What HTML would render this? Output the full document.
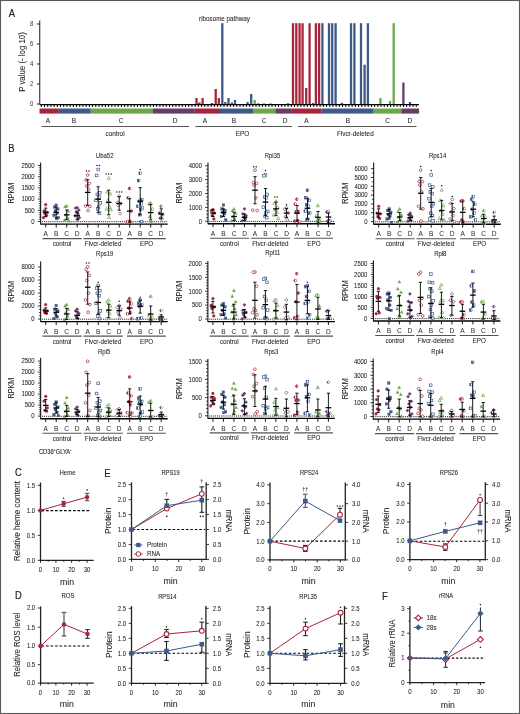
<!DOCTYPE html>
<html><head><meta charset="utf-8"><title>Figure</title>
<style>
html,body{margin:0;padding:0;background:#fff;}
body{width:520px;height:714px;overflow:hidden;}
svg{display:block;font-family:"Liberation Sans",sans-serif;will-change:transform;}
</style></head>
<body>
<svg width="520" height="714" viewBox="0 0 520 714">
<defs><linearGradient id="h0" x1="0" y1="0" x2="1" y2="0"><stop offset="0.5" stop-color="#a8243b"/><stop offset="0.5" stop-color="#fff"/></linearGradient><linearGradient id="h1" x1="0" y1="0" x2="1" y2="0"><stop offset="0.5" stop-color="#3d5a89"/><stop offset="0.5" stop-color="#fff"/></linearGradient><linearGradient id="h2" x1="0" y1="0" x2="1" y2="0"><stop offset="0.5" stop-color="#69a84c"/><stop offset="0.5" stop-color="#fff"/></linearGradient><linearGradient id="h3" x1="0" y1="0" x2="1" y2="0"><stop offset="0.5" stop-color="#683b6b"/><stop offset="0.5" stop-color="#fff"/></linearGradient></defs>
<rect x="0" y="0" width="520" height="714" fill="#fff"/>
<text transform="translate(11.95 17.32) scale(0.800 1)" font-size="11.76" text-anchor="middle" fill="#231f20" stroke="#231f20" stroke-width="0.22">A</text>
<line x1="39.75" y1="20.50" x2="39.75" y2="104.50" stroke="#000" stroke-width="0.9"/>
<line x1="36.75" y1="104.00" x2="39.75" y2="104.00" stroke="#000" stroke-width="0.8"/>
<text transform="translate(33.45 106.35) scale(0.890 1)" font-size="6.72" text-anchor="end" fill="#333">0</text>
<line x1="36.75" y1="84.00" x2="39.75" y2="84.00" stroke="#000" stroke-width="0.8"/>
<text transform="translate(33.45 86.35) scale(0.890 1)" font-size="6.72" text-anchor="end" fill="#333">2</text>
<line x1="36.75" y1="64.00" x2="39.75" y2="64.00" stroke="#000" stroke-width="0.8"/>
<text transform="translate(33.45 66.35) scale(0.890 1)" font-size="6.72" text-anchor="end" fill="#333">4</text>
<line x1="36.75" y1="44.00" x2="39.75" y2="44.00" stroke="#000" stroke-width="0.8"/>
<text transform="translate(33.45 46.35) scale(0.890 1)" font-size="6.72" text-anchor="end" fill="#333">6</text>
<line x1="36.75" y1="24.00" x2="39.75" y2="24.00" stroke="#000" stroke-width="0.8"/>
<text transform="translate(33.45 26.35) scale(0.890 1)" font-size="6.72" text-anchor="end" fill="#333">8</text>
<text transform="translate(22.00 62.00) rotate(-90) translate(0 3.10) scale(0.890 1)" font-size="8.85" text-anchor="middle" fill="#231f20" stroke="#231f20" stroke-width="0.07">P value (- log 10)</text>
<line x1="39.75" y1="104.60" x2="419.00" y2="104.60" stroke="#000" stroke-width="1.2"/>
<path d="M41.30 104.00V107.00 M44.50 104.00V107.00 M47.71 104.00V107.00 M50.91 104.00V107.00 M54.12 104.00V107.00 M57.32 104.00V107.00 M60.53 104.00V107.00 M63.73 104.00V107.00 M66.94 104.00V107.00 M70.14 104.00V107.00 M73.35 104.00V107.00 M76.56 104.00V107.00 M79.76 104.00V107.00 M82.97 104.00V107.00 M86.17 104.00V107.00 M89.38 104.00V107.00 M92.58 104.00V107.00 M95.78 104.00V107.00 M98.99 104.00V107.00 M102.19 104.00V107.00 M105.40 104.00V107.00 M108.61 104.00V107.00 M111.81 104.00V107.00 M115.02 104.00V107.00 M118.22 104.00V107.00 M121.42 104.00V107.00 M124.63 104.00V107.00 M127.83 104.00V107.00 M131.04 104.00V107.00 M134.25 104.00V107.00 M137.45 104.00V107.00 M140.66 104.00V107.00 M143.86 104.00V107.00 M147.06 104.00V107.00 M150.27 104.00V107.00 M153.47 104.00V107.00 M156.68 104.00V107.00 M159.88 104.00V107.00 M163.09 104.00V107.00 M166.30 104.00V107.00 M169.50 104.00V107.00 M172.70 104.00V107.00 M175.91 104.00V107.00 M179.12 104.00V107.00 M182.32 104.00V107.00 M185.52 104.00V107.00 M188.73 104.00V107.00 M191.94 104.00V107.00 M195.14 104.00V107.00 M198.35 104.00V107.00 M201.55 104.00V107.00 M204.75 104.00V107.00 M207.96 104.00V107.00 M211.17 104.00V107.00 M214.37 104.00V107.00 M217.57 104.00V107.00 M220.78 104.00V107.00 M223.99 104.00V107.00 M227.19 104.00V107.00 M230.39 104.00V107.00 M233.60 104.00V107.00 M236.81 104.00V107.00 M240.01 104.00V107.00 M243.21 104.00V107.00 M246.42 104.00V107.00 M249.62 104.00V107.00 M252.83 104.00V107.00 M256.04 104.00V107.00 M259.24 104.00V107.00 M262.44 104.00V107.00 M265.65 104.00V107.00 M268.86 104.00V107.00 M272.06 104.00V107.00 M275.26 104.00V107.00 M278.47 104.00V107.00 M281.68 104.00V107.00 M284.88 104.00V107.00 M288.08 104.00V107.00 M291.29 104.00V107.00 M294.50 104.00V107.00 M297.70 104.00V107.00 M300.91 104.00V107.00 M304.11 104.00V107.00 M307.31 104.00V107.00 M310.52 104.00V107.00 M313.73 104.00V107.00 M316.93 104.00V107.00 M320.13 104.00V107.00 M323.34 104.00V107.00 M326.55 104.00V107.00 M329.75 104.00V107.00 M332.96 104.00V107.00 M336.16 104.00V107.00 M339.37 104.00V107.00 M342.57 104.00V107.00 M345.78 104.00V107.00 M348.98 104.00V107.00 M352.19 104.00V107.00 M355.39 104.00V107.00 M358.60 104.00V107.00 M361.80 104.00V107.00 M365.00 104.00V107.00 M368.21 104.00V107.00 M371.42 104.00V107.00 M374.62 104.00V107.00 M377.83 104.00V107.00 M381.03 104.00V107.00 M384.24 104.00V107.00 M387.44 104.00V107.00 M390.65 104.00V107.00 M393.85 104.00V107.00 M397.06 104.00V107.00 M400.26 104.00V107.00 M403.47 104.00V107.00 M406.67 104.00V107.00 M409.88 104.00V107.00 M413.08 104.00V107.00 M416.29 104.00V107.00" stroke="#000" stroke-width="1.0"/>
<rect x="39.50" y="108.50" width="19.30" height="5.10" fill="#a8243b"/>
<rect x="58.80" y="108.50" width="31.95" height="5.10" fill="#3d5a89"/>
<rect x="90.75" y="108.50" width="62.25" height="5.10" fill="#69a84c"/>
<rect x="153.00" y="108.50" width="41.80" height="5.10" fill="#683b6b"/>
<rect x="194.80" y="108.50" width="25.20" height="5.10" fill="#a8243b"/>
<rect x="220.00" y="108.50" width="33.00" height="5.10" fill="#3d5a89"/>
<rect x="253.00" y="108.50" width="22.30" height="5.10" fill="#69a84c"/>
<rect x="275.30" y="108.50" width="16.60" height="5.10" fill="#683b6b"/>
<rect x="291.90" y="108.50" width="29.70" height="5.10" fill="#a8243b"/>
<rect x="321.60" y="108.50" width="51.40" height="5.10" fill="#3d5a89"/>
<rect x="373.00" y="108.50" width="28.20" height="5.10" fill="#69a84c"/>
<rect x="401.20" y="108.50" width="17.90" height="5.10" fill="#683b6b"/>
<text transform="translate(47.90 122.75) scale(0.890 1)" font-size="7.28" text-anchor="middle" fill="#231f20" stroke="#231f20" stroke-width="0.07">A</text>
<text transform="translate(74.00 122.75) scale(0.890 1)" font-size="7.28" text-anchor="middle" fill="#231f20" stroke="#231f20" stroke-width="0.07">B</text>
<text transform="translate(121.00 122.75) scale(0.890 1)" font-size="7.28" text-anchor="middle" fill="#231f20" stroke="#231f20" stroke-width="0.07">C</text>
<text transform="translate(175.20 122.75) scale(0.890 1)" font-size="7.28" text-anchor="middle" fill="#231f20" stroke="#231f20" stroke-width="0.07">D</text>
<text transform="translate(205.00 122.75) scale(0.890 1)" font-size="7.28" text-anchor="middle" fill="#231f20" stroke="#231f20" stroke-width="0.07">A</text>
<text transform="translate(234.00 122.75) scale(0.890 1)" font-size="7.28" text-anchor="middle" fill="#231f20" stroke="#231f20" stroke-width="0.07">B</text>
<text transform="translate(264.00 122.75) scale(0.890 1)" font-size="7.28" text-anchor="middle" fill="#231f20" stroke="#231f20" stroke-width="0.07">C</text>
<text transform="translate(285.00 122.75) scale(0.890 1)" font-size="7.28" text-anchor="middle" fill="#231f20" stroke="#231f20" stroke-width="0.07">D</text>
<text transform="translate(306.40 122.75) scale(0.890 1)" font-size="7.28" text-anchor="middle" fill="#231f20" stroke="#231f20" stroke-width="0.07">A</text>
<text transform="translate(348.00 122.75) scale(0.890 1)" font-size="7.28" text-anchor="middle" fill="#231f20" stroke="#231f20" stroke-width="0.07">B</text>
<text transform="translate(387.70 122.75) scale(0.890 1)" font-size="7.28" text-anchor="middle" fill="#231f20" stroke="#231f20" stroke-width="0.07">C</text>
<text transform="translate(409.80 122.75) scale(0.890 1)" font-size="7.28" text-anchor="middle" fill="#231f20" stroke="#231f20" stroke-width="0.07">D</text>
<line x1="41.50" y1="126.50" x2="189.00" y2="126.50" stroke="#555" stroke-width="1.1"/>
<line x1="195.40" y1="126.50" x2="292.00" y2="126.50" stroke="#555" stroke-width="1.1"/>
<line x1="298.00" y1="126.50" x2="416.50" y2="126.50" stroke="#555" stroke-width="1.1"/>
<text transform="translate(115.00 136.31) scale(0.890 1)" font-size="7.17" text-anchor="middle" fill="#231f20" stroke="#231f20" stroke-width="0.07">control</text>
<text transform="translate(242.50 136.31) scale(0.890 1)" font-size="7.17" text-anchor="middle" fill="#231f20" stroke="#231f20" stroke-width="0.07">EPO</text>
<text transform="translate(355.30 136.11) scale(0.890 1)" font-size="7.17" text-anchor="middle" fill="#231f20" stroke="#231f20" stroke-width="0.07">Flvcr-deleted</text>
<text transform="translate(224.50 20.87) scale(0.890 1)" font-size="7.06" text-anchor="middle" fill="#231f20" stroke="#231f20" stroke-width="0.07">ribosome pathway</text>
<rect x="195.35" y="98.00" width="2.30" height="6.00" fill="#a8243b"/>
<rect x="198.25" y="102.40" width="2.30" height="1.60" fill="#a8243b"/>
<rect x="201.45" y="98.00" width="2.30" height="6.00" fill="#a8243b"/>
<rect x="210.85" y="103.00" width="2.30" height="1.00" fill="#a8243b"/>
<rect x="214.55" y="89.00" width="2.30" height="15.00" fill="#a8243b"/>
<rect x="217.65" y="98.00" width="2.30" height="6.00" fill="#a8243b"/>
<rect x="221.15" y="23.20" width="2.30" height="80.80" fill="#3d5a89"/>
<rect x="224.15" y="102.00" width="2.30" height="2.00" fill="#3d5a89"/>
<rect x="227.35" y="98.00" width="2.30" height="6.00" fill="#3d5a89"/>
<rect x="230.75" y="102.50" width="2.30" height="1.50" fill="#3d5a89"/>
<rect x="233.85" y="100.00" width="2.30" height="4.00" fill="#3d5a89"/>
<rect x="246.45" y="102.00" width="2.30" height="2.00" fill="#3d5a89"/>
<rect x="250.05" y="94.00" width="2.30" height="10.00" fill="#3d5a89"/>
<rect x="253.55" y="100.00" width="2.30" height="4.00" fill="#69a84c"/>
<rect x="256.85" y="103.00" width="2.30" height="1.00" fill="#69a84c"/>
<rect x="262.85" y="103.20" width="2.30" height="0.80" fill="#69a84c"/>
<rect x="269.35" y="103.20" width="2.30" height="0.80" fill="#69a84c"/>
<rect x="286.85" y="103.30" width="2.30" height="0.70" fill="#683b6b"/>
<rect x="291.85" y="23.20" width="2.30" height="80.80" fill="#a8243b"/>
<rect x="295.15" y="23.20" width="2.30" height="80.80" fill="#a8243b"/>
<rect x="298.45" y="23.20" width="2.30" height="80.80" fill="#a8243b"/>
<rect x="301.45" y="23.20" width="2.30" height="80.80" fill="#a8243b"/>
<rect x="305.05" y="88.00" width="2.30" height="16.00" fill="#a8243b"/>
<rect x="308.45" y="23.20" width="2.30" height="80.80" fill="#a8243b"/>
<rect x="311.85" y="103.00" width="2.30" height="1.00" fill="#a8243b"/>
<rect x="314.75" y="23.20" width="2.30" height="80.80" fill="#a8243b"/>
<rect x="317.95" y="23.20" width="2.30" height="80.80" fill="#a8243b"/>
<rect x="321.25" y="23.20" width="2.30" height="80.80" fill="#3d5a89"/>
<rect x="327.85" y="23.20" width="2.30" height="80.80" fill="#3d5a89"/>
<rect x="331.05" y="23.20" width="2.30" height="80.80" fill="#3d5a89"/>
<rect x="334.45" y="23.20" width="2.30" height="80.80" fill="#3d5a89"/>
<rect x="340.75" y="102.80" width="2.30" height="1.20" fill="#3d5a89"/>
<rect x="349.85" y="23.20" width="2.30" height="80.80" fill="#3d5a89"/>
<rect x="353.25" y="23.20" width="2.30" height="80.80" fill="#3d5a89"/>
<rect x="359.85" y="23.20" width="2.30" height="80.80" fill="#3d5a89"/>
<rect x="363.45" y="64.70" width="2.30" height="39.30" fill="#3d5a89"/>
<rect x="366.75" y="23.20" width="2.30" height="80.80" fill="#3d5a89"/>
<rect x="379.25" y="98.00" width="2.30" height="6.00" fill="#69a84c"/>
<rect x="388.85" y="101.00" width="2.30" height="3.00" fill="#69a84c"/>
<rect x="392.55" y="23.20" width="2.30" height="80.80" fill="#69a84c"/>
<rect x="402.25" y="82.50" width="2.30" height="21.50" fill="#683b6b"/>
<rect x="408.85" y="102.00" width="2.30" height="2.00" fill="#683b6b"/>
<line x1="40.70" y1="162.50" x2="40.70" y2="224.60" stroke="#000" stroke-width="1.0"/>
<line x1="37.90" y1="221.50" x2="40.70" y2="221.50" stroke="#000" stroke-width="0.8"/>
<text transform="translate(34.70 223.85) scale(0.890 1)" font-size="6.72" text-anchor="end" fill="#222" stroke="#222" stroke-width="0.05">0</text>
<line x1="37.90" y1="210.30" x2="40.70" y2="210.30" stroke="#000" stroke-width="0.8"/>
<text transform="translate(34.70 212.65) scale(0.890 1)" font-size="6.72" text-anchor="end" fill="#222" stroke="#222" stroke-width="0.05">500</text>
<line x1="37.90" y1="199.10" x2="40.70" y2="199.10" stroke="#000" stroke-width="0.8"/>
<text transform="translate(34.70 201.45) scale(0.890 1)" font-size="6.72" text-anchor="end" fill="#222" stroke="#222" stroke-width="0.05">1000</text>
<line x1="37.90" y1="187.90" x2="40.70" y2="187.90" stroke="#000" stroke-width="0.8"/>
<text transform="translate(34.70 190.25) scale(0.890 1)" font-size="6.72" text-anchor="end" fill="#222" stroke="#222" stroke-width="0.05">1500</text>
<line x1="37.90" y1="176.70" x2="40.70" y2="176.70" stroke="#000" stroke-width="0.8"/>
<text transform="translate(34.70 179.05) scale(0.890 1)" font-size="6.72" text-anchor="end" fill="#222" stroke="#222" stroke-width="0.05">2000</text>
<line x1="37.90" y1="165.50" x2="40.70" y2="165.50" stroke="#000" stroke-width="0.8"/>
<text transform="translate(34.70 167.85) scale(0.890 1)" font-size="6.72" text-anchor="end" fill="#222" stroke="#222" stroke-width="0.05">2500</text>
<path d="M38.90 219.26H40.70 M38.90 217.02H40.70 M38.90 214.78H40.70 M38.90 212.54H40.70 M38.90 208.06H40.70 M38.90 205.82H40.70 M38.90 203.58H40.70 M38.90 201.34H40.70 M38.90 196.86H40.70 M38.90 194.62H40.70 M38.90 192.38H40.70 M38.90 190.14H40.70 M38.90 185.66H40.70 M38.90 183.42H40.70 M38.90 181.18H40.70 M38.90 178.94H40.70 M38.90 174.46H40.70 M38.90 172.22H40.70 M38.90 169.98H40.70 M38.90 167.74H40.70" stroke="#000" stroke-width="0.7"/>
<line x1="40.70" y1="224.10" x2="167.70" y2="224.10" stroke="#000" stroke-width="1.4"/>
<line x1="42.20" y1="221.70" x2="167.70" y2="221.70" stroke="#111" stroke-width="1.0" stroke-dasharray="0.95 0.95"/>
<line x1="45.70" y1="224.10" x2="45.70" y2="227.50" stroke="#000" stroke-width="0.9"/>
<text transform="translate(45.70 236.39) scale(0.890 1)" font-size="7.39" text-anchor="middle" fill="#333" stroke="#333" stroke-width="0.05">A</text>
<line x1="56.20" y1="224.10" x2="56.20" y2="227.50" stroke="#000" stroke-width="0.9"/>
<text transform="translate(56.20 236.39) scale(0.890 1)" font-size="7.39" text-anchor="middle" fill="#333" stroke="#333" stroke-width="0.05">B</text>
<line x1="66.70" y1="224.10" x2="66.70" y2="227.50" stroke="#000" stroke-width="0.9"/>
<text transform="translate(66.70 236.39) scale(0.890 1)" font-size="7.39" text-anchor="middle" fill="#333" stroke="#333" stroke-width="0.05">C</text>
<line x1="77.20" y1="224.10" x2="77.20" y2="227.50" stroke="#000" stroke-width="0.9"/>
<text transform="translate(77.20 236.39) scale(0.890 1)" font-size="7.39" text-anchor="middle" fill="#333" stroke="#333" stroke-width="0.05">D</text>
<line x1="87.70" y1="224.10" x2="87.70" y2="227.50" stroke="#000" stroke-width="0.9"/>
<text transform="translate(87.70 236.39) scale(0.890 1)" font-size="7.39" text-anchor="middle" fill="#333" stroke="#333" stroke-width="0.05">A</text>
<line x1="98.20" y1="224.10" x2="98.20" y2="227.50" stroke="#000" stroke-width="0.9"/>
<text transform="translate(98.20 236.39) scale(0.890 1)" font-size="7.39" text-anchor="middle" fill="#333" stroke="#333" stroke-width="0.05">B</text>
<line x1="108.70" y1="224.10" x2="108.70" y2="227.50" stroke="#000" stroke-width="0.9"/>
<text transform="translate(108.70 236.39) scale(0.890 1)" font-size="7.39" text-anchor="middle" fill="#333" stroke="#333" stroke-width="0.05">C</text>
<line x1="119.20" y1="224.10" x2="119.20" y2="227.50" stroke="#000" stroke-width="0.9"/>
<text transform="translate(119.20 236.39) scale(0.890 1)" font-size="7.39" text-anchor="middle" fill="#333" stroke="#333" stroke-width="0.05">D</text>
<line x1="129.70" y1="224.10" x2="129.70" y2="227.50" stroke="#000" stroke-width="0.9"/>
<text transform="translate(129.70 236.39) scale(0.890 1)" font-size="7.39" text-anchor="middle" fill="#333" stroke="#333" stroke-width="0.05">A</text>
<line x1="140.20" y1="224.10" x2="140.20" y2="227.50" stroke="#000" stroke-width="0.9"/>
<text transform="translate(140.20 236.39) scale(0.890 1)" font-size="7.39" text-anchor="middle" fill="#333" stroke="#333" stroke-width="0.05">B</text>
<line x1="150.70" y1="224.10" x2="150.70" y2="227.50" stroke="#000" stroke-width="0.9"/>
<text transform="translate(150.70 236.39) scale(0.890 1)" font-size="7.39" text-anchor="middle" fill="#333" stroke="#333" stroke-width="0.05">C</text>
<line x1="161.20" y1="224.10" x2="161.20" y2="227.50" stroke="#000" stroke-width="0.9"/>
<text transform="translate(161.20 236.39) scale(0.890 1)" font-size="7.39" text-anchor="middle" fill="#333" stroke="#333" stroke-width="0.05">D</text>
<line x1="42.50" y1="238.60" x2="81.70" y2="238.60" stroke="#555" stroke-width="1.1"/>
<line x1="83.50" y1="238.60" x2="122.90" y2="238.60" stroke="#555" stroke-width="1.1"/>
<line x1="127.00" y1="238.60" x2="165.80" y2="238.60" stroke="#555" stroke-width="1.1"/>
<text transform="translate(62.10 246.17) scale(0.890 1)" font-size="7.06" text-anchor="middle" fill="#231f20" stroke="#231f20" stroke-width="0.07">control</text>
<text transform="translate(103.00 246.17) scale(0.890 1)" font-size="7.06" text-anchor="middle" fill="#231f20" stroke="#231f20" stroke-width="0.07">Flvcr-deleted</text>
<text transform="translate(146.60 246.17) scale(0.890 1)" font-size="7.06" text-anchor="middle" fill="#231f20" stroke="#231f20" stroke-width="0.07">EPO</text>
<text transform="translate(11.20 193.20) rotate(-90) translate(0 2.98) scale(0.850 1)" font-size="8.51" text-anchor="middle" fill="#231f20" stroke="#231f20" stroke-width="0.07">RPKM</text>
<text transform="translate(104.70 157.85) scale(0.890 1)" font-size="6.72" text-anchor="middle" fill="#231f20" stroke="#231f20" stroke-width="0.07">Uba52</text>
<circle cx="45.70" cy="204.71" r="1.40" fill="#a8243b" stroke="#a8243b" stroke-width="0.3"/>
<circle cx="44.09" cy="210.96" r="1.40" fill="#a8243b" stroke="#a8243b" stroke-width="0.3"/>
<circle cx="47.32" cy="212.40" r="1.40" fill="#a8243b" stroke="#a8243b" stroke-width="0.3"/>
<circle cx="44.85" cy="213.85" r="1.40" fill="#a8243b" stroke="#a8243b" stroke-width="0.3"/>
<circle cx="46.55" cy="215.29" r="1.40" fill="#a8243b" stroke="#a8243b" stroke-width="0.3"/>
<circle cx="43.49" cy="217.69" r="1.40" fill="#a8243b" stroke="#a8243b" stroke-width="0.3"/>
<line x1="45.70" y1="208.08" x2="45.70" y2="216.73" stroke="#000" stroke-width="0.9"/>
<line x1="44.10" y1="208.08" x2="47.30" y2="208.08" stroke="#000" stroke-width="0.9"/>
<line x1="44.10" y1="216.73" x2="47.30" y2="216.73" stroke="#000" stroke-width="0.9"/>
<line x1="42.90" y1="212.40" x2="48.50" y2="212.40" stroke="#000" stroke-width="1.3"/>
<rect x="54.90" y="203.89" width="2.60" height="2.60" fill="#3d5a89" stroke="#3d5a89" stroke-width="0.3"/>
<rect x="53.29" y="205.82" width="2.60" height="2.60" fill="#3d5a89" stroke="#3d5a89" stroke-width="0.3"/>
<rect x="56.52" y="207.74" width="2.60" height="2.60" fill="#3d5a89" stroke="#3d5a89" stroke-width="0.3"/>
<rect x="54.05" y="209.66" width="2.60" height="2.60" fill="#3d5a89" stroke="#3d5a89" stroke-width="0.3"/>
<rect x="55.75" y="212.07" width="2.60" height="2.60" fill="#3d5a89" stroke="#3d5a89" stroke-width="0.3"/>
<rect x="52.69" y="213.99" width="2.60" height="2.60" fill="#3d5a89" stroke="#3d5a89" stroke-width="0.3"/>
<rect x="57.11" y="216.39" width="2.60" height="2.60" fill="#3d5a89" stroke="#3d5a89" stroke-width="0.3"/>
<rect x="55.33" y="217.35" width="2.60" height="2.60" fill="#3d5a89" stroke="#3d5a89" stroke-width="0.3"/>
<line x1="56.20" y1="207.12" x2="56.20" y2="217.69" stroke="#000" stroke-width="0.9"/>
<line x1="54.60" y1="207.12" x2="57.80" y2="207.12" stroke="#000" stroke-width="0.9"/>
<line x1="54.60" y1="217.69" x2="57.80" y2="217.69" stroke="#000" stroke-width="0.9"/>
<line x1="53.40" y1="212.40" x2="59.00" y2="212.40" stroke="#000" stroke-width="1.3"/>
<path d="M66.70 204.36L68.30 207.24L65.10 207.24Z" fill="#69a84c" stroke="#69a84c" stroke-width="0.3"/>
<path d="M65.09 205.03L66.69 207.91L63.49 207.91Z" fill="#69a84c" stroke="#69a84c" stroke-width="0.3"/>
<path d="M68.31 209.36L69.91 212.24L66.72 212.24Z" fill="#69a84c" stroke="#69a84c" stroke-width="0.3"/>
<path d="M65.85 213.21L67.45 216.09L64.25 216.09Z" fill="#69a84c" stroke="#69a84c" stroke-width="0.3"/>
<path d="M67.55 216.09L69.15 218.97L65.95 218.97Z" fill="#69a84c" stroke="#69a84c" stroke-width="0.3"/>
<path d="M64.49 218.50L66.09 221.38L62.89 221.38Z" fill="#69a84c" stroke="#69a84c" stroke-width="0.3"/>
<path d="M68.91 219.17L70.51 222.05L67.31 222.05Z" fill="#69a84c" stroke="#69a84c" stroke-width="0.3"/>
<line x1="66.70" y1="210.00" x2="66.70" y2="219.62" stroke="#000" stroke-width="0.9"/>
<line x1="65.10" y1="210.00" x2="68.30" y2="210.00" stroke="#000" stroke-width="0.9"/>
<line x1="65.10" y1="219.62" x2="68.30" y2="219.62" stroke="#000" stroke-width="0.9"/>
<line x1="63.90" y1="214.81" x2="69.50" y2="214.81" stroke="#000" stroke-width="1.3"/>
<path d="M77.20 205.95L78.85 207.60L77.20 209.25L75.55 207.60Z" fill="#683b6b" stroke="#683b6b" stroke-width="0.3"/>
<path d="M75.59 206.43L77.24 208.08L75.59 209.73L73.94 208.08Z" fill="#683b6b" stroke="#683b6b" stroke-width="0.3"/>
<path d="M78.81 208.35L80.47 210.00L78.81 211.65L77.16 210.00Z" fill="#683b6b" stroke="#683b6b" stroke-width="0.3"/>
<path d="M76.35 210.27L78.00 211.92L76.35 213.57L74.70 211.92Z" fill="#683b6b" stroke="#683b6b" stroke-width="0.3"/>
<path d="M78.05 212.20L79.70 213.85L78.05 215.50L76.40 213.85Z" fill="#683b6b" stroke="#683b6b" stroke-width="0.3"/>
<path d="M74.99 214.12L76.64 215.77L74.99 217.42L73.34 215.77Z" fill="#683b6b" stroke="#683b6b" stroke-width="0.3"/>
<path d="M79.41 216.04L81.06 217.69L79.41 219.34L77.76 217.69Z" fill="#683b6b" stroke="#683b6b" stroke-width="0.3"/>
<path d="M77.62 217.97L79.28 219.62L77.62 221.27L75.97 219.62Z" fill="#683b6b" stroke="#683b6b" stroke-width="0.3"/>
<line x1="77.20" y1="211.92" x2="77.20" y2="219.13" stroke="#000" stroke-width="0.9"/>
<line x1="75.60" y1="211.92" x2="78.80" y2="211.92" stroke="#000" stroke-width="0.9"/>
<line x1="75.60" y1="219.13" x2="78.80" y2="219.13" stroke="#000" stroke-width="0.9"/>
<line x1="74.40" y1="215.77" x2="80.00" y2="215.77" stroke="#000" stroke-width="1.3"/>
<circle cx="87.70" cy="174.95" r="1.40" fill="#fff" stroke="#a8243b" stroke-width="0.7"/>
<circle cx="86.09" cy="180.03" r="1.40" fill="#fff" stroke="#a8243b" stroke-width="0.7"/>
<circle cx="89.31" cy="183.42" r="1.40" fill="#fff" stroke="#a8243b" stroke-width="0.7"/>
<circle cx="86.85" cy="185.97" r="1.40" fill="#fff" stroke="#a8243b" stroke-width="0.7"/>
<circle cx="88.55" cy="189.36" r="1.40" fill="#fff" stroke="#a8243b" stroke-width="0.7"/>
<circle cx="85.49" cy="205.97" r="1.40" fill="#fff" stroke="#a8243b" stroke-width="0.7"/>
<circle cx="89.91" cy="206.31" r="1.40" fill="#fff" stroke="#a8243b" stroke-width="0.7"/>
<circle cx="88.12" cy="210.54" r="1.40" fill="#fff" stroke="#a8243b" stroke-width="0.7"/>
<line x1="87.70" y1="179.69" x2="87.70" y2="205.46" stroke="#000" stroke-width="0.9"/>
<line x1="86.10" y1="179.69" x2="89.30" y2="179.69" stroke="#000" stroke-width="0.9"/>
<line x1="86.10" y1="205.46" x2="89.30" y2="205.46" stroke="#000" stroke-width="0.9"/>
<line x1="84.90" y1="192.41" x2="90.50" y2="192.41" stroke="#000" stroke-width="1.3"/>
<circle cx="86.45" cy="171.11" r="0.78" fill="#222"/>
<circle cx="88.95" cy="171.11" r="0.78" fill="#222"/>
<rect x="96.90" y="168.23" width="2.60" height="2.60" fill="#fff" stroke="#3d5a89" stroke-width="0.7"/>
<rect x="95.29" y="174.16" width="2.60" height="2.60" fill="#fff" stroke="#3d5a89" stroke-width="0.7"/>
<rect x="98.52" y="191.45" width="2.60" height="2.60" fill="#fff" stroke="#3d5a89" stroke-width="0.7"/>
<rect x="96.05" y="193.14" width="2.60" height="2.60" fill="#fff" stroke="#3d5a89" stroke-width="0.7"/>
<rect x="97.75" y="195.68" width="2.60" height="2.60" fill="#fff" stroke="#3d5a89" stroke-width="0.7"/>
<rect x="94.69" y="199.07" width="2.60" height="2.60" fill="#fff" stroke="#3d5a89" stroke-width="0.7"/>
<rect x="99.11" y="201.62" width="2.60" height="2.60" fill="#fff" stroke="#3d5a89" stroke-width="0.7"/>
<rect x="97.33" y="205.85" width="2.60" height="2.60" fill="#fff" stroke="#3d5a89" stroke-width="0.7"/>
<rect x="96.48" y="207.55" width="2.60" height="2.60" fill="#fff" stroke="#3d5a89" stroke-width="0.7"/>
<rect x="98.18" y="211.78" width="2.60" height="2.60" fill="#fff" stroke="#3d5a89" stroke-width="0.7"/>
<line x1="98.20" y1="186.81" x2="98.20" y2="212.58" stroke="#000" stroke-width="0.9"/>
<line x1="96.60" y1="186.81" x2="99.80" y2="186.81" stroke="#000" stroke-width="0.9"/>
<line x1="96.60" y1="212.58" x2="99.80" y2="212.58" stroke="#000" stroke-width="0.9"/>
<line x1="95.40" y1="199.19" x2="101.00" y2="199.19" stroke="#000" stroke-width="1.3"/>
<circle cx="96.95" cy="165.52" r="0.78" fill="#222"/>
<circle cx="99.45" cy="165.52" r="0.78" fill="#222"/>
<path d="M108.70 176.40L110.30 179.28L107.10 179.28Z" fill="#fff" stroke="#69a84c" stroke-width="0.7"/>
<path d="M107.09 190.30L108.69 193.18L105.49 193.18Z" fill="#fff" stroke="#69a84c" stroke-width="0.7"/>
<path d="M110.31 191.99L111.91 194.87L108.72 194.87Z" fill="#fff" stroke="#69a84c" stroke-width="0.7"/>
<path d="M107.85 198.77L109.45 201.65L106.25 201.65Z" fill="#fff" stroke="#69a84c" stroke-width="0.7"/>
<path d="M109.55 205.55L111.15 208.43L107.95 208.43Z" fill="#fff" stroke="#69a84c" stroke-width="0.7"/>
<path d="M106.49 207.25L108.09 210.13L104.89 210.13Z" fill="#fff" stroke="#69a84c" stroke-width="0.7"/>
<path d="M110.91 208.09L112.51 210.97L109.31 210.97Z" fill="#fff" stroke="#69a84c" stroke-width="0.7"/>
<path d="M109.12 215.72L110.72 218.60L107.53 218.60Z" fill="#fff" stroke="#69a84c" stroke-width="0.7"/>
<line x1="108.70" y1="190.20" x2="108.70" y2="214.78" stroke="#000" stroke-width="0.9"/>
<line x1="107.10" y1="190.20" x2="110.30" y2="190.20" stroke="#000" stroke-width="0.9"/>
<line x1="107.10" y1="214.78" x2="110.30" y2="214.78" stroke="#000" stroke-width="0.9"/>
<line x1="105.90" y1="202.41" x2="111.50" y2="202.41" stroke="#000" stroke-width="1.3"/>
<circle cx="106.20" cy="173.99" r="0.78" fill="#222"/>
<circle cx="108.70" cy="173.99" r="0.78" fill="#222"/>
<circle cx="111.20" cy="173.99" r="0.78" fill="#222"/>
<path d="M119.20 194.49L120.85 196.14L119.20 197.79L117.55 196.14Z" fill="#fff" stroke="#683b6b" stroke-width="0.7"/>
<path d="M117.59 200.76L119.24 202.41L117.59 204.06L115.94 202.41Z" fill="#fff" stroke="#683b6b" stroke-width="0.7"/>
<path d="M120.81 201.77L122.47 203.42L120.81 205.07L119.16 203.42Z" fill="#fff" stroke="#683b6b" stroke-width="0.7"/>
<path d="M118.35 203.81L120.00 205.46L118.35 207.11L116.70 205.46Z" fill="#fff" stroke="#683b6b" stroke-width="0.7"/>
<path d="M120.05 211.94L121.70 213.59L120.05 215.24L118.40 213.59Z" fill="#fff" stroke="#683b6b" stroke-width="0.7"/>
<line x1="119.20" y1="196.64" x2="119.20" y2="210.20" stroke="#000" stroke-width="0.9"/>
<line x1="117.60" y1="196.64" x2="120.80" y2="196.64" stroke="#000" stroke-width="0.9"/>
<line x1="117.60" y1="210.20" x2="120.80" y2="210.20" stroke="#000" stroke-width="0.9"/>
<line x1="116.40" y1="203.42" x2="122.00" y2="203.42" stroke="#000" stroke-width="1.3"/>
<circle cx="116.70" cy="191.96" r="0.78" fill="#222"/>
<circle cx="119.20" cy="191.96" r="0.78" fill="#222"/>
<circle cx="121.70" cy="191.96" r="0.78" fill="#222"/>
<circle cx="129.70" cy="188.51" r="1.40" fill="url(#h0)" stroke="#a8243b" stroke-width="0.6"/>
<circle cx="128.08" cy="197.83" r="1.40" fill="url(#h0)" stroke="#a8243b" stroke-width="0.6"/>
<circle cx="131.31" cy="211.05" r="1.40" fill="url(#h0)" stroke="#a8243b" stroke-width="0.6"/>
<circle cx="128.85" cy="221.56" r="1.40" fill="url(#h0)" stroke="#a8243b" stroke-width="0.6"/>
<circle cx="130.55" cy="221.56" r="1.40" fill="url(#h0)" stroke="#a8243b" stroke-width="0.6"/>
<circle cx="127.49" cy="221.56" r="1.40" fill="url(#h0)" stroke="#a8243b" stroke-width="0.6"/>
<line x1="129.70" y1="198.68" x2="129.70" y2="222.07" stroke="#000" stroke-width="0.9"/>
<line x1="128.10" y1="198.68" x2="131.30" y2="198.68" stroke="#000" stroke-width="0.9"/>
<line x1="128.10" y1="222.07" x2="131.30" y2="222.07" stroke="#000" stroke-width="0.9"/>
<line x1="126.90" y1="211.05" x2="132.50" y2="211.05" stroke="#000" stroke-width="1.3"/>
<rect x="138.90" y="171.95" width="2.60" height="2.60" fill="url(#h1)" stroke="#3d5a89" stroke-width="0.6"/>
<rect x="137.28" y="179.24" width="2.60" height="2.60" fill="url(#h1)" stroke="#3d5a89" stroke-width="0.6"/>
<rect x="140.51" y="198.23" width="2.60" height="2.60" fill="url(#h1)" stroke="#3d5a89" stroke-width="0.6"/>
<rect x="138.05" y="199.92" width="2.60" height="2.60" fill="url(#h1)" stroke="#3d5a89" stroke-width="0.6"/>
<rect x="139.75" y="202.46" width="2.60" height="2.60" fill="url(#h1)" stroke="#3d5a89" stroke-width="0.6"/>
<rect x="136.69" y="205.01" width="2.60" height="2.60" fill="url(#h1)" stroke="#3d5a89" stroke-width="0.6"/>
<rect x="141.11" y="206.70" width="2.60" height="2.60" fill="url(#h1)" stroke="#3d5a89" stroke-width="0.6"/>
<rect x="139.32" y="208.39" width="2.60" height="2.60" fill="url(#h1)" stroke="#3d5a89" stroke-width="0.6"/>
<rect x="138.47" y="213.48" width="2.60" height="2.60" fill="url(#h1)" stroke="#3d5a89" stroke-width="0.6"/>
<rect x="140.17" y="220.26" width="2.60" height="2.60" fill="url(#h1)" stroke="#3d5a89" stroke-width="0.6"/>
<line x1="140.20" y1="187.66" x2="140.20" y2="214.78" stroke="#000" stroke-width="0.9"/>
<line x1="138.60" y1="187.66" x2="141.80" y2="187.66" stroke="#000" stroke-width="0.9"/>
<line x1="138.60" y1="214.78" x2="141.80" y2="214.78" stroke="#000" stroke-width="0.9"/>
<line x1="137.40" y1="201.22" x2="143.00" y2="201.22" stroke="#000" stroke-width="1.3"/>
<circle cx="140.20" cy="169.42" r="0.78" fill="#222"/>
<path d="M150.70 201.32L152.30 204.20L149.10 204.20Z" fill="url(#h2)" stroke="#69a84c" stroke-width="0.6"/>
<path d="M149.08 202.16L150.68 205.04L147.48 205.04Z" fill="url(#h2)" stroke="#69a84c" stroke-width="0.6"/>
<path d="M152.31 207.25L153.91 210.13L150.72 210.13Z" fill="url(#h2)" stroke="#69a84c" stroke-width="0.6"/>
<path d="M149.85 214.87L151.45 217.75L148.25 217.75Z" fill="url(#h2)" stroke="#69a84c" stroke-width="0.6"/>
<path d="M151.55 220.47L153.15 223.35L149.95 223.35Z" fill="url(#h2)" stroke="#69a84c" stroke-width="0.6"/>
<line x1="150.70" y1="204.61" x2="150.70" y2="219.86" stroke="#000" stroke-width="0.9"/>
<line x1="149.10" y1="204.61" x2="152.30" y2="204.61" stroke="#000" stroke-width="0.9"/>
<line x1="149.10" y1="219.86" x2="152.30" y2="219.86" stroke="#000" stroke-width="0.9"/>
<line x1="147.90" y1="212.58" x2="153.50" y2="212.58" stroke="#000" stroke-width="1.3"/>
<path d="M161.20 204.66L162.85 206.31L161.20 207.96L159.55 206.31Z" fill="url(#h3)" stroke="#683b6b" stroke-width="0.6"/>
<path d="M159.58 211.43L161.23 213.08L159.58 214.73L157.93 213.08Z" fill="url(#h3)" stroke="#683b6b" stroke-width="0.6"/>
<path d="M162.81 213.13L164.47 214.78L162.81 216.43L161.16 214.78Z" fill="url(#h3)" stroke="#683b6b" stroke-width="0.6"/>
<path d="M160.35 216.52L162.00 218.17L160.35 219.82L158.70 218.17Z" fill="url(#h3)" stroke="#683b6b" stroke-width="0.6"/>
<path d="M162.05 217.37L163.70 219.02L162.05 220.67L160.40 219.02Z" fill="url(#h3)" stroke="#683b6b" stroke-width="0.6"/>
<line x1="161.20" y1="208.85" x2="161.20" y2="218.17" stroke="#000" stroke-width="0.9"/>
<line x1="159.60" y1="208.85" x2="162.80" y2="208.85" stroke="#000" stroke-width="0.9"/>
<line x1="159.60" y1="218.17" x2="162.80" y2="218.17" stroke="#000" stroke-width="0.9"/>
<line x1="158.40" y1="213.93" x2="164.00" y2="213.93" stroke="#000" stroke-width="1.3"/>
<line x1="208.00" y1="162.50" x2="208.00" y2="224.30" stroke="#000" stroke-width="1.0"/>
<line x1="205.20" y1="221.20" x2="208.00" y2="221.20" stroke="#000" stroke-width="0.8"/>
<text transform="translate(202.00 223.55) scale(0.890 1)" font-size="6.72" text-anchor="end" fill="#222" stroke="#222" stroke-width="0.05">0</text>
<line x1="205.20" y1="207.35" x2="208.00" y2="207.35" stroke="#000" stroke-width="0.8"/>
<text transform="translate(202.00 209.70) scale(0.890 1)" font-size="6.72" text-anchor="end" fill="#222" stroke="#222" stroke-width="0.05">1000</text>
<line x1="205.20" y1="193.50" x2="208.00" y2="193.50" stroke="#000" stroke-width="0.8"/>
<text transform="translate(202.00 195.85) scale(0.890 1)" font-size="6.72" text-anchor="end" fill="#222" stroke="#222" stroke-width="0.05">2000</text>
<line x1="205.20" y1="179.65" x2="208.00" y2="179.65" stroke="#000" stroke-width="0.8"/>
<text transform="translate(202.00 182.00) scale(0.890 1)" font-size="6.72" text-anchor="end" fill="#222" stroke="#222" stroke-width="0.05">3000</text>
<line x1="205.20" y1="165.80" x2="208.00" y2="165.80" stroke="#000" stroke-width="0.8"/>
<text transform="translate(202.00 168.15) scale(0.890 1)" font-size="6.72" text-anchor="end" fill="#222" stroke="#222" stroke-width="0.05">4000</text>
<path d="M206.20 217.74H208.00 M206.20 214.27H208.00 M206.20 210.81H208.00 M206.20 203.89H208.00 M206.20 200.42H208.00 M206.20 196.96H208.00 M206.20 190.04H208.00 M206.20 186.57H208.00 M206.20 183.11H208.00 M206.20 176.19H208.00 M206.20 172.72H208.00 M206.20 169.26H208.00" stroke="#000" stroke-width="0.7"/>
<line x1="208.00" y1="223.80" x2="335.00" y2="223.80" stroke="#000" stroke-width="1.4"/>
<line x1="209.50" y1="221.40" x2="335.00" y2="221.40" stroke="#111" stroke-width="1.0" stroke-dasharray="0.95 0.95"/>
<line x1="213.00" y1="223.80" x2="213.00" y2="227.20" stroke="#000" stroke-width="0.9"/>
<text transform="translate(213.00 236.09) scale(0.890 1)" font-size="7.39" text-anchor="middle" fill="#333" stroke="#333" stroke-width="0.05">A</text>
<line x1="223.50" y1="223.80" x2="223.50" y2="227.20" stroke="#000" stroke-width="0.9"/>
<text transform="translate(223.50 236.09) scale(0.890 1)" font-size="7.39" text-anchor="middle" fill="#333" stroke="#333" stroke-width="0.05">B</text>
<line x1="234.00" y1="223.80" x2="234.00" y2="227.20" stroke="#000" stroke-width="0.9"/>
<text transform="translate(234.00 236.09) scale(0.890 1)" font-size="7.39" text-anchor="middle" fill="#333" stroke="#333" stroke-width="0.05">C</text>
<line x1="244.50" y1="223.80" x2="244.50" y2="227.20" stroke="#000" stroke-width="0.9"/>
<text transform="translate(244.50 236.09) scale(0.890 1)" font-size="7.39" text-anchor="middle" fill="#333" stroke="#333" stroke-width="0.05">D</text>
<line x1="255.00" y1="223.80" x2="255.00" y2="227.20" stroke="#000" stroke-width="0.9"/>
<text transform="translate(255.00 236.09) scale(0.890 1)" font-size="7.39" text-anchor="middle" fill="#333" stroke="#333" stroke-width="0.05">A</text>
<line x1="265.50" y1="223.80" x2="265.50" y2="227.20" stroke="#000" stroke-width="0.9"/>
<text transform="translate(265.50 236.09) scale(0.890 1)" font-size="7.39" text-anchor="middle" fill="#333" stroke="#333" stroke-width="0.05">B</text>
<line x1="276.00" y1="223.80" x2="276.00" y2="227.20" stroke="#000" stroke-width="0.9"/>
<text transform="translate(276.00 236.09) scale(0.890 1)" font-size="7.39" text-anchor="middle" fill="#333" stroke="#333" stroke-width="0.05">C</text>
<line x1="286.50" y1="223.80" x2="286.50" y2="227.20" stroke="#000" stroke-width="0.9"/>
<text transform="translate(286.50 236.09) scale(0.890 1)" font-size="7.39" text-anchor="middle" fill="#333" stroke="#333" stroke-width="0.05">D</text>
<line x1="297.00" y1="223.80" x2="297.00" y2="227.20" stroke="#000" stroke-width="0.9"/>
<text transform="translate(297.00 236.09) scale(0.890 1)" font-size="7.39" text-anchor="middle" fill="#333" stroke="#333" stroke-width="0.05">A</text>
<line x1="307.50" y1="223.80" x2="307.50" y2="227.20" stroke="#000" stroke-width="0.9"/>
<text transform="translate(307.50 236.09) scale(0.890 1)" font-size="7.39" text-anchor="middle" fill="#333" stroke="#333" stroke-width="0.05">B</text>
<line x1="318.00" y1="223.80" x2="318.00" y2="227.20" stroke="#000" stroke-width="0.9"/>
<text transform="translate(318.00 236.09) scale(0.890 1)" font-size="7.39" text-anchor="middle" fill="#333" stroke="#333" stroke-width="0.05">C</text>
<line x1="328.50" y1="223.80" x2="328.50" y2="227.20" stroke="#000" stroke-width="0.9"/>
<text transform="translate(328.50 236.09) scale(0.890 1)" font-size="7.39" text-anchor="middle" fill="#333" stroke="#333" stroke-width="0.05">D</text>
<line x1="209.80" y1="238.30" x2="249.00" y2="238.30" stroke="#555" stroke-width="1.1"/>
<line x1="250.80" y1="238.30" x2="290.20" y2="238.30" stroke="#555" stroke-width="1.1"/>
<line x1="294.30" y1="238.30" x2="333.10" y2="238.30" stroke="#555" stroke-width="1.1"/>
<text transform="translate(229.40 245.87) scale(0.890 1)" font-size="7.06" text-anchor="middle" fill="#231f20" stroke="#231f20" stroke-width="0.07">control</text>
<text transform="translate(270.30 245.87) scale(0.890 1)" font-size="7.06" text-anchor="middle" fill="#231f20" stroke="#231f20" stroke-width="0.07">Flvcr-deleted</text>
<text transform="translate(313.90 245.87) scale(0.890 1)" font-size="7.06" text-anchor="middle" fill="#231f20" stroke="#231f20" stroke-width="0.07">EPO</text>
<text transform="translate(179.10 193.05) rotate(-90) translate(0 2.98) scale(0.850 1)" font-size="8.51" text-anchor="middle" fill="#231f20" stroke="#231f20" stroke-width="0.07">RPKM</text>
<text transform="translate(272.50 157.95) scale(0.890 1)" font-size="6.72" text-anchor="middle" fill="#231f20" stroke="#231f20" stroke-width="0.07">Rpl35</text>
<circle cx="213.00" cy="209.69" r="1.40" fill="#a8243b" stroke="#a8243b" stroke-width="0.3"/>
<circle cx="211.38" cy="210.54" r="1.40" fill="#a8243b" stroke="#a8243b" stroke-width="0.3"/>
<circle cx="214.62" cy="213.08" r="1.40" fill="#a8243b" stroke="#a8243b" stroke-width="0.3"/>
<circle cx="212.15" cy="215.63" r="1.40" fill="#a8243b" stroke="#a8243b" stroke-width="0.3"/>
<circle cx="213.85" cy="219.02" r="1.40" fill="#a8243b" stroke="#a8243b" stroke-width="0.3"/>
<line x1="213.00" y1="209.69" x2="213.00" y2="216.47" stroke="#000" stroke-width="0.9"/>
<line x1="211.40" y1="209.69" x2="214.60" y2="209.69" stroke="#000" stroke-width="0.9"/>
<line x1="211.40" y1="216.47" x2="214.60" y2="216.47" stroke="#000" stroke-width="0.9"/>
<line x1="210.20" y1="213.08" x2="215.80" y2="213.08" stroke="#000" stroke-width="1.3"/>
<rect x="222.20" y="203.82" width="2.60" height="2.60" fill="#3d5a89" stroke="#3d5a89" stroke-width="0.3"/>
<rect x="220.58" y="207.55" width="2.60" height="2.60" fill="#3d5a89" stroke="#3d5a89" stroke-width="0.3"/>
<rect x="223.81" y="209.24" width="2.60" height="2.60" fill="#3d5a89" stroke="#3d5a89" stroke-width="0.3"/>
<rect x="221.35" y="210.94" width="2.60" height="2.60" fill="#3d5a89" stroke="#3d5a89" stroke-width="0.3"/>
<rect x="223.05" y="212.63" width="2.60" height="2.60" fill="#3d5a89" stroke="#3d5a89" stroke-width="0.3"/>
<rect x="219.99" y="215.17" width="2.60" height="2.60" fill="#3d5a89" stroke="#3d5a89" stroke-width="0.3"/>
<rect x="224.41" y="218.56" width="2.60" height="2.60" fill="#3d5a89" stroke="#3d5a89" stroke-width="0.3"/>
<line x1="223.50" y1="208.85" x2="223.50" y2="216.47" stroke="#000" stroke-width="0.9"/>
<line x1="221.90" y1="208.85" x2="225.10" y2="208.85" stroke="#000" stroke-width="0.9"/>
<line x1="221.90" y1="216.47" x2="225.10" y2="216.47" stroke="#000" stroke-width="0.9"/>
<line x1="220.70" y1="212.58" x2="226.30" y2="212.58" stroke="#000" stroke-width="1.3"/>
<path d="M234.00 207.25L235.60 210.13L232.40 210.13Z" fill="#69a84c" stroke="#69a84c" stroke-width="0.3"/>
<path d="M232.38 208.94L233.98 211.82L230.78 211.82Z" fill="#69a84c" stroke="#69a84c" stroke-width="0.3"/>
<path d="M235.62 211.48L237.22 214.36L234.02 214.36Z" fill="#69a84c" stroke="#69a84c" stroke-width="0.3"/>
<path d="M233.15 214.87L234.75 217.75L231.55 217.75Z" fill="#69a84c" stroke="#69a84c" stroke-width="0.3"/>
<path d="M234.85 217.42L236.45 220.30L233.25 220.30Z" fill="#69a84c" stroke="#69a84c" stroke-width="0.3"/>
<path d="M231.79 219.11L233.39 221.99L230.19 221.99Z" fill="#69a84c" stroke="#69a84c" stroke-width="0.3"/>
<line x1="234.00" y1="212.24" x2="234.00" y2="220.71" stroke="#000" stroke-width="0.9"/>
<line x1="232.40" y1="212.24" x2="235.60" y2="212.24" stroke="#000" stroke-width="0.9"/>
<line x1="232.40" y1="220.71" x2="235.60" y2="220.71" stroke="#000" stroke-width="0.9"/>
<line x1="231.20" y1="216.47" x2="236.80" y2="216.47" stroke="#000" stroke-width="1.3"/>
<path d="M244.50 207.20L246.15 208.85L244.50 210.50L242.85 208.85Z" fill="#683b6b" stroke="#683b6b" stroke-width="0.3"/>
<path d="M242.88 212.28L244.53 213.93L242.88 215.58L241.23 213.93Z" fill="#683b6b" stroke="#683b6b" stroke-width="0.3"/>
<path d="M246.12 213.98L247.77 215.63L246.12 217.28L244.47 215.63Z" fill="#683b6b" stroke="#683b6b" stroke-width="0.3"/>
<path d="M243.65 215.67L245.30 217.32L243.65 218.97L242.00 217.32Z" fill="#683b6b" stroke="#683b6b" stroke-width="0.3"/>
<path d="M245.35 217.37L247.00 219.02L245.35 220.67L243.70 219.02Z" fill="#683b6b" stroke="#683b6b" stroke-width="0.3"/>
<path d="M242.29 219.06L243.94 220.71L242.29 222.36L240.64 220.71Z" fill="#683b6b" stroke="#683b6b" stroke-width="0.3"/>
<line x1="244.50" y1="213.93" x2="244.50" y2="220.71" stroke="#000" stroke-width="0.9"/>
<line x1="242.90" y1="213.93" x2="246.10" y2="213.93" stroke="#000" stroke-width="0.9"/>
<line x1="242.90" y1="220.71" x2="246.10" y2="220.71" stroke="#000" stroke-width="0.9"/>
<line x1="241.70" y1="217.32" x2="247.30" y2="217.32" stroke="#000" stroke-width="1.3"/>
<circle cx="255.00" cy="170.20" r="1.40" fill="#fff" stroke="#a8243b" stroke-width="0.7"/>
<circle cx="253.38" cy="182.58" r="1.40" fill="#fff" stroke="#a8243b" stroke-width="0.7"/>
<circle cx="256.62" cy="183.42" r="1.40" fill="#fff" stroke="#a8243b" stroke-width="0.7"/>
<circle cx="254.15" cy="185.12" r="1.40" fill="#fff" stroke="#a8243b" stroke-width="0.7"/>
<circle cx="255.85" cy="197.83" r="1.40" fill="#fff" stroke="#a8243b" stroke-width="0.7"/>
<circle cx="252.79" cy="210.20" r="1.40" fill="#fff" stroke="#a8243b" stroke-width="0.7"/>
<circle cx="257.21" cy="210.54" r="1.40" fill="#fff" stroke="#a8243b" stroke-width="0.7"/>
<line x1="255.00" y1="176.64" x2="255.00" y2="203.76" stroke="#000" stroke-width="0.9"/>
<line x1="253.40" y1="176.64" x2="256.60" y2="176.64" stroke="#000" stroke-width="0.9"/>
<line x1="253.40" y1="203.76" x2="256.60" y2="203.76" stroke="#000" stroke-width="0.9"/>
<line x1="252.20" y1="190.20" x2="257.80" y2="190.20" stroke="#000" stroke-width="1.3"/>
<circle cx="253.75" cy="166.87" r="0.78" fill="#222"/>
<circle cx="256.25" cy="166.87" r="0.78" fill="#222"/>
<rect x="264.20" y="173.65" width="2.60" height="2.60" fill="#fff" stroke="#3d5a89" stroke-width="0.7"/>
<rect x="262.58" y="174.50" width="2.60" height="2.60" fill="#fff" stroke="#3d5a89" stroke-width="0.7"/>
<rect x="265.81" y="193.14" width="2.60" height="2.60" fill="#fff" stroke="#3d5a89" stroke-width="0.7"/>
<rect x="263.35" y="195.68" width="2.60" height="2.60" fill="#fff" stroke="#3d5a89" stroke-width="0.7"/>
<rect x="265.05" y="196.53" width="2.60" height="2.60" fill="#fff" stroke="#3d5a89" stroke-width="0.7"/>
<rect x="261.99" y="205.85" width="2.60" height="2.60" fill="#fff" stroke="#3d5a89" stroke-width="0.7"/>
<rect x="266.41" y="210.09" width="2.60" height="2.60" fill="#fff" stroke="#3d5a89" stroke-width="0.7"/>
<rect x="264.62" y="211.78" width="2.60" height="2.60" fill="#fff" stroke="#3d5a89" stroke-width="0.7"/>
<rect x="263.77" y="215.17" width="2.60" height="2.60" fill="#fff" stroke="#3d5a89" stroke-width="0.7"/>
<rect x="265.47" y="216.36" width="2.60" height="2.60" fill="#fff" stroke="#3d5a89" stroke-width="0.7"/>
<line x1="265.50" y1="188.51" x2="265.50" y2="215.63" stroke="#000" stroke-width="0.9"/>
<line x1="263.90" y1="188.51" x2="267.10" y2="188.51" stroke="#000" stroke-width="0.9"/>
<line x1="263.90" y1="215.63" x2="267.10" y2="215.63" stroke="#000" stroke-width="0.9"/>
<line x1="262.70" y1="202.07" x2="268.30" y2="202.07" stroke="#000" stroke-width="1.3"/>
<circle cx="265.50" cy="170.60" r="0.78" fill="#222"/>
<path d="M276.00 199.62L277.60 202.50L274.40 202.50Z" fill="#fff" stroke="#69a84c" stroke-width="0.7"/>
<path d="M274.38 201.32L275.99 204.20L272.78 204.20Z" fill="#fff" stroke="#69a84c" stroke-width="0.7"/>
<path d="M277.62 205.55L279.22 208.43L276.01 208.43Z" fill="#fff" stroke="#69a84c" stroke-width="0.7"/>
<path d="M275.15 208.09L276.75 210.97L273.55 210.97Z" fill="#fff" stroke="#69a84c" stroke-width="0.7"/>
<path d="M276.85 210.64L278.45 213.52L275.25 213.52Z" fill="#fff" stroke="#69a84c" stroke-width="0.7"/>
<path d="M273.79 213.18L275.39 216.06L272.19 216.06Z" fill="#fff" stroke="#69a84c" stroke-width="0.7"/>
<path d="M278.21 216.57L279.81 219.45L276.61 219.45Z" fill="#fff" stroke="#69a84c" stroke-width="0.7"/>
<line x1="276.00" y1="202.07" x2="276.00" y2="215.63" stroke="#000" stroke-width="0.9"/>
<line x1="274.40" y1="202.07" x2="277.60" y2="202.07" stroke="#000" stroke-width="0.9"/>
<line x1="274.40" y1="215.63" x2="277.60" y2="215.63" stroke="#000" stroke-width="0.9"/>
<line x1="273.20" y1="208.85" x2="278.80" y2="208.85" stroke="#000" stroke-width="1.3"/>
<circle cx="274.75" cy="197.04" r="0.78" fill="#222"/>
<circle cx="277.25" cy="197.04" r="0.78" fill="#222"/>
<path d="M286.50 206.35L288.15 208.00L286.50 209.65L284.85 208.00Z" fill="#fff" stroke="#683b6b" stroke-width="0.7"/>
<path d="M284.88 207.60L286.53 209.25L284.88 210.90L283.24 209.25Z" fill="#fff" stroke="#683b6b" stroke-width="0.7"/>
<path d="M288.12 211.35L289.76 213.00L288.12 214.65L286.47 213.00Z" fill="#fff" stroke="#683b6b" stroke-width="0.7"/>
<path d="M285.65 215.10L287.30 216.75L285.65 218.40L284.00 216.75Z" fill="#fff" stroke="#683b6b" stroke-width="0.7"/>
<path d="M287.35 218.22L289.00 219.88L287.35 221.53L285.70 219.88Z" fill="#fff" stroke="#683b6b" stroke-width="0.7"/>
<line x1="286.50" y1="208.62" x2="286.50" y2="217.38" stroke="#000" stroke-width="0.9"/>
<line x1="284.90" y1="208.62" x2="288.10" y2="208.62" stroke="#000" stroke-width="0.9"/>
<line x1="284.90" y1="217.38" x2="288.10" y2="217.38" stroke="#000" stroke-width="0.9"/>
<line x1="283.70" y1="213.00" x2="289.30" y2="213.00" stroke="#000" stroke-width="1.3"/>
<circle cx="286.50" cy="204.90" r="0.78" fill="#222"/>
<circle cx="297.00" cy="199.25" r="1.40" fill="url(#h0)" stroke="#a8243b" stroke-width="0.6"/>
<circle cx="295.38" cy="204.25" r="1.40" fill="url(#h0)" stroke="#a8243b" stroke-width="0.6"/>
<circle cx="298.62" cy="211.50" r="1.40" fill="url(#h0)" stroke="#a8243b" stroke-width="0.6"/>
<circle cx="296.15" cy="211.75" r="1.40" fill="url(#h0)" stroke="#a8243b" stroke-width="0.6"/>
<circle cx="297.85" cy="220.50" r="1.40" fill="url(#h0)" stroke="#a8243b" stroke-width="0.6"/>
<circle cx="294.79" cy="221.12" r="1.40" fill="url(#h0)" stroke="#a8243b" stroke-width="0.6"/>
<circle cx="299.21" cy="221.75" r="1.40" fill="url(#h0)" stroke="#a8243b" stroke-width="0.6"/>
<line x1="297.00" y1="205.50" x2="297.00" y2="221.12" stroke="#000" stroke-width="0.9"/>
<line x1="295.40" y1="205.50" x2="298.60" y2="205.50" stroke="#000" stroke-width="0.9"/>
<line x1="295.40" y1="221.12" x2="298.60" y2="221.12" stroke="#000" stroke-width="0.9"/>
<line x1="294.20" y1="213.25" x2="299.80" y2="213.25" stroke="#000" stroke-width="1.3"/>
<rect x="306.20" y="188.95" width="2.60" height="2.60" fill="url(#h1)" stroke="#3d5a89" stroke-width="0.6"/>
<rect x="304.58" y="196.45" width="2.60" height="2.60" fill="url(#h1)" stroke="#3d5a89" stroke-width="0.6"/>
<rect x="307.81" y="199.20" width="2.60" height="2.60" fill="url(#h1)" stroke="#3d5a89" stroke-width="0.6"/>
<rect x="305.35" y="203.57" width="2.60" height="2.60" fill="url(#h1)" stroke="#3d5a89" stroke-width="0.6"/>
<rect x="307.05" y="204.82" width="2.60" height="2.60" fill="url(#h1)" stroke="#3d5a89" stroke-width="0.6"/>
<rect x="303.99" y="209.82" width="2.60" height="2.60" fill="url(#h1)" stroke="#3d5a89" stroke-width="0.6"/>
<rect x="308.41" y="211.70" width="2.60" height="2.60" fill="url(#h1)" stroke="#3d5a89" stroke-width="0.6"/>
<rect x="306.62" y="217.95" width="2.60" height="2.60" fill="url(#h1)" stroke="#3d5a89" stroke-width="0.6"/>
<rect x="305.77" y="218.57" width="2.60" height="2.60" fill="url(#h1)" stroke="#3d5a89" stroke-width="0.6"/>
<line x1="307.50" y1="198.25" x2="307.50" y2="219.25" stroke="#000" stroke-width="0.9"/>
<line x1="305.90" y1="198.25" x2="309.10" y2="198.25" stroke="#000" stroke-width="0.9"/>
<line x1="305.90" y1="219.25" x2="309.10" y2="219.25" stroke="#000" stroke-width="0.9"/>
<line x1="304.70" y1="208.25" x2="310.30" y2="208.25" stroke="#000" stroke-width="1.3"/>
<path d="M318.00 203.90L319.60 206.78L316.40 206.78Z" fill="url(#h2)" stroke="#69a84c" stroke-width="0.6"/>
<path d="M316.38 213.90L317.99 216.78L314.78 216.78Z" fill="url(#h2)" stroke="#69a84c" stroke-width="0.6"/>
<path d="M319.62 217.65L321.22 220.53L318.01 220.53Z" fill="url(#h2)" stroke="#69a84c" stroke-width="0.6"/>
<path d="M317.15 218.90L318.75 221.78L315.55 221.78Z" fill="url(#h2)" stroke="#69a84c" stroke-width="0.6"/>
<path d="M318.85 220.15L320.45 223.03L317.25 223.03Z" fill="url(#h2)" stroke="#69a84c" stroke-width="0.6"/>
<line x1="318.00" y1="211.50" x2="318.00" y2="223.00" stroke="#000" stroke-width="0.9"/>
<line x1="316.40" y1="211.50" x2="319.60" y2="211.50" stroke="#000" stroke-width="0.9"/>
<line x1="316.40" y1="223.00" x2="319.60" y2="223.00" stroke="#000" stroke-width="0.9"/>
<line x1="315.20" y1="217.38" x2="320.80" y2="217.38" stroke="#000" stroke-width="1.3"/>
<path d="M328.50 209.85L330.15 211.50L328.50 213.15L326.85 211.50Z" fill="url(#h3)" stroke="#683b6b" stroke-width="0.6"/>
<path d="M326.88 210.35L328.53 212.00L326.88 213.65L325.24 212.00Z" fill="url(#h3)" stroke="#683b6b" stroke-width="0.6"/>
<path d="M330.12 218.85L331.76 220.50L330.12 222.15L328.47 220.50Z" fill="url(#h3)" stroke="#683b6b" stroke-width="0.6"/>
<path d="M327.65 219.47L329.30 221.12L327.65 222.78L326.00 221.12Z" fill="url(#h3)" stroke="#683b6b" stroke-width="0.6"/>
<path d="M329.35 220.10L331.00 221.75L329.35 223.40L327.70 221.75Z" fill="url(#h3)" stroke="#683b6b" stroke-width="0.6"/>
<line x1="328.50" y1="213.00" x2="328.50" y2="223.00" stroke="#000" stroke-width="0.9"/>
<line x1="326.90" y1="213.00" x2="330.10" y2="213.00" stroke="#000" stroke-width="0.9"/>
<line x1="326.90" y1="223.00" x2="330.10" y2="223.00" stroke="#000" stroke-width="0.9"/>
<line x1="325.70" y1="217.00" x2="331.30" y2="217.00" stroke="#000" stroke-width="1.3"/>
<line x1="373.70" y1="162.50" x2="373.70" y2="224.70" stroke="#000" stroke-width="1.0"/>
<line x1="370.90" y1="221.60" x2="373.70" y2="221.60" stroke="#000" stroke-width="0.8"/>
<text transform="translate(367.70 223.95) scale(0.890 1)" font-size="6.72" text-anchor="end" fill="#222" stroke="#222" stroke-width="0.05">0</text>
<line x1="370.90" y1="212.78" x2="373.70" y2="212.78" stroke="#000" stroke-width="0.8"/>
<text transform="translate(367.70 215.13) scale(0.890 1)" font-size="6.72" text-anchor="end" fill="#222" stroke="#222" stroke-width="0.05">1000</text>
<line x1="370.90" y1="203.96" x2="373.70" y2="203.96" stroke="#000" stroke-width="0.8"/>
<text transform="translate(367.70 206.31) scale(0.890 1)" font-size="6.72" text-anchor="end" fill="#222" stroke="#222" stroke-width="0.05">2000</text>
<line x1="370.90" y1="195.14" x2="373.70" y2="195.14" stroke="#000" stroke-width="0.8"/>
<text transform="translate(367.70 197.49) scale(0.890 1)" font-size="6.72" text-anchor="end" fill="#222" stroke="#222" stroke-width="0.05">3000</text>
<line x1="370.90" y1="186.32" x2="373.70" y2="186.32" stroke="#000" stroke-width="0.8"/>
<text transform="translate(367.70 188.67) scale(0.890 1)" font-size="6.72" text-anchor="end" fill="#222" stroke="#222" stroke-width="0.05">4000</text>
<line x1="370.90" y1="177.50" x2="373.70" y2="177.50" stroke="#000" stroke-width="0.8"/>
<text transform="translate(367.70 179.85) scale(0.890 1)" font-size="6.72" text-anchor="end" fill="#222" stroke="#222" stroke-width="0.05">5000</text>
<line x1="370.90" y1="168.68" x2="373.70" y2="168.68" stroke="#000" stroke-width="0.8"/>
<text transform="translate(367.70 171.03) scale(0.890 1)" font-size="6.72" text-anchor="end" fill="#222" stroke="#222" stroke-width="0.05">6000</text>
<path d="M371.90 217.19H373.70 M371.90 208.37H373.70 M371.90 199.55H373.70 M371.90 190.73H373.70 M371.90 181.91H373.70 M371.90 173.09H373.70" stroke="#000" stroke-width="0.7"/>
<line x1="373.70" y1="224.20" x2="500.70" y2="224.20" stroke="#000" stroke-width="1.4"/>
<line x1="375.20" y1="221.80" x2="500.70" y2="221.80" stroke="#111" stroke-width="1.0" stroke-dasharray="0.95 0.95"/>
<line x1="378.70" y1="224.20" x2="378.70" y2="227.60" stroke="#000" stroke-width="0.9"/>
<text transform="translate(378.70 236.49) scale(0.890 1)" font-size="7.39" text-anchor="middle" fill="#333" stroke="#333" stroke-width="0.05">A</text>
<line x1="389.20" y1="224.20" x2="389.20" y2="227.60" stroke="#000" stroke-width="0.9"/>
<text transform="translate(389.20 236.49) scale(0.890 1)" font-size="7.39" text-anchor="middle" fill="#333" stroke="#333" stroke-width="0.05">B</text>
<line x1="399.70" y1="224.20" x2="399.70" y2="227.60" stroke="#000" stroke-width="0.9"/>
<text transform="translate(399.70 236.49) scale(0.890 1)" font-size="7.39" text-anchor="middle" fill="#333" stroke="#333" stroke-width="0.05">C</text>
<line x1="410.20" y1="224.20" x2="410.20" y2="227.60" stroke="#000" stroke-width="0.9"/>
<text transform="translate(410.20 236.49) scale(0.890 1)" font-size="7.39" text-anchor="middle" fill="#333" stroke="#333" stroke-width="0.05">D</text>
<line x1="420.70" y1="224.20" x2="420.70" y2="227.60" stroke="#000" stroke-width="0.9"/>
<text transform="translate(420.70 236.49) scale(0.890 1)" font-size="7.39" text-anchor="middle" fill="#333" stroke="#333" stroke-width="0.05">A</text>
<line x1="431.20" y1="224.20" x2="431.20" y2="227.60" stroke="#000" stroke-width="0.9"/>
<text transform="translate(431.20 236.49) scale(0.890 1)" font-size="7.39" text-anchor="middle" fill="#333" stroke="#333" stroke-width="0.05">B</text>
<line x1="441.70" y1="224.20" x2="441.70" y2="227.60" stroke="#000" stroke-width="0.9"/>
<text transform="translate(441.70 236.49) scale(0.890 1)" font-size="7.39" text-anchor="middle" fill="#333" stroke="#333" stroke-width="0.05">C</text>
<line x1="452.20" y1="224.20" x2="452.20" y2="227.60" stroke="#000" stroke-width="0.9"/>
<text transform="translate(452.20 236.49) scale(0.890 1)" font-size="7.39" text-anchor="middle" fill="#333" stroke="#333" stroke-width="0.05">D</text>
<line x1="462.70" y1="224.20" x2="462.70" y2="227.60" stroke="#000" stroke-width="0.9"/>
<text transform="translate(462.70 236.49) scale(0.890 1)" font-size="7.39" text-anchor="middle" fill="#333" stroke="#333" stroke-width="0.05">A</text>
<line x1="473.20" y1="224.20" x2="473.20" y2="227.60" stroke="#000" stroke-width="0.9"/>
<text transform="translate(473.20 236.49) scale(0.890 1)" font-size="7.39" text-anchor="middle" fill="#333" stroke="#333" stroke-width="0.05">B</text>
<line x1="483.70" y1="224.20" x2="483.70" y2="227.60" stroke="#000" stroke-width="0.9"/>
<text transform="translate(483.70 236.49) scale(0.890 1)" font-size="7.39" text-anchor="middle" fill="#333" stroke="#333" stroke-width="0.05">C</text>
<line x1="494.20" y1="224.20" x2="494.20" y2="227.60" stroke="#000" stroke-width="0.9"/>
<text transform="translate(494.20 236.49) scale(0.890 1)" font-size="7.39" text-anchor="middle" fill="#333" stroke="#333" stroke-width="0.05">D</text>
<line x1="375.50" y1="238.70" x2="414.70" y2="238.70" stroke="#555" stroke-width="1.1"/>
<line x1="416.50" y1="238.70" x2="455.90" y2="238.70" stroke="#555" stroke-width="1.1"/>
<line x1="460.00" y1="238.70" x2="498.80" y2="238.70" stroke="#555" stroke-width="1.1"/>
<text transform="translate(395.10 246.27) scale(0.890 1)" font-size="7.06" text-anchor="middle" fill="#231f20" stroke="#231f20" stroke-width="0.07">control</text>
<text transform="translate(436.00 246.27) scale(0.890 1)" font-size="7.06" text-anchor="middle" fill="#231f20" stroke="#231f20" stroke-width="0.07">Flvcr-deleted</text>
<text transform="translate(479.60 246.27) scale(0.890 1)" font-size="7.06" text-anchor="middle" fill="#231f20" stroke="#231f20" stroke-width="0.07">EPO</text>
<text transform="translate(345.20 193.25) rotate(-90) translate(0 2.98) scale(0.850 1)" font-size="8.51" text-anchor="middle" fill="#231f20" stroke="#231f20" stroke-width="0.07">RPKM</text>
<text transform="translate(437.60 157.75) scale(0.890 1)" font-size="6.72" text-anchor="middle" fill="#231f20" stroke="#231f20" stroke-width="0.07">Rps14</text>
<circle cx="378.70" cy="206.31" r="1.40" fill="#a8243b" stroke="#a8243b" stroke-width="0.3"/>
<circle cx="377.08" cy="213.08" r="1.40" fill="#a8243b" stroke="#a8243b" stroke-width="0.3"/>
<circle cx="380.31" cy="213.93" r="1.40" fill="#a8243b" stroke="#a8243b" stroke-width="0.3"/>
<circle cx="377.85" cy="216.47" r="1.40" fill="#a8243b" stroke="#a8243b" stroke-width="0.3"/>
<circle cx="379.55" cy="218.68" r="1.40" fill="#a8243b" stroke="#a8243b" stroke-width="0.3"/>
<line x1="378.70" y1="208.85" x2="378.70" y2="217.66" stroke="#000" stroke-width="0.9"/>
<line x1="377.10" y1="208.85" x2="380.30" y2="208.85" stroke="#000" stroke-width="0.9"/>
<line x1="377.10" y1="217.66" x2="380.30" y2="217.66" stroke="#000" stroke-width="0.9"/>
<line x1="375.90" y1="213.59" x2="381.50" y2="213.59" stroke="#000" stroke-width="1.3"/>
<rect x="387.90" y="207.55" width="2.60" height="2.60" fill="#3d5a89" stroke="#3d5a89" stroke-width="0.3"/>
<rect x="386.28" y="209.24" width="2.60" height="2.60" fill="#3d5a89" stroke="#3d5a89" stroke-width="0.3"/>
<rect x="389.51" y="210.94" width="2.60" height="2.60" fill="#3d5a89" stroke="#3d5a89" stroke-width="0.3"/>
<rect x="387.05" y="213.48" width="2.60" height="2.60" fill="#3d5a89" stroke="#3d5a89" stroke-width="0.3"/>
<rect x="388.75" y="215.17" width="2.60" height="2.60" fill="#3d5a89" stroke="#3d5a89" stroke-width="0.3"/>
<rect x="385.69" y="217.72" width="2.60" height="2.60" fill="#3d5a89" stroke="#3d5a89" stroke-width="0.3"/>
<rect x="390.11" y="221.11" width="2.60" height="2.60" fill="#3d5a89" stroke="#3d5a89" stroke-width="0.3"/>
<line x1="389.20" y1="209.69" x2="389.20" y2="219.02" stroke="#000" stroke-width="0.9"/>
<line x1="387.60" y1="209.69" x2="390.80" y2="209.69" stroke="#000" stroke-width="0.9"/>
<line x1="387.60" y1="219.02" x2="390.80" y2="219.02" stroke="#000" stroke-width="0.9"/>
<line x1="386.40" y1="213.93" x2="392.00" y2="213.93" stroke="#000" stroke-width="1.3"/>
<path d="M399.70 207.25L401.30 210.13L398.10 210.13Z" fill="#69a84c" stroke="#69a84c" stroke-width="0.3"/>
<path d="M398.08 209.79L399.69 212.67L396.48 212.67Z" fill="#69a84c" stroke="#69a84c" stroke-width="0.3"/>
<path d="M401.31 213.18L402.92 216.06L399.71 216.06Z" fill="#69a84c" stroke="#69a84c" stroke-width="0.3"/>
<path d="M398.85 215.72L400.45 218.60L397.25 218.60Z" fill="#69a84c" stroke="#69a84c" stroke-width="0.3"/>
<path d="M400.55 218.26L402.15 221.14L398.95 221.14Z" fill="#69a84c" stroke="#69a84c" stroke-width="0.3"/>
<path d="M397.49 220.47L399.09 223.35L395.89 223.35Z" fill="#69a84c" stroke="#69a84c" stroke-width="0.3"/>
<line x1="399.70" y1="212.58" x2="399.70" y2="220.71" stroke="#000" stroke-width="0.9"/>
<line x1="398.10" y1="212.58" x2="401.30" y2="212.58" stroke="#000" stroke-width="0.9"/>
<line x1="398.10" y1="220.71" x2="401.30" y2="220.71" stroke="#000" stroke-width="0.9"/>
<line x1="396.90" y1="216.98" x2="402.50" y2="216.98" stroke="#000" stroke-width="1.3"/>
<path d="M410.20 211.43L411.85 213.08L410.20 214.73L408.55 213.08Z" fill="#683b6b" stroke="#683b6b" stroke-width="0.3"/>
<path d="M408.58 213.13L410.23 214.78L408.58 216.43L406.94 214.78Z" fill="#683b6b" stroke="#683b6b" stroke-width="0.3"/>
<path d="M411.81 214.82L413.46 216.47L411.81 218.12L410.17 216.47Z" fill="#683b6b" stroke="#683b6b" stroke-width="0.3"/>
<path d="M409.35 216.52L411.00 218.17L409.35 219.82L407.70 218.17Z" fill="#683b6b" stroke="#683b6b" stroke-width="0.3"/>
<path d="M411.05 218.72L412.70 220.37L411.05 222.02L409.40 220.37Z" fill="#683b6b" stroke="#683b6b" stroke-width="0.3"/>
<path d="M407.99 219.40L409.64 221.05L407.99 222.70L406.34 221.05Z" fill="#683b6b" stroke="#683b6b" stroke-width="0.3"/>
<line x1="410.20" y1="214.78" x2="410.20" y2="220.71" stroke="#000" stroke-width="0.9"/>
<line x1="408.60" y1="214.78" x2="411.80" y2="214.78" stroke="#000" stroke-width="0.9"/>
<line x1="408.60" y1="220.71" x2="411.80" y2="220.71" stroke="#000" stroke-width="0.9"/>
<line x1="407.40" y1="217.66" x2="413.00" y2="217.66" stroke="#000" stroke-width="1.3"/>
<circle cx="420.70" cy="170.20" r="1.40" fill="#fff" stroke="#a8243b" stroke-width="0.7"/>
<circle cx="419.08" cy="181.39" r="1.40" fill="#fff" stroke="#a8243b" stroke-width="0.7"/>
<circle cx="422.31" cy="181.73" r="1.40" fill="#fff" stroke="#a8243b" stroke-width="0.7"/>
<circle cx="419.85" cy="185.12" r="1.40" fill="#fff" stroke="#a8243b" stroke-width="0.7"/>
<circle cx="421.55" cy="191.90" r="1.40" fill="#fff" stroke="#a8243b" stroke-width="0.7"/>
<circle cx="418.49" cy="206.31" r="1.40" fill="#fff" stroke="#a8243b" stroke-width="0.7"/>
<circle cx="422.91" cy="208.85" r="1.40" fill="#fff" stroke="#a8243b" stroke-width="0.7"/>
<circle cx="421.12" cy="221.05" r="1.40" fill="#fff" stroke="#a8243b" stroke-width="0.7"/>
<line x1="420.70" y1="177.49" x2="420.70" y2="209.19" stroke="#000" stroke-width="0.9"/>
<line x1="419.10" y1="177.49" x2="422.30" y2="177.49" stroke="#000" stroke-width="0.9"/>
<line x1="419.10" y1="209.19" x2="422.30" y2="209.19" stroke="#000" stroke-width="0.9"/>
<line x1="417.90" y1="193.25" x2="423.50" y2="193.25" stroke="#000" stroke-width="1.3"/>
<circle cx="420.70" cy="166.54" r="0.78" fill="#222"/>
<rect x="429.90" y="173.65" width="2.60" height="2.60" fill="#fff" stroke="#3d5a89" stroke-width="0.7"/>
<rect x="428.28" y="183.82" width="2.60" height="2.60" fill="#fff" stroke="#3d5a89" stroke-width="0.7"/>
<rect x="431.51" y="185.51" width="2.60" height="2.60" fill="#fff" stroke="#3d5a89" stroke-width="0.7"/>
<rect x="429.05" y="190.60" width="2.60" height="2.60" fill="#fff" stroke="#3d5a89" stroke-width="0.7"/>
<rect x="430.75" y="192.29" width="2.60" height="2.60" fill="#fff" stroke="#3d5a89" stroke-width="0.7"/>
<rect x="427.69" y="197.38" width="2.60" height="2.60" fill="#fff" stroke="#3d5a89" stroke-width="0.7"/>
<rect x="432.11" y="202.46" width="2.60" height="2.60" fill="#fff" stroke="#3d5a89" stroke-width="0.7"/>
<rect x="430.32" y="205.01" width="2.60" height="2.60" fill="#fff" stroke="#3d5a89" stroke-width="0.7"/>
<rect x="429.47" y="211.78" width="2.60" height="2.60" fill="#fff" stroke="#3d5a89" stroke-width="0.7"/>
<rect x="431.17" y="214.33" width="2.60" height="2.60" fill="#fff" stroke="#3d5a89" stroke-width="0.7"/>
<rect x="428.62" y="217.72" width="2.60" height="2.60" fill="#fff" stroke="#3d5a89" stroke-width="0.7"/>
<rect x="431.77" y="219.41" width="2.60" height="2.60" fill="#fff" stroke="#3d5a89" stroke-width="0.7"/>
<line x1="431.20" y1="188.51" x2="431.20" y2="216.47" stroke="#000" stroke-width="0.9"/>
<line x1="429.60" y1="188.51" x2="432.80" y2="188.51" stroke="#000" stroke-width="0.9"/>
<line x1="429.60" y1="216.47" x2="432.80" y2="216.47" stroke="#000" stroke-width="0.9"/>
<line x1="428.40" y1="202.41" x2="434.00" y2="202.41" stroke="#000" stroke-width="1.3"/>
<circle cx="431.20" cy="170.60" r="0.78" fill="#222"/>
<path d="M441.70 188.26L443.30 191.14L440.10 191.14Z" fill="#fff" stroke="#69a84c" stroke-width="0.7"/>
<path d="M440.08 198.77L441.69 201.65L438.48 201.65Z" fill="#fff" stroke="#69a84c" stroke-width="0.7"/>
<path d="M443.31 203.86L444.92 206.74L441.71 206.74Z" fill="#fff" stroke="#69a84c" stroke-width="0.7"/>
<path d="M440.85 208.94L442.45 211.82L439.25 211.82Z" fill="#fff" stroke="#69a84c" stroke-width="0.7"/>
<path d="M442.55 212.33L444.15 215.21L440.95 215.21Z" fill="#fff" stroke="#69a84c" stroke-width="0.7"/>
<path d="M439.49 216.57L441.09 219.45L437.89 219.45Z" fill="#fff" stroke="#69a84c" stroke-width="0.7"/>
<path d="M443.91 218.26L445.51 221.14L442.31 221.14Z" fill="#fff" stroke="#69a84c" stroke-width="0.7"/>
<line x1="441.70" y1="200.37" x2="441.70" y2="219.86" stroke="#000" stroke-width="0.9"/>
<line x1="440.10" y1="200.37" x2="443.30" y2="200.37" stroke="#000" stroke-width="0.9"/>
<line x1="440.10" y1="219.86" x2="443.30" y2="219.86" stroke="#000" stroke-width="0.9"/>
<line x1="438.90" y1="210.54" x2="444.50" y2="210.54" stroke="#000" stroke-width="1.3"/>
<circle cx="441.70" cy="185.86" r="0.78" fill="#222"/>
<path d="M452.20 197.88L453.85 199.53L452.20 201.18L450.55 199.53Z" fill="#fff" stroke="#683b6b" stroke-width="0.7"/>
<path d="M450.58 201.77L452.23 203.42L450.58 205.07L448.94 203.42Z" fill="#fff" stroke="#683b6b" stroke-width="0.7"/>
<path d="M453.81 206.86L455.46 208.51L453.81 210.16L452.17 208.51Z" fill="#fff" stroke="#683b6b" stroke-width="0.7"/>
<path d="M451.35 210.25L453.00 211.90L451.35 213.55L449.70 211.90Z" fill="#fff" stroke="#683b6b" stroke-width="0.7"/>
<path d="M453.05 213.98L454.70 215.63L453.05 217.28L451.40 215.63Z" fill="#fff" stroke="#683b6b" stroke-width="0.7"/>
<path d="M449.99 217.37L451.64 219.02L449.99 220.67L448.34 219.02Z" fill="#fff" stroke="#683b6b" stroke-width="0.7"/>
<path d="M454.41 219.91L456.06 221.56L454.41 223.21L452.76 221.56Z" fill="#fff" stroke="#683b6b" stroke-width="0.7"/>
<line x1="452.20" y1="203.42" x2="452.20" y2="220.71" stroke="#000" stroke-width="0.9"/>
<line x1="450.60" y1="203.42" x2="453.80" y2="203.42" stroke="#000" stroke-width="0.9"/>
<line x1="450.60" y1="220.71" x2="453.80" y2="220.71" stroke="#000" stroke-width="0.9"/>
<line x1="449.40" y1="211.90" x2="455.00" y2="211.90" stroke="#000" stroke-width="1.3"/>
<circle cx="452.20" cy="196.54" r="0.78" fill="#222"/>
<circle cx="462.70" cy="200.75" r="1.40" fill="url(#h0)" stroke="#a8243b" stroke-width="0.6"/>
<circle cx="461.08" cy="201.12" r="1.40" fill="url(#h0)" stroke="#a8243b" stroke-width="0.6"/>
<circle cx="464.31" cy="208.62" r="1.40" fill="url(#h0)" stroke="#a8243b" stroke-width="0.6"/>
<circle cx="461.85" cy="219.88" r="1.40" fill="url(#h0)" stroke="#a8243b" stroke-width="0.6"/>
<circle cx="463.55" cy="221.75" r="1.40" fill="url(#h0)" stroke="#a8243b" stroke-width="0.6"/>
<circle cx="460.49" cy="223.00" r="1.40" fill="url(#h0)" stroke="#a8243b" stroke-width="0.6"/>
<line x1="462.70" y1="201.12" x2="462.70" y2="223.00" stroke="#000" stroke-width="0.9"/>
<line x1="461.10" y1="201.12" x2="464.30" y2="201.12" stroke="#000" stroke-width="0.9"/>
<line x1="461.10" y1="223.00" x2="464.30" y2="223.00" stroke="#000" stroke-width="0.9"/>
<line x1="459.90" y1="212.38" x2="465.50" y2="212.38" stroke="#000" stroke-width="1.3"/>
<rect x="471.90" y="195.45" width="2.60" height="2.60" fill="url(#h1)" stroke="#3d5a89" stroke-width="0.6"/>
<rect x="470.28" y="197.95" width="2.60" height="2.60" fill="url(#h1)" stroke="#3d5a89" stroke-width="0.6"/>
<rect x="473.51" y="202.95" width="2.60" height="2.60" fill="url(#h1)" stroke="#3d5a89" stroke-width="0.6"/>
<rect x="471.05" y="207.95" width="2.60" height="2.60" fill="url(#h1)" stroke="#3d5a89" stroke-width="0.6"/>
<rect x="472.75" y="211.70" width="2.60" height="2.60" fill="url(#h1)" stroke="#3d5a89" stroke-width="0.6"/>
<rect x="469.69" y="215.45" width="2.60" height="2.60" fill="url(#h1)" stroke="#3d5a89" stroke-width="0.6"/>
<rect x="474.11" y="218.57" width="2.60" height="2.60" fill="url(#h1)" stroke="#3d5a89" stroke-width="0.6"/>
<line x1="473.20" y1="201.75" x2="473.20" y2="216.75" stroke="#000" stroke-width="0.9"/>
<line x1="471.60" y1="201.75" x2="474.80" y2="201.75" stroke="#000" stroke-width="0.9"/>
<line x1="471.60" y1="216.75" x2="474.80" y2="216.75" stroke="#000" stroke-width="0.9"/>
<line x1="470.40" y1="209.25" x2="476.00" y2="209.25" stroke="#000" stroke-width="1.3"/>
<path d="M483.70 208.90L485.30 211.78L482.10 211.78Z" fill="url(#h2)" stroke="#69a84c" stroke-width="0.6"/>
<path d="M482.08 213.90L483.69 216.78L480.48 216.78Z" fill="url(#h2)" stroke="#69a84c" stroke-width="0.6"/>
<path d="M485.31 215.15L486.92 218.03L483.71 218.03Z" fill="url(#h2)" stroke="#69a84c" stroke-width="0.6"/>
<path d="M482.85 220.78L484.45 223.66L481.25 223.66Z" fill="url(#h2)" stroke="#69a84c" stroke-width="0.6"/>
<path d="M484.55 221.40L486.15 224.28L482.95 224.28Z" fill="url(#h2)" stroke="#69a84c" stroke-width="0.6"/>
<line x1="483.70" y1="214.25" x2="483.70" y2="223.00" stroke="#000" stroke-width="0.9"/>
<line x1="482.10" y1="214.25" x2="485.30" y2="214.25" stroke="#000" stroke-width="0.9"/>
<line x1="482.10" y1="223.00" x2="485.30" y2="223.00" stroke="#000" stroke-width="0.9"/>
<line x1="480.90" y1="218.62" x2="486.50" y2="218.62" stroke="#000" stroke-width="1.3"/>
<path d="M494.20 210.72L495.85 212.38L494.20 214.03L492.55 212.38Z" fill="url(#h3)" stroke="#683b6b" stroke-width="0.6"/>
<path d="M492.58 219.47L494.23 221.12L492.58 222.78L490.94 221.12Z" fill="url(#h3)" stroke="#683b6b" stroke-width="0.6"/>
<path d="M495.81 220.10L497.46 221.75L495.81 223.40L494.17 221.75Z" fill="url(#h3)" stroke="#683b6b" stroke-width="0.6"/>
<path d="M493.35 220.72L495.00 222.38L493.35 224.03L491.70 222.38Z" fill="url(#h3)" stroke="#683b6b" stroke-width="0.6"/>
<line x1="494.20" y1="216.12" x2="494.20" y2="223.00" stroke="#000" stroke-width="0.9"/>
<line x1="492.60" y1="216.12" x2="495.80" y2="216.12" stroke="#000" stroke-width="0.9"/>
<line x1="492.60" y1="223.00" x2="495.80" y2="223.00" stroke="#000" stroke-width="0.9"/>
<line x1="491.40" y1="219.88" x2="497.00" y2="219.88" stroke="#000" stroke-width="1.3"/>
<line x1="40.70" y1="261.40" x2="40.70" y2="322.10" stroke="#000" stroke-width="1.0"/>
<line x1="37.90" y1="319.00" x2="40.70" y2="319.00" stroke="#000" stroke-width="0.8"/>
<text transform="translate(34.70 321.35) scale(0.890 1)" font-size="6.72" text-anchor="end" fill="#222" stroke="#222" stroke-width="0.05">0</text>
<line x1="37.90" y1="306.00" x2="40.70" y2="306.00" stroke="#000" stroke-width="0.8"/>
<text transform="translate(34.70 308.35) scale(0.890 1)" font-size="6.72" text-anchor="end" fill="#222" stroke="#222" stroke-width="0.05">2000</text>
<line x1="37.90" y1="293.00" x2="40.70" y2="293.00" stroke="#000" stroke-width="0.8"/>
<text transform="translate(34.70 295.35) scale(0.890 1)" font-size="6.72" text-anchor="end" fill="#222" stroke="#222" stroke-width="0.05">4000</text>
<line x1="37.90" y1="280.00" x2="40.70" y2="280.00" stroke="#000" stroke-width="0.8"/>
<text transform="translate(34.70 282.35) scale(0.890 1)" font-size="6.72" text-anchor="end" fill="#222" stroke="#222" stroke-width="0.05">6000</text>
<line x1="37.90" y1="267.00" x2="40.70" y2="267.00" stroke="#000" stroke-width="0.8"/>
<text transform="translate(34.70 269.35) scale(0.890 1)" font-size="6.72" text-anchor="end" fill="#222" stroke="#222" stroke-width="0.05">8000</text>
<path d="M38.90 315.75H40.70 M38.90 312.50H40.70 M38.90 309.25H40.70 M38.90 302.75H40.70 M38.90 299.50H40.70 M38.90 296.25H40.70 M38.90 289.75H40.70 M38.90 286.50H40.70 M38.90 283.25H40.70 M38.90 276.75H40.70 M38.90 273.50H40.70 M38.90 270.25H40.70" stroke="#000" stroke-width="0.7"/>
<line x1="40.70" y1="321.60" x2="167.70" y2="321.60" stroke="#000" stroke-width="1.4"/>
<line x1="42.20" y1="319.20" x2="167.70" y2="319.20" stroke="#111" stroke-width="1.0" stroke-dasharray="0.95 0.95"/>
<line x1="45.70" y1="321.60" x2="45.70" y2="325.00" stroke="#000" stroke-width="0.9"/>
<text transform="translate(45.70 333.89) scale(0.890 1)" font-size="7.39" text-anchor="middle" fill="#333" stroke="#333" stroke-width="0.05">A</text>
<line x1="56.20" y1="321.60" x2="56.20" y2="325.00" stroke="#000" stroke-width="0.9"/>
<text transform="translate(56.20 333.89) scale(0.890 1)" font-size="7.39" text-anchor="middle" fill="#333" stroke="#333" stroke-width="0.05">B</text>
<line x1="66.70" y1="321.60" x2="66.70" y2="325.00" stroke="#000" stroke-width="0.9"/>
<text transform="translate(66.70 333.89) scale(0.890 1)" font-size="7.39" text-anchor="middle" fill="#333" stroke="#333" stroke-width="0.05">C</text>
<line x1="77.20" y1="321.60" x2="77.20" y2="325.00" stroke="#000" stroke-width="0.9"/>
<text transform="translate(77.20 333.89) scale(0.890 1)" font-size="7.39" text-anchor="middle" fill="#333" stroke="#333" stroke-width="0.05">D</text>
<line x1="87.70" y1="321.60" x2="87.70" y2="325.00" stroke="#000" stroke-width="0.9"/>
<text transform="translate(87.70 333.89) scale(0.890 1)" font-size="7.39" text-anchor="middle" fill="#333" stroke="#333" stroke-width="0.05">A</text>
<line x1="98.20" y1="321.60" x2="98.20" y2="325.00" stroke="#000" stroke-width="0.9"/>
<text transform="translate(98.20 333.89) scale(0.890 1)" font-size="7.39" text-anchor="middle" fill="#333" stroke="#333" stroke-width="0.05">B</text>
<line x1="108.70" y1="321.60" x2="108.70" y2="325.00" stroke="#000" stroke-width="0.9"/>
<text transform="translate(108.70 333.89) scale(0.890 1)" font-size="7.39" text-anchor="middle" fill="#333" stroke="#333" stroke-width="0.05">C</text>
<line x1="119.20" y1="321.60" x2="119.20" y2="325.00" stroke="#000" stroke-width="0.9"/>
<text transform="translate(119.20 333.89) scale(0.890 1)" font-size="7.39" text-anchor="middle" fill="#333" stroke="#333" stroke-width="0.05">D</text>
<line x1="129.70" y1="321.60" x2="129.70" y2="325.00" stroke="#000" stroke-width="0.9"/>
<text transform="translate(129.70 333.89) scale(0.890 1)" font-size="7.39" text-anchor="middle" fill="#333" stroke="#333" stroke-width="0.05">A</text>
<line x1="140.20" y1="321.60" x2="140.20" y2="325.00" stroke="#000" stroke-width="0.9"/>
<text transform="translate(140.20 333.89) scale(0.890 1)" font-size="7.39" text-anchor="middle" fill="#333" stroke="#333" stroke-width="0.05">B</text>
<line x1="150.70" y1="321.60" x2="150.70" y2="325.00" stroke="#000" stroke-width="0.9"/>
<text transform="translate(150.70 333.89) scale(0.890 1)" font-size="7.39" text-anchor="middle" fill="#333" stroke="#333" stroke-width="0.05">C</text>
<line x1="161.20" y1="321.60" x2="161.20" y2="325.00" stroke="#000" stroke-width="0.9"/>
<text transform="translate(161.20 333.89) scale(0.890 1)" font-size="7.39" text-anchor="middle" fill="#333" stroke="#333" stroke-width="0.05">D</text>
<line x1="42.50" y1="336.10" x2="81.70" y2="336.10" stroke="#555" stroke-width="1.1"/>
<line x1="83.50" y1="336.10" x2="122.90" y2="336.10" stroke="#555" stroke-width="1.1"/>
<line x1="127.00" y1="336.10" x2="165.80" y2="336.10" stroke="#555" stroke-width="1.1"/>
<text transform="translate(62.10 343.67) scale(0.890 1)" font-size="7.06" text-anchor="middle" fill="#231f20" stroke="#231f20" stroke-width="0.07">control</text>
<text transform="translate(103.00 343.67) scale(0.890 1)" font-size="7.06" text-anchor="middle" fill="#231f20" stroke="#231f20" stroke-width="0.07">Flvcr-deleted</text>
<text transform="translate(146.60 343.67) scale(0.890 1)" font-size="7.06" text-anchor="middle" fill="#231f20" stroke="#231f20" stroke-width="0.07">EPO</text>
<text transform="translate(11.20 291.40) rotate(-90) translate(0 2.98) scale(0.850 1)" font-size="8.51" text-anchor="middle" fill="#231f20" stroke="#231f20" stroke-width="0.07">RPKM</text>
<text transform="translate(104.70 255.95) scale(0.890 1)" font-size="6.72" text-anchor="middle" fill="#231f20" stroke="#231f20" stroke-width="0.07">Rps19</text>
<circle cx="45.70" cy="304.66" r="1.40" fill="#a8243b" stroke="#a8243b" stroke-width="0.3"/>
<circle cx="44.09" cy="310.08" r="1.40" fill="#a8243b" stroke="#a8243b" stroke-width="0.3"/>
<circle cx="47.32" cy="310.93" r="1.40" fill="#a8243b" stroke="#a8243b" stroke-width="0.3"/>
<circle cx="44.85" cy="312.63" r="1.40" fill="#a8243b" stroke="#a8243b" stroke-width="0.3"/>
<circle cx="46.55" cy="313.47" r="1.40" fill="#a8243b" stroke="#a8243b" stroke-width="0.3"/>
<line x1="45.70" y1="307.88" x2="45.70" y2="313.47" stroke="#000" stroke-width="0.9"/>
<line x1="44.10" y1="307.88" x2="47.30" y2="307.88" stroke="#000" stroke-width="0.9"/>
<line x1="44.10" y1="313.47" x2="47.30" y2="313.47" stroke="#000" stroke-width="0.9"/>
<line x1="42.90" y1="310.93" x2="48.50" y2="310.93" stroke="#000" stroke-width="1.3"/>
<rect x="54.90" y="304.21" width="2.60" height="2.60" fill="#3d5a89" stroke="#3d5a89" stroke-width="0.3"/>
<rect x="53.29" y="307.94" width="2.60" height="2.60" fill="#3d5a89" stroke="#3d5a89" stroke-width="0.3"/>
<rect x="56.52" y="309.63" width="2.60" height="2.60" fill="#3d5a89" stroke="#3d5a89" stroke-width="0.3"/>
<rect x="54.05" y="312.17" width="2.60" height="2.60" fill="#3d5a89" stroke="#3d5a89" stroke-width="0.3"/>
<rect x="55.75" y="315.56" width="2.60" height="2.60" fill="#3d5a89" stroke="#3d5a89" stroke-width="0.3"/>
<rect x="52.69" y="317.26" width="2.60" height="2.60" fill="#3d5a89" stroke="#3d5a89" stroke-width="0.3"/>
<line x1="56.20" y1="308.39" x2="56.20" y2="316.02" stroke="#000" stroke-width="0.9"/>
<line x1="54.60" y1="308.39" x2="57.80" y2="308.39" stroke="#000" stroke-width="0.9"/>
<line x1="54.60" y1="316.02" x2="57.80" y2="316.02" stroke="#000" stroke-width="0.9"/>
<line x1="53.40" y1="312.29" x2="59.00" y2="312.29" stroke="#000" stroke-width="1.3"/>
<path d="M66.70 302.89L68.30 305.77L65.10 305.77Z" fill="#69a84c" stroke="#69a84c" stroke-width="0.3"/>
<path d="M65.09 304.25L66.69 307.13L63.49 307.13Z" fill="#69a84c" stroke="#69a84c" stroke-width="0.3"/>
<path d="M68.31 307.64L69.91 310.52L66.72 310.52Z" fill="#69a84c" stroke="#69a84c" stroke-width="0.3"/>
<path d="M65.85 311.03L67.45 313.91L64.25 313.91Z" fill="#69a84c" stroke="#69a84c" stroke-width="0.3"/>
<path d="M67.55 314.42L69.15 317.30L65.95 317.30Z" fill="#69a84c" stroke="#69a84c" stroke-width="0.3"/>
<path d="M64.49 317.81L66.09 320.69L62.89 320.69Z" fill="#69a84c" stroke="#69a84c" stroke-width="0.3"/>
<line x1="66.70" y1="308.39" x2="66.70" y2="319.41" stroke="#000" stroke-width="0.9"/>
<line x1="65.10" y1="308.39" x2="68.30" y2="308.39" stroke="#000" stroke-width="0.9"/>
<line x1="65.10" y1="319.41" x2="68.30" y2="319.41" stroke="#000" stroke-width="0.9"/>
<line x1="63.90" y1="313.98" x2="69.50" y2="313.98" stroke="#000" stroke-width="1.3"/>
<path d="M77.20 307.59L78.85 309.24L77.20 310.89L75.55 309.24Z" fill="#683b6b" stroke="#683b6b" stroke-width="0.3"/>
<path d="M75.59 309.28L77.24 310.93L75.59 312.58L73.94 310.93Z" fill="#683b6b" stroke="#683b6b" stroke-width="0.3"/>
<path d="M78.81 311.82L80.47 313.47L78.81 315.12L77.16 313.47Z" fill="#683b6b" stroke="#683b6b" stroke-width="0.3"/>
<path d="M76.35 315.21L78.00 316.86L76.35 318.51L74.70 316.86Z" fill="#683b6b" stroke="#683b6b" stroke-width="0.3"/>
<path d="M78.05 316.91L79.70 318.56L78.05 320.21L76.40 318.56Z" fill="#683b6b" stroke="#683b6b" stroke-width="0.3"/>
<line x1="77.20" y1="311.78" x2="77.20" y2="318.56" stroke="#000" stroke-width="0.9"/>
<line x1="75.60" y1="311.78" x2="78.80" y2="311.78" stroke="#000" stroke-width="0.9"/>
<line x1="75.60" y1="318.56" x2="78.80" y2="318.56" stroke="#000" stroke-width="0.9"/>
<line x1="74.40" y1="315.34" x2="80.00" y2="315.34" stroke="#000" stroke-width="1.3"/>
<circle cx="87.70" cy="266.86" r="1.40" fill="#fff" stroke="#a8243b" stroke-width="0.7"/>
<circle cx="86.09" cy="269.41" r="1.40" fill="#fff" stroke="#a8243b" stroke-width="0.7"/>
<circle cx="89.31" cy="275.34" r="1.40" fill="#fff" stroke="#a8243b" stroke-width="0.7"/>
<circle cx="86.85" cy="280.42" r="1.40" fill="#fff" stroke="#a8243b" stroke-width="0.7"/>
<circle cx="88.55" cy="293.14" r="1.40" fill="#fff" stroke="#a8243b" stroke-width="0.7"/>
<circle cx="85.49" cy="299.92" r="1.40" fill="#fff" stroke="#a8243b" stroke-width="0.7"/>
<circle cx="89.91" cy="304.49" r="1.40" fill="#fff" stroke="#a8243b" stroke-width="0.7"/>
<circle cx="88.12" cy="312.29" r="1.40" fill="#fff" stroke="#a8243b" stroke-width="0.7"/>
<line x1="87.70" y1="271.95" x2="87.70" y2="304.15" stroke="#000" stroke-width="0.9"/>
<line x1="86.10" y1="271.95" x2="89.30" y2="271.95" stroke="#000" stroke-width="0.9"/>
<line x1="86.10" y1="304.15" x2="89.30" y2="304.15" stroke="#000" stroke-width="0.9"/>
<line x1="84.90" y1="287.20" x2="90.50" y2="287.20" stroke="#000" stroke-width="1.3"/>
<circle cx="86.45" cy="263.03" r="0.78" fill="#222"/>
<circle cx="88.95" cy="263.03" r="0.78" fill="#222"/>
<rect x="96.90" y="284.21" width="2.60" height="2.60" fill="#fff" stroke="#3d5a89" stroke-width="0.7"/>
<rect x="95.29" y="286.75" width="2.60" height="2.60" fill="#fff" stroke="#3d5a89" stroke-width="0.7"/>
<rect x="98.52" y="289.29" width="2.60" height="2.60" fill="#fff" stroke="#3d5a89" stroke-width="0.7"/>
<rect x="96.05" y="291.84" width="2.60" height="2.60" fill="#fff" stroke="#3d5a89" stroke-width="0.7"/>
<rect x="97.75" y="294.38" width="2.60" height="2.60" fill="#fff" stroke="#3d5a89" stroke-width="0.7"/>
<rect x="94.69" y="302.01" width="2.60" height="2.60" fill="#fff" stroke="#3d5a89" stroke-width="0.7"/>
<rect x="99.11" y="309.63" width="2.60" height="2.60" fill="#fff" stroke="#3d5a89" stroke-width="0.7"/>
<rect x="97.33" y="313.02" width="2.60" height="2.60" fill="#fff" stroke="#3d5a89" stroke-width="0.7"/>
<rect x="96.48" y="314.72" width="2.60" height="2.60" fill="#fff" stroke="#3d5a89" stroke-width="0.7"/>
<rect x="98.18" y="317.26" width="2.60" height="2.60" fill="#fff" stroke="#3d5a89" stroke-width="0.7"/>
<line x1="98.20" y1="286.36" x2="98.20" y2="314.32" stroke="#000" stroke-width="0.9"/>
<line x1="96.60" y1="286.36" x2="99.80" y2="286.36" stroke="#000" stroke-width="0.9"/>
<line x1="96.60" y1="314.32" x2="99.80" y2="314.32" stroke="#000" stroke-width="0.9"/>
<line x1="95.40" y1="302.46" x2="101.00" y2="302.46" stroke="#000" stroke-width="1.3"/>
<circle cx="98.20" cy="282.18" r="0.78" fill="#222"/>
<path d="M108.70 298.32L110.30 301.20L107.10 301.20Z" fill="#fff" stroke="#69a84c" stroke-width="0.7"/>
<path d="M107.09 300.01L108.69 302.89L105.49 302.89Z" fill="#fff" stroke="#69a84c" stroke-width="0.7"/>
<path d="M110.31 304.25L111.91 307.13L108.72 307.13Z" fill="#fff" stroke="#69a84c" stroke-width="0.7"/>
<path d="M107.85 309.33L109.45 312.21L106.25 312.21Z" fill="#fff" stroke="#69a84c" stroke-width="0.7"/>
<path d="M109.55 311.87L111.15 314.75L107.95 314.75Z" fill="#fff" stroke="#69a84c" stroke-width="0.7"/>
<path d="M106.49 316.96L108.09 319.84L104.89 319.84Z" fill="#fff" stroke="#69a84c" stroke-width="0.7"/>
<line x1="108.70" y1="304.15" x2="108.70" y2="317.71" stroke="#000" stroke-width="0.9"/>
<line x1="107.10" y1="304.15" x2="110.30" y2="304.15" stroke="#000" stroke-width="0.9"/>
<line x1="107.10" y1="317.71" x2="110.30" y2="317.71" stroke="#000" stroke-width="0.9"/>
<line x1="105.90" y1="310.08" x2="111.50" y2="310.08" stroke="#000" stroke-width="1.3"/>
<path d="M119.20 303.86L120.85 305.51L119.20 307.16L117.55 305.51Z" fill="#fff" stroke="#683b6b" stroke-width="0.7"/>
<path d="M117.59 305.89L119.24 307.54L117.59 309.19L115.94 307.54Z" fill="#fff" stroke="#683b6b" stroke-width="0.7"/>
<path d="M120.81 307.59L122.47 309.24L120.81 310.89L119.16 309.24Z" fill="#fff" stroke="#683b6b" stroke-width="0.7"/>
<path d="M118.35 310.98L120.00 312.63L118.35 314.28L116.70 312.63Z" fill="#fff" stroke="#683b6b" stroke-width="0.7"/>
<path d="M120.05 316.06L121.70 317.71L120.05 319.36L118.40 317.71Z" fill="#fff" stroke="#683b6b" stroke-width="0.7"/>
<line x1="119.20" y1="305.85" x2="119.20" y2="315.17" stroke="#000" stroke-width="0.9"/>
<line x1="117.60" y1="305.85" x2="120.80" y2="305.85" stroke="#000" stroke-width="0.9"/>
<line x1="117.60" y1="315.17" x2="120.80" y2="315.17" stroke="#000" stroke-width="0.9"/>
<line x1="116.40" y1="310.59" x2="122.00" y2="310.59" stroke="#000" stroke-width="1.3"/>
<circle cx="119.20" cy="301.16" r="0.78" fill="#222"/>
<circle cx="129.70" cy="298.75" r="1.40" fill="url(#h0)" stroke="#a8243b" stroke-width="0.6"/>
<circle cx="128.08" cy="301.25" r="1.40" fill="url(#h0)" stroke="#a8243b" stroke-width="0.6"/>
<circle cx="131.31" cy="303.75" r="1.40" fill="url(#h0)" stroke="#a8243b" stroke-width="0.6"/>
<circle cx="128.85" cy="308.12" r="1.40" fill="url(#h0)" stroke="#a8243b" stroke-width="0.6"/>
<circle cx="130.55" cy="312.50" r="1.40" fill="url(#h0)" stroke="#a8243b" stroke-width="0.6"/>
<circle cx="127.49" cy="313.75" r="1.40" fill="url(#h0)" stroke="#a8243b" stroke-width="0.6"/>
<circle cx="131.91" cy="318.75" r="1.40" fill="url(#h0)" stroke="#a8243b" stroke-width="0.6"/>
<line x1="129.70" y1="301.25" x2="129.70" y2="314.00" stroke="#000" stroke-width="0.9"/>
<line x1="128.10" y1="301.25" x2="131.30" y2="301.25" stroke="#000" stroke-width="0.9"/>
<line x1="128.10" y1="314.00" x2="131.30" y2="314.00" stroke="#000" stroke-width="0.9"/>
<line x1="126.90" y1="308.12" x2="132.50" y2="308.12" stroke="#000" stroke-width="1.3"/>
<rect x="138.90" y="298.70" width="2.60" height="2.60" fill="url(#h1)" stroke="#3d5a89" stroke-width="0.6"/>
<rect x="137.28" y="301.82" width="2.60" height="2.60" fill="url(#h1)" stroke="#3d5a89" stroke-width="0.6"/>
<rect x="140.51" y="303.70" width="2.60" height="2.60" fill="url(#h1)" stroke="#3d5a89" stroke-width="0.6"/>
<rect x="138.05" y="304.95" width="2.60" height="2.60" fill="url(#h1)" stroke="#3d5a89" stroke-width="0.6"/>
<rect x="139.75" y="316.82" width="2.60" height="2.60" fill="url(#h1)" stroke="#3d5a89" stroke-width="0.6"/>
<rect x="136.69" y="317.45" width="2.60" height="2.60" fill="url(#h1)" stroke="#3d5a89" stroke-width="0.6"/>
<line x1="140.20" y1="300.00" x2="140.20" y2="313.12" stroke="#000" stroke-width="0.9"/>
<line x1="138.60" y1="300.00" x2="141.80" y2="300.00" stroke="#000" stroke-width="0.9"/>
<line x1="138.60" y1="313.12" x2="141.80" y2="313.12" stroke="#000" stroke-width="0.9"/>
<line x1="137.40" y1="306.25" x2="143.00" y2="306.25" stroke="#000" stroke-width="1.3"/>
<circle cx="140.20" cy="297.27" r="0.78" fill="#222"/>
<path d="M150.70 294.65L152.30 297.53L149.10 297.53Z" fill="url(#h2)" stroke="#69a84c" stroke-width="0.6"/>
<path d="M149.08 313.40L150.68 316.28L147.48 316.28Z" fill="url(#h2)" stroke="#69a84c" stroke-width="0.6"/>
<path d="M152.31 315.27L153.91 318.15L150.72 318.15Z" fill="url(#h2)" stroke="#69a84c" stroke-width="0.6"/>
<path d="M149.85 317.15L151.45 320.03L148.25 320.03Z" fill="url(#h2)" stroke="#69a84c" stroke-width="0.6"/>
<path d="M151.55 317.77L153.15 320.65L149.95 320.65Z" fill="url(#h2)" stroke="#69a84c" stroke-width="0.6"/>
<line x1="150.70" y1="306.00" x2="150.70" y2="320.00" stroke="#000" stroke-width="0.9"/>
<line x1="149.10" y1="306.00" x2="152.30" y2="306.00" stroke="#000" stroke-width="0.9"/>
<line x1="149.10" y1="320.00" x2="152.30" y2="320.00" stroke="#000" stroke-width="0.9"/>
<line x1="147.90" y1="314.00" x2="153.50" y2="314.00" stroke="#000" stroke-width="1.3"/>
<path d="M161.20 308.98L162.85 310.62L161.20 312.27L159.55 310.62Z" fill="url(#h3)" stroke="#683b6b" stroke-width="0.6"/>
<path d="M159.58 317.10L161.23 318.75L159.58 320.40L157.93 318.75Z" fill="url(#h3)" stroke="#683b6b" stroke-width="0.6"/>
<path d="M162.81 317.73L164.47 319.38L162.81 321.02L161.16 319.38Z" fill="url(#h3)" stroke="#683b6b" stroke-width="0.6"/>
<path d="M160.35 318.35L162.00 320.00L160.35 321.65L158.70 320.00Z" fill="url(#h3)" stroke="#683b6b" stroke-width="0.6"/>
<line x1="161.20" y1="314.75" x2="161.20" y2="320.00" stroke="#000" stroke-width="0.9"/>
<line x1="159.60" y1="314.75" x2="162.80" y2="314.75" stroke="#000" stroke-width="0.9"/>
<line x1="159.60" y1="320.00" x2="162.80" y2="320.00" stroke="#000" stroke-width="0.9"/>
<line x1="158.40" y1="316.88" x2="164.00" y2="316.88" stroke="#000" stroke-width="1.3"/>
<line x1="207.90" y1="261.00" x2="207.90" y2="322.10" stroke="#000" stroke-width="1.0"/>
<line x1="205.10" y1="319.00" x2="207.90" y2="319.00" stroke="#000" stroke-width="0.8"/>
<text transform="translate(201.90 321.35) scale(0.890 1)" font-size="6.72" text-anchor="end" fill="#222" stroke="#222" stroke-width="0.05">0</text>
<line x1="205.10" y1="305.10" x2="207.90" y2="305.10" stroke="#000" stroke-width="0.8"/>
<text transform="translate(201.90 307.45) scale(0.890 1)" font-size="6.72" text-anchor="end" fill="#222" stroke="#222" stroke-width="0.05">500</text>
<line x1="205.10" y1="291.20" x2="207.90" y2="291.20" stroke="#000" stroke-width="0.8"/>
<text transform="translate(201.90 293.55) scale(0.890 1)" font-size="6.72" text-anchor="end" fill="#222" stroke="#222" stroke-width="0.05">1000</text>
<line x1="205.10" y1="277.30" x2="207.90" y2="277.30" stroke="#000" stroke-width="0.8"/>
<text transform="translate(201.90 279.65) scale(0.890 1)" font-size="6.72" text-anchor="end" fill="#222" stroke="#222" stroke-width="0.05">1500</text>
<line x1="205.10" y1="263.40" x2="207.90" y2="263.40" stroke="#000" stroke-width="0.8"/>
<text transform="translate(201.90 265.75) scale(0.890 1)" font-size="6.72" text-anchor="end" fill="#222" stroke="#222" stroke-width="0.05">2000</text>
<path d="M206.10 316.22H207.90 M206.10 313.44H207.90 M206.10 310.66H207.90 M206.10 307.88H207.90 M206.10 302.32H207.90 M206.10 299.54H207.90 M206.10 296.76H207.90 M206.10 293.98H207.90 M206.10 288.42H207.90 M206.10 285.64H207.90 M206.10 282.86H207.90 M206.10 280.08H207.90 M206.10 274.52H207.90 M206.10 271.74H207.90 M206.10 268.96H207.90 M206.10 266.18H207.90" stroke="#000" stroke-width="0.7"/>
<line x1="207.90" y1="321.60" x2="334.90" y2="321.60" stroke="#000" stroke-width="1.4"/>
<line x1="209.40" y1="319.20" x2="334.90" y2="319.20" stroke="#111" stroke-width="1.0" stroke-dasharray="0.95 0.95"/>
<line x1="212.90" y1="321.60" x2="212.90" y2="325.00" stroke="#000" stroke-width="0.9"/>
<text transform="translate(212.90 333.89) scale(0.890 1)" font-size="7.39" text-anchor="middle" fill="#333" stroke="#333" stroke-width="0.05">A</text>
<line x1="223.40" y1="321.60" x2="223.40" y2="325.00" stroke="#000" stroke-width="0.9"/>
<text transform="translate(223.40 333.89) scale(0.890 1)" font-size="7.39" text-anchor="middle" fill="#333" stroke="#333" stroke-width="0.05">B</text>
<line x1="233.90" y1="321.60" x2="233.90" y2="325.00" stroke="#000" stroke-width="0.9"/>
<text transform="translate(233.90 333.89) scale(0.890 1)" font-size="7.39" text-anchor="middle" fill="#333" stroke="#333" stroke-width="0.05">C</text>
<line x1="244.40" y1="321.60" x2="244.40" y2="325.00" stroke="#000" stroke-width="0.9"/>
<text transform="translate(244.40 333.89) scale(0.890 1)" font-size="7.39" text-anchor="middle" fill="#333" stroke="#333" stroke-width="0.05">D</text>
<line x1="254.90" y1="321.60" x2="254.90" y2="325.00" stroke="#000" stroke-width="0.9"/>
<text transform="translate(254.90 333.89) scale(0.890 1)" font-size="7.39" text-anchor="middle" fill="#333" stroke="#333" stroke-width="0.05">A</text>
<line x1="265.40" y1="321.60" x2="265.40" y2="325.00" stroke="#000" stroke-width="0.9"/>
<text transform="translate(265.40 333.89) scale(0.890 1)" font-size="7.39" text-anchor="middle" fill="#333" stroke="#333" stroke-width="0.05">B</text>
<line x1="275.90" y1="321.60" x2="275.90" y2="325.00" stroke="#000" stroke-width="0.9"/>
<text transform="translate(275.90 333.89) scale(0.890 1)" font-size="7.39" text-anchor="middle" fill="#333" stroke="#333" stroke-width="0.05">C</text>
<line x1="286.40" y1="321.60" x2="286.40" y2="325.00" stroke="#000" stroke-width="0.9"/>
<text transform="translate(286.40 333.89) scale(0.890 1)" font-size="7.39" text-anchor="middle" fill="#333" stroke="#333" stroke-width="0.05">D</text>
<line x1="296.90" y1="321.60" x2="296.90" y2="325.00" stroke="#000" stroke-width="0.9"/>
<text transform="translate(296.90 333.89) scale(0.890 1)" font-size="7.39" text-anchor="middle" fill="#333" stroke="#333" stroke-width="0.05">A</text>
<line x1="307.40" y1="321.60" x2="307.40" y2="325.00" stroke="#000" stroke-width="0.9"/>
<text transform="translate(307.40 333.89) scale(0.890 1)" font-size="7.39" text-anchor="middle" fill="#333" stroke="#333" stroke-width="0.05">B</text>
<line x1="317.90" y1="321.60" x2="317.90" y2="325.00" stroke="#000" stroke-width="0.9"/>
<text transform="translate(317.90 333.89) scale(0.890 1)" font-size="7.39" text-anchor="middle" fill="#333" stroke="#333" stroke-width="0.05">C</text>
<line x1="328.40" y1="321.60" x2="328.40" y2="325.00" stroke="#000" stroke-width="0.9"/>
<text transform="translate(328.40 333.89) scale(0.890 1)" font-size="7.39" text-anchor="middle" fill="#333" stroke="#333" stroke-width="0.05">D</text>
<line x1="209.70" y1="336.10" x2="248.90" y2="336.10" stroke="#555" stroke-width="1.1"/>
<line x1="250.70" y1="336.10" x2="290.10" y2="336.10" stroke="#555" stroke-width="1.1"/>
<line x1="294.20" y1="336.10" x2="333.00" y2="336.10" stroke="#555" stroke-width="1.1"/>
<text transform="translate(229.30 343.67) scale(0.890 1)" font-size="7.06" text-anchor="middle" fill="#231f20" stroke="#231f20" stroke-width="0.07">control</text>
<text transform="translate(270.20 343.67) scale(0.890 1)" font-size="7.06" text-anchor="middle" fill="#231f20" stroke="#231f20" stroke-width="0.07">Flvcr-deleted</text>
<text transform="translate(313.80 343.67) scale(0.890 1)" font-size="7.06" text-anchor="middle" fill="#231f20" stroke="#231f20" stroke-width="0.07">EPO</text>
<text transform="translate(179.00 291.20) rotate(-90) translate(0 2.98) scale(0.850 1)" font-size="8.51" text-anchor="middle" fill="#231f20" stroke="#231f20" stroke-width="0.07">RPKM</text>
<text transform="translate(272.80 254.95) scale(0.890 1)" font-size="6.72" text-anchor="middle" fill="#231f20" stroke="#231f20" stroke-width="0.07">Rpl11</text>
<circle cx="212.90" cy="298.60" r="1.40" fill="#a8243b" stroke="#a8243b" stroke-width="0.3"/>
<circle cx="211.28" cy="305.17" r="1.40" fill="#a8243b" stroke="#a8243b" stroke-width="0.3"/>
<circle cx="214.52" cy="306.90" r="1.40" fill="#a8243b" stroke="#a8243b" stroke-width="0.3"/>
<circle cx="212.05" cy="308.63" r="1.40" fill="#a8243b" stroke="#a8243b" stroke-width="0.3"/>
<circle cx="213.75" cy="315.90" r="1.40" fill="#a8243b" stroke="#a8243b" stroke-width="0.3"/>
<line x1="212.90" y1="301.37" x2="212.90" y2="312.96" stroke="#000" stroke-width="0.9"/>
<line x1="211.30" y1="301.37" x2="214.50" y2="301.37" stroke="#000" stroke-width="0.9"/>
<line x1="211.30" y1="312.96" x2="214.50" y2="312.96" stroke="#000" stroke-width="0.9"/>
<line x1="210.10" y1="306.90" x2="215.70" y2="306.90" stroke="#000" stroke-width="1.3"/>
<rect x="222.10" y="302.14" width="2.60" height="2.60" fill="#3d5a89" stroke="#3d5a89" stroke-width="0.3"/>
<rect x="220.48" y="303.87" width="2.60" height="2.60" fill="#3d5a89" stroke="#3d5a89" stroke-width="0.3"/>
<rect x="223.72" y="305.60" width="2.60" height="2.60" fill="#3d5a89" stroke="#3d5a89" stroke-width="0.3"/>
<rect x="221.25" y="309.06" width="2.60" height="2.60" fill="#3d5a89" stroke="#3d5a89" stroke-width="0.3"/>
<rect x="222.95" y="312.52" width="2.60" height="2.60" fill="#3d5a89" stroke="#3d5a89" stroke-width="0.3"/>
<rect x="219.89" y="313.39" width="2.60" height="2.60" fill="#3d5a89" stroke="#3d5a89" stroke-width="0.3"/>
<rect x="224.31" y="316.85" width="2.60" height="2.60" fill="#3d5a89" stroke="#3d5a89" stroke-width="0.3"/>
<line x1="223.40" y1="305.17" x2="223.40" y2="315.55" stroke="#000" stroke-width="0.9"/>
<line x1="221.80" y1="305.17" x2="225.00" y2="305.17" stroke="#000" stroke-width="0.9"/>
<line x1="221.80" y1="315.55" x2="225.00" y2="315.55" stroke="#000" stroke-width="0.9"/>
<line x1="220.60" y1="310.36" x2="226.20" y2="310.36" stroke="#000" stroke-width="1.3"/>
<path d="M233.90 288.87L235.50 291.75L232.30 291.75Z" fill="#69a84c" stroke="#69a84c" stroke-width="0.3"/>
<path d="M232.28 294.58L233.88 297.46L230.69 297.46Z" fill="#69a84c" stroke="#69a84c" stroke-width="0.3"/>
<path d="M235.52 300.11L237.12 302.99L233.92 302.99Z" fill="#69a84c" stroke="#69a84c" stroke-width="0.3"/>
<path d="M233.05 303.57L234.65 306.45L231.45 306.45Z" fill="#69a84c" stroke="#69a84c" stroke-width="0.3"/>
<path d="M234.75 307.03L236.35 309.91L233.15 309.91Z" fill="#69a84c" stroke="#69a84c" stroke-width="0.3"/>
<path d="M231.69 310.49L233.29 313.37L230.09 313.37Z" fill="#69a84c" stroke="#69a84c" stroke-width="0.3"/>
<path d="M236.11 313.09L237.71 315.97L234.51 315.97Z" fill="#69a84c" stroke="#69a84c" stroke-width="0.3"/>
<path d="M234.33 315.68L235.93 318.56L232.73 318.56Z" fill="#69a84c" stroke="#69a84c" stroke-width="0.3"/>
<path d="M233.47 317.41L235.07 320.29L231.88 320.29Z" fill="#69a84c" stroke="#69a84c" stroke-width="0.3"/>
<line x1="233.90" y1="304.31" x2="233.90" y2="319.01" stroke="#000" stroke-width="0.9"/>
<line x1="232.30" y1="304.31" x2="235.50" y2="304.31" stroke="#000" stroke-width="0.9"/>
<line x1="232.30" y1="319.01" x2="235.50" y2="319.01" stroke="#000" stroke-width="0.9"/>
<line x1="231.10" y1="312.09" x2="236.70" y2="312.09" stroke="#000" stroke-width="1.3"/>
<path d="M244.40 303.18L246.05 304.83L244.40 306.48L242.75 304.83Z" fill="#683b6b" stroke="#683b6b" stroke-width="0.3"/>
<path d="M242.78 308.71L244.44 310.36L242.78 312.01L241.13 310.36Z" fill="#683b6b" stroke="#683b6b" stroke-width="0.3"/>
<path d="M246.02 310.44L247.67 312.09L246.02 313.74L244.37 312.09Z" fill="#683b6b" stroke="#683b6b" stroke-width="0.3"/>
<path d="M243.55 313.04L245.20 314.69L243.55 316.34L241.90 314.69Z" fill="#683b6b" stroke="#683b6b" stroke-width="0.3"/>
<path d="M245.25 315.63L246.90 317.28L245.25 318.93L243.60 317.28Z" fill="#683b6b" stroke="#683b6b" stroke-width="0.3"/>
<path d="M242.19 317.36L243.84 319.01L242.19 320.66L240.54 319.01Z" fill="#683b6b" stroke="#683b6b" stroke-width="0.3"/>
<line x1="244.40" y1="309.50" x2="244.40" y2="317.28" stroke="#000" stroke-width="0.9"/>
<line x1="242.80" y1="309.50" x2="246.00" y2="309.50" stroke="#000" stroke-width="0.9"/>
<line x1="242.80" y1="317.28" x2="246.00" y2="317.28" stroke="#000" stroke-width="0.9"/>
<line x1="241.60" y1="312.96" x2="247.20" y2="312.96" stroke="#000" stroke-width="1.3"/>
<circle cx="254.90" cy="271.96" r="1.40" fill="#fff" stroke="#a8243b" stroke-width="0.7"/>
<circle cx="253.28" cy="272.30" r="1.40" fill="#fff" stroke="#a8243b" stroke-width="0.7"/>
<circle cx="256.51" cy="286.14" r="1.40" fill="#fff" stroke="#a8243b" stroke-width="0.7"/>
<circle cx="254.05" cy="308.63" r="1.40" fill="#fff" stroke="#a8243b" stroke-width="0.7"/>
<circle cx="255.75" cy="310.36" r="1.40" fill="#fff" stroke="#a8243b" stroke-width="0.7"/>
<circle cx="252.69" cy="312.44" r="1.40" fill="#fff" stroke="#a8243b" stroke-width="0.7"/>
<circle cx="257.11" cy="314.69" r="1.40" fill="#fff" stroke="#a8243b" stroke-width="0.7"/>
<line x1="254.90" y1="282.16" x2="254.90" y2="318.15" stroke="#000" stroke-width="0.9"/>
<line x1="253.30" y1="282.16" x2="256.50" y2="282.16" stroke="#000" stroke-width="0.9"/>
<line x1="253.30" y1="318.15" x2="256.50" y2="318.15" stroke="#000" stroke-width="0.9"/>
<line x1="252.10" y1="300.33" x2="257.70" y2="300.33" stroke="#000" stroke-width="1.3"/>
<rect x="264.10" y="277.06" width="2.60" height="2.60" fill="#fff" stroke="#3d5a89" stroke-width="0.7"/>
<rect x="262.48" y="277.92" width="2.60" height="2.60" fill="#fff" stroke="#3d5a89" stroke-width="0.7"/>
<rect x="265.71" y="281.04" width="2.60" height="2.60" fill="#fff" stroke="#3d5a89" stroke-width="0.7"/>
<rect x="263.25" y="295.22" width="2.60" height="2.60" fill="#fff" stroke="#3d5a89" stroke-width="0.7"/>
<rect x="264.95" y="299.03" width="2.60" height="2.60" fill="#fff" stroke="#3d5a89" stroke-width="0.7"/>
<rect x="261.89" y="306.47" width="2.60" height="2.60" fill="#fff" stroke="#3d5a89" stroke-width="0.7"/>
<rect x="266.31" y="308.72" width="2.60" height="2.60" fill="#fff" stroke="#3d5a89" stroke-width="0.7"/>
<rect x="264.52" y="316.33" width="2.60" height="2.60" fill="#fff" stroke="#3d5a89" stroke-width="0.7"/>
<rect x="263.67" y="316.85" width="2.60" height="2.60" fill="#fff" stroke="#3d5a89" stroke-width="0.7"/>
<rect x="265.37" y="317.37" width="2.60" height="2.60" fill="#fff" stroke="#3d5a89" stroke-width="0.7"/>
<line x1="265.40" y1="290.47" x2="265.40" y2="318.15" stroke="#000" stroke-width="0.9"/>
<line x1="263.80" y1="290.47" x2="267.00" y2="290.47" stroke="#000" stroke-width="0.9"/>
<line x1="263.80" y1="318.15" x2="267.00" y2="318.15" stroke="#000" stroke-width="0.9"/>
<line x1="262.60" y1="304.65" x2="268.20" y2="304.65" stroke="#000" stroke-width="1.3"/>
<path d="M275.90 298.04L277.50 300.92L274.30 300.92Z" fill="#fff" stroke="#69a84c" stroke-width="0.7"/>
<path d="M274.28 298.73L275.88 301.61L272.68 301.61Z" fill="#fff" stroke="#69a84c" stroke-width="0.7"/>
<path d="M277.51 303.57L279.12 306.45L275.91 306.45Z" fill="#fff" stroke="#69a84c" stroke-width="0.7"/>
<path d="M275.05 308.42L276.65 311.30L273.45 311.30Z" fill="#fff" stroke="#69a84c" stroke-width="0.7"/>
<path d="M276.75 316.55L278.35 319.43L275.15 319.43Z" fill="#fff" stroke="#69a84c" stroke-width="0.7"/>
<path d="M273.69 317.07L275.29 319.95L272.09 319.95Z" fill="#fff" stroke="#69a84c" stroke-width="0.7"/>
<line x1="275.90" y1="303.10" x2="275.90" y2="318.15" stroke="#000" stroke-width="0.9"/>
<line x1="274.30" y1="303.10" x2="277.50" y2="303.10" stroke="#000" stroke-width="0.9"/>
<line x1="274.30" y1="318.15" x2="277.50" y2="318.15" stroke="#000" stroke-width="0.9"/>
<line x1="273.10" y1="310.71" x2="278.70" y2="310.71" stroke="#000" stroke-width="1.3"/>
<path d="M286.40 298.33L288.05 299.98L286.40 301.63L284.75 299.98Z" fill="#fff" stroke="#683b6b" stroke-width="0.7"/>
<path d="M284.78 305.25L286.43 306.90L284.78 308.55L283.13 306.90Z" fill="#fff" stroke="#683b6b" stroke-width="0.7"/>
<path d="M288.01 315.63L289.66 317.28L288.01 318.93L286.37 317.28Z" fill="#fff" stroke="#683b6b" stroke-width="0.7"/>
<path d="M285.55 316.50L287.20 318.15L285.55 319.80L283.90 318.15Z" fill="#fff" stroke="#683b6b" stroke-width="0.7"/>
<line x1="286.40" y1="304.31" x2="286.40" y2="319.88" stroke="#000" stroke-width="0.9"/>
<line x1="284.80" y1="304.31" x2="288.00" y2="304.31" stroke="#000" stroke-width="0.9"/>
<line x1="284.80" y1="319.88" x2="288.00" y2="319.88" stroke="#000" stroke-width="0.9"/>
<line x1="283.60" y1="312.09" x2="289.20" y2="312.09" stroke="#000" stroke-width="1.3"/>
<circle cx="296.90" cy="273.69" r="1.40" fill="url(#h0)" stroke="#a8243b" stroke-width="0.6"/>
<circle cx="295.28" cy="280.61" r="1.40" fill="url(#h0)" stroke="#a8243b" stroke-width="0.6"/>
<circle cx="298.51" cy="293.06" r="1.40" fill="url(#h0)" stroke="#a8243b" stroke-width="0.6"/>
<circle cx="296.05" cy="301.71" r="1.40" fill="url(#h0)" stroke="#a8243b" stroke-width="0.6"/>
<circle cx="297.75" cy="316.42" r="1.40" fill="url(#h0)" stroke="#a8243b" stroke-width="0.6"/>
<circle cx="294.69" cy="317.63" r="1.40" fill="url(#h0)" stroke="#a8243b" stroke-width="0.6"/>
<line x1="296.90" y1="284.41" x2="296.90" y2="319.88" stroke="#000" stroke-width="0.9"/>
<line x1="295.30" y1="284.41" x2="298.50" y2="284.41" stroke="#000" stroke-width="0.9"/>
<line x1="295.30" y1="319.88" x2="298.50" y2="319.88" stroke="#000" stroke-width="0.9"/>
<line x1="294.10" y1="302.06" x2="299.70" y2="302.06" stroke="#000" stroke-width="1.3"/>
<rect x="306.10" y="284.50" width="2.60" height="2.60" fill="url(#h1)" stroke="#3d5a89" stroke-width="0.6"/>
<rect x="304.48" y="285.36" width="2.60" height="2.60" fill="url(#h1)" stroke="#3d5a89" stroke-width="0.6"/>
<rect x="307.71" y="290.03" width="2.60" height="2.60" fill="url(#h1)" stroke="#3d5a89" stroke-width="0.6"/>
<rect x="305.25" y="295.22" width="2.60" height="2.60" fill="url(#h1)" stroke="#3d5a89" stroke-width="0.6"/>
<rect x="306.95" y="300.41" width="2.60" height="2.60" fill="url(#h1)" stroke="#3d5a89" stroke-width="0.6"/>
<rect x="303.89" y="302.14" width="2.60" height="2.60" fill="url(#h1)" stroke="#3d5a89" stroke-width="0.6"/>
<rect x="308.31" y="313.39" width="2.60" height="2.60" fill="url(#h1)" stroke="#3d5a89" stroke-width="0.6"/>
<rect x="306.52" y="316.85" width="2.60" height="2.60" fill="url(#h1)" stroke="#3d5a89" stroke-width="0.6"/>
<line x1="307.40" y1="286.14" x2="307.40" y2="313.82" stroke="#000" stroke-width="0.9"/>
<line x1="305.80" y1="286.14" x2="309.00" y2="286.14" stroke="#000" stroke-width="0.9"/>
<line x1="305.80" y1="313.82" x2="309.00" y2="313.82" stroke="#000" stroke-width="0.9"/>
<line x1="304.60" y1="300.33" x2="310.20" y2="300.33" stroke="#000" stroke-width="1.3"/>
<circle cx="307.40" cy="282.22" r="0.78" fill="#222"/>
<path d="M317.90 293.19L319.50 296.07L316.30 296.07Z" fill="url(#h2)" stroke="#69a84c" stroke-width="0.6"/>
<path d="M316.28 293.54L317.88 296.42L314.68 296.42Z" fill="url(#h2)" stroke="#69a84c" stroke-width="0.6"/>
<path d="M319.51 304.44L321.12 307.32L317.91 307.32Z" fill="url(#h2)" stroke="#69a84c" stroke-width="0.6"/>
<path d="M317.05 315.68L318.65 318.56L315.45 318.56Z" fill="url(#h2)" stroke="#69a84c" stroke-width="0.6"/>
<path d="M318.75 316.55L320.35 319.43L317.15 319.43Z" fill="url(#h2)" stroke="#69a84c" stroke-width="0.6"/>
<line x1="317.90" y1="297.39" x2="317.90" y2="319.36" stroke="#000" stroke-width="0.9"/>
<line x1="316.30" y1="297.39" x2="319.50" y2="297.39" stroke="#000" stroke-width="0.9"/>
<line x1="316.30" y1="319.36" x2="319.50" y2="319.36" stroke="#000" stroke-width="0.9"/>
<line x1="315.10" y1="308.98" x2="320.70" y2="308.98" stroke="#000" stroke-width="1.3"/>
<path d="M328.40 308.71L330.05 310.36L328.40 312.01L326.75 310.36Z" fill="url(#h3)" stroke="#683b6b" stroke-width="0.6"/>
<path d="M326.78 309.58L328.43 311.23L326.78 312.88L325.13 311.23Z" fill="url(#h3)" stroke="#683b6b" stroke-width="0.6"/>
<path d="M330.01 316.50L331.66 318.15L330.01 319.80L328.37 318.15Z" fill="url(#h3)" stroke="#683b6b" stroke-width="0.6"/>
<path d="M327.55 317.02L329.20 318.67L327.55 320.32L325.90 318.67Z" fill="url(#h3)" stroke="#683b6b" stroke-width="0.6"/>
<line x1="328.40" y1="310.71" x2="328.40" y2="319.36" stroke="#000" stroke-width="0.9"/>
<line x1="326.80" y1="310.71" x2="330.00" y2="310.71" stroke="#000" stroke-width="0.9"/>
<line x1="326.80" y1="319.36" x2="330.00" y2="319.36" stroke="#000" stroke-width="0.9"/>
<line x1="325.60" y1="315.55" x2="331.20" y2="315.55" stroke="#000" stroke-width="1.3"/>
<line x1="373.40" y1="260.50" x2="373.40" y2="321.50" stroke="#000" stroke-width="1.0"/>
<line x1="370.60" y1="318.40" x2="373.40" y2="318.40" stroke="#000" stroke-width="0.8"/>
<text transform="translate(367.40 320.75) scale(0.890 1)" font-size="6.72" text-anchor="end" fill="#222" stroke="#222" stroke-width="0.05">0</text>
<line x1="370.60" y1="307.40" x2="373.40" y2="307.40" stroke="#000" stroke-width="0.8"/>
<text transform="translate(367.40 309.75) scale(0.890 1)" font-size="6.72" text-anchor="end" fill="#222" stroke="#222" stroke-width="0.05">500</text>
<line x1="370.60" y1="296.40" x2="373.40" y2="296.40" stroke="#000" stroke-width="0.8"/>
<text transform="translate(367.40 298.75) scale(0.890 1)" font-size="6.72" text-anchor="end" fill="#222" stroke="#222" stroke-width="0.05">1000</text>
<line x1="370.60" y1="285.40" x2="373.40" y2="285.40" stroke="#000" stroke-width="0.8"/>
<text transform="translate(367.40 287.75) scale(0.890 1)" font-size="6.72" text-anchor="end" fill="#222" stroke="#222" stroke-width="0.05">1500</text>
<line x1="370.60" y1="274.40" x2="373.40" y2="274.40" stroke="#000" stroke-width="0.8"/>
<text transform="translate(367.40 276.75) scale(0.890 1)" font-size="6.72" text-anchor="end" fill="#222" stroke="#222" stroke-width="0.05">2000</text>
<line x1="370.60" y1="263.40" x2="373.40" y2="263.40" stroke="#000" stroke-width="0.8"/>
<text transform="translate(367.40 265.75) scale(0.890 1)" font-size="6.72" text-anchor="end" fill="#222" stroke="#222" stroke-width="0.05">2500</text>
<path d="M371.60 316.20H373.40 M371.60 314.00H373.40 M371.60 311.80H373.40 M371.60 309.60H373.40 M371.60 305.20H373.40 M371.60 303.00H373.40 M371.60 300.80H373.40 M371.60 298.60H373.40 M371.60 294.20H373.40 M371.60 292.00H373.40 M371.60 289.80H373.40 M371.60 287.60H373.40 M371.60 283.20H373.40 M371.60 281.00H373.40 M371.60 278.80H373.40 M371.60 276.60H373.40 M371.60 272.20H373.40 M371.60 270.00H373.40 M371.60 267.80H373.40 M371.60 265.60H373.40" stroke="#000" stroke-width="0.7"/>
<line x1="373.40" y1="321.00" x2="500.40" y2="321.00" stroke="#000" stroke-width="1.4"/>
<line x1="374.90" y1="318.60" x2="500.40" y2="318.60" stroke="#111" stroke-width="1.0" stroke-dasharray="0.95 0.95"/>
<line x1="378.40" y1="321.00" x2="378.40" y2="324.40" stroke="#000" stroke-width="0.9"/>
<text transform="translate(378.40 333.29) scale(0.890 1)" font-size="7.39" text-anchor="middle" fill="#333" stroke="#333" stroke-width="0.05">A</text>
<line x1="388.90" y1="321.00" x2="388.90" y2="324.40" stroke="#000" stroke-width="0.9"/>
<text transform="translate(388.90 333.29) scale(0.890 1)" font-size="7.39" text-anchor="middle" fill="#333" stroke="#333" stroke-width="0.05">B</text>
<line x1="399.40" y1="321.00" x2="399.40" y2="324.40" stroke="#000" stroke-width="0.9"/>
<text transform="translate(399.40 333.29) scale(0.890 1)" font-size="7.39" text-anchor="middle" fill="#333" stroke="#333" stroke-width="0.05">C</text>
<line x1="409.90" y1="321.00" x2="409.90" y2="324.40" stroke="#000" stroke-width="0.9"/>
<text transform="translate(409.90 333.29) scale(0.890 1)" font-size="7.39" text-anchor="middle" fill="#333" stroke="#333" stroke-width="0.05">D</text>
<line x1="420.40" y1="321.00" x2="420.40" y2="324.40" stroke="#000" stroke-width="0.9"/>
<text transform="translate(420.40 333.29) scale(0.890 1)" font-size="7.39" text-anchor="middle" fill="#333" stroke="#333" stroke-width="0.05">A</text>
<line x1="430.90" y1="321.00" x2="430.90" y2="324.40" stroke="#000" stroke-width="0.9"/>
<text transform="translate(430.90 333.29) scale(0.890 1)" font-size="7.39" text-anchor="middle" fill="#333" stroke="#333" stroke-width="0.05">B</text>
<line x1="441.40" y1="321.00" x2="441.40" y2="324.40" stroke="#000" stroke-width="0.9"/>
<text transform="translate(441.40 333.29) scale(0.890 1)" font-size="7.39" text-anchor="middle" fill="#333" stroke="#333" stroke-width="0.05">C</text>
<line x1="451.90" y1="321.00" x2="451.90" y2="324.40" stroke="#000" stroke-width="0.9"/>
<text transform="translate(451.90 333.29) scale(0.890 1)" font-size="7.39" text-anchor="middle" fill="#333" stroke="#333" stroke-width="0.05">D</text>
<line x1="462.40" y1="321.00" x2="462.40" y2="324.40" stroke="#000" stroke-width="0.9"/>
<text transform="translate(462.40 333.29) scale(0.890 1)" font-size="7.39" text-anchor="middle" fill="#333" stroke="#333" stroke-width="0.05">A</text>
<line x1="472.90" y1="321.00" x2="472.90" y2="324.40" stroke="#000" stroke-width="0.9"/>
<text transform="translate(472.90 333.29) scale(0.890 1)" font-size="7.39" text-anchor="middle" fill="#333" stroke="#333" stroke-width="0.05">B</text>
<line x1="483.40" y1="321.00" x2="483.40" y2="324.40" stroke="#000" stroke-width="0.9"/>
<text transform="translate(483.40 333.29) scale(0.890 1)" font-size="7.39" text-anchor="middle" fill="#333" stroke="#333" stroke-width="0.05">C</text>
<line x1="493.90" y1="321.00" x2="493.90" y2="324.40" stroke="#000" stroke-width="0.9"/>
<text transform="translate(493.90 333.29) scale(0.890 1)" font-size="7.39" text-anchor="middle" fill="#333" stroke="#333" stroke-width="0.05">D</text>
<line x1="375.20" y1="335.50" x2="414.40" y2="335.50" stroke="#555" stroke-width="1.1"/>
<line x1="416.20" y1="335.50" x2="455.60" y2="335.50" stroke="#555" stroke-width="1.1"/>
<line x1="459.70" y1="335.50" x2="498.50" y2="335.50" stroke="#555" stroke-width="1.1"/>
<text transform="translate(394.80 343.07) scale(0.890 1)" font-size="7.06" text-anchor="middle" fill="#231f20" stroke="#231f20" stroke-width="0.07">control</text>
<text transform="translate(435.70 343.07) scale(0.890 1)" font-size="7.06" text-anchor="middle" fill="#231f20" stroke="#231f20" stroke-width="0.07">Flvcr-deleted</text>
<text transform="translate(479.30 343.07) scale(0.890 1)" font-size="7.06" text-anchor="middle" fill="#231f20" stroke="#231f20" stroke-width="0.07">EPO</text>
<text transform="translate(344.90 290.65) rotate(-90) translate(0 2.98) scale(0.850 1)" font-size="8.51" text-anchor="middle" fill="#231f20" stroke="#231f20" stroke-width="0.07">RPKM</text>
<text transform="translate(440.30 256.15) scale(0.890 1)" font-size="6.72" text-anchor="middle" fill="#231f20" stroke="#231f20" stroke-width="0.07">Rpl8</text>
<circle cx="378.40" cy="288.74" r="1.40" fill="#a8243b" stroke="#a8243b" stroke-width="0.3"/>
<circle cx="376.78" cy="296.52" r="1.40" fill="#a8243b" stroke="#a8243b" stroke-width="0.3"/>
<circle cx="380.01" cy="297.39" r="1.40" fill="#a8243b" stroke="#a8243b" stroke-width="0.3"/>
<circle cx="377.55" cy="298.25" r="1.40" fill="#a8243b" stroke="#a8243b" stroke-width="0.3"/>
<circle cx="379.25" cy="312.96" r="1.40" fill="#a8243b" stroke="#a8243b" stroke-width="0.3"/>
<circle cx="376.19" cy="313.82" r="1.40" fill="#a8243b" stroke="#a8243b" stroke-width="0.3"/>
<line x1="378.40" y1="291.33" x2="378.40" y2="311.23" stroke="#000" stroke-width="0.9"/>
<line x1="376.80" y1="291.33" x2="380.00" y2="291.33" stroke="#000" stroke-width="0.9"/>
<line x1="376.80" y1="311.23" x2="380.00" y2="311.23" stroke="#000" stroke-width="0.9"/>
<line x1="375.60" y1="301.37" x2="381.20" y2="301.37" stroke="#000" stroke-width="1.3"/>
<rect x="387.60" y="291.76" width="2.60" height="2.60" fill="#3d5a89" stroke="#3d5a89" stroke-width="0.3"/>
<rect x="385.98" y="292.63" width="2.60" height="2.60" fill="#3d5a89" stroke="#3d5a89" stroke-width="0.3"/>
<rect x="389.21" y="296.09" width="2.60" height="2.60" fill="#3d5a89" stroke="#3d5a89" stroke-width="0.3"/>
<rect x="386.75" y="298.68" width="2.60" height="2.60" fill="#3d5a89" stroke="#3d5a89" stroke-width="0.3"/>
<rect x="388.45" y="303.87" width="2.60" height="2.60" fill="#3d5a89" stroke="#3d5a89" stroke-width="0.3"/>
<rect x="385.39" y="307.33" width="2.60" height="2.60" fill="#3d5a89" stroke="#3d5a89" stroke-width="0.3"/>
<rect x="389.81" y="309.06" width="2.60" height="2.60" fill="#3d5a89" stroke="#3d5a89" stroke-width="0.3"/>
<rect x="388.02" y="317.37" width="2.60" height="2.60" fill="#3d5a89" stroke="#3d5a89" stroke-width="0.3"/>
<line x1="388.90" y1="293.93" x2="388.90" y2="310.36" stroke="#000" stroke-width="0.9"/>
<line x1="387.30" y1="293.93" x2="390.50" y2="293.93" stroke="#000" stroke-width="0.9"/>
<line x1="387.30" y1="310.36" x2="390.50" y2="310.36" stroke="#000" stroke-width="0.9"/>
<line x1="386.10" y1="300.85" x2="391.70" y2="300.85" stroke="#000" stroke-width="1.3"/>
<path d="M399.40 280.22L401.00 283.10L397.80 283.10Z" fill="#69a84c" stroke="#69a84c" stroke-width="0.3"/>
<path d="M397.78 287.14L399.38 290.02L396.18 290.02Z" fill="#69a84c" stroke="#69a84c" stroke-width="0.3"/>
<path d="M401.01 290.60L402.62 293.48L399.41 293.48Z" fill="#69a84c" stroke="#69a84c" stroke-width="0.3"/>
<path d="M398.55 294.06L400.15 296.94L396.95 296.94Z" fill="#69a84c" stroke="#69a84c" stroke-width="0.3"/>
<path d="M400.25 303.57L401.85 306.45L398.65 306.45Z" fill="#69a84c" stroke="#69a84c" stroke-width="0.3"/>
<path d="M397.19 307.03L398.79 309.91L395.59 309.91Z" fill="#69a84c" stroke="#69a84c" stroke-width="0.3"/>
<path d="M401.61 310.49L403.21 313.37L400.01 313.37Z" fill="#69a84c" stroke="#69a84c" stroke-width="0.3"/>
<path d="M399.82 314.82L401.43 317.70L398.22 317.70Z" fill="#69a84c" stroke="#69a84c" stroke-width="0.3"/>
<path d="M398.97 316.03L400.57 318.91L397.37 318.91Z" fill="#69a84c" stroke="#69a84c" stroke-width="0.3"/>
<line x1="399.40" y1="295.66" x2="399.40" y2="315.90" stroke="#000" stroke-width="0.9"/>
<line x1="397.80" y1="295.66" x2="401.00" y2="295.66" stroke="#000" stroke-width="0.9"/>
<line x1="397.80" y1="315.90" x2="401.00" y2="315.90" stroke="#000" stroke-width="0.9"/>
<line x1="396.60" y1="305.52" x2="402.20" y2="305.52" stroke="#000" stroke-width="1.3"/>
<path d="M409.90 292.28L411.55 293.93L409.90 295.58L408.25 293.93Z" fill="#683b6b" stroke="#683b6b" stroke-width="0.3"/>
<path d="M408.28 299.72L409.93 301.37L408.28 303.02L406.63 301.37Z" fill="#683b6b" stroke="#683b6b" stroke-width="0.3"/>
<path d="M411.51 300.93L413.16 302.58L411.51 304.23L409.87 302.58Z" fill="#683b6b" stroke="#683b6b" stroke-width="0.3"/>
<path d="M409.05 305.25L410.70 306.90L409.05 308.55L407.40 306.90Z" fill="#683b6b" stroke="#683b6b" stroke-width="0.3"/>
<path d="M410.75 308.71L412.40 310.36L410.75 312.01L409.10 310.36Z" fill="#683b6b" stroke="#683b6b" stroke-width="0.3"/>
<path d="M407.69 312.17L409.34 313.82L407.69 315.47L406.04 313.82Z" fill="#683b6b" stroke="#683b6b" stroke-width="0.3"/>
<path d="M412.11 314.77L413.76 316.42L412.11 318.07L410.46 316.42Z" fill="#683b6b" stroke="#683b6b" stroke-width="0.3"/>
<path d="M410.32 316.50L411.97 318.15L410.32 319.80L408.68 318.15Z" fill="#683b6b" stroke="#683b6b" stroke-width="0.3"/>
<line x1="409.90" y1="302.06" x2="409.90" y2="317.28" stroke="#000" stroke-width="0.9"/>
<line x1="408.30" y1="302.06" x2="411.50" y2="302.06" stroke="#000" stroke-width="0.9"/>
<line x1="408.30" y1="317.28" x2="411.50" y2="317.28" stroke="#000" stroke-width="0.9"/>
<line x1="407.10" y1="310.02" x2="412.70" y2="310.02" stroke="#000" stroke-width="1.3"/>
<circle cx="420.40" cy="272.30" r="1.40" fill="#fff" stroke="#a8243b" stroke-width="0.7"/>
<circle cx="418.78" cy="274.03" r="1.40" fill="#fff" stroke="#a8243b" stroke-width="0.7"/>
<circle cx="422.01" cy="298.25" r="1.40" fill="#fff" stroke="#a8243b" stroke-width="0.7"/>
<circle cx="419.55" cy="300.33" r="1.40" fill="#fff" stroke="#a8243b" stroke-width="0.7"/>
<circle cx="421.25" cy="305.17" r="1.40" fill="#fff" stroke="#a8243b" stroke-width="0.7"/>
<circle cx="418.19" cy="314.69" r="1.40" fill="#fff" stroke="#a8243b" stroke-width="0.7"/>
<circle cx="422.61" cy="315.90" r="1.40" fill="#fff" stroke="#a8243b" stroke-width="0.7"/>
<line x1="420.40" y1="282.34" x2="420.40" y2="313.48" stroke="#000" stroke-width="0.9"/>
<line x1="418.80" y1="282.34" x2="422.00" y2="282.34" stroke="#000" stroke-width="0.9"/>
<line x1="418.80" y1="313.48" x2="422.00" y2="313.48" stroke="#000" stroke-width="0.9"/>
<line x1="417.60" y1="297.39" x2="423.20" y2="297.39" stroke="#000" stroke-width="1.3"/>
<rect x="429.60" y="272.73" width="2.60" height="2.60" fill="#fff" stroke="#3d5a89" stroke-width="0.7"/>
<rect x="427.98" y="281.04" width="2.60" height="2.60" fill="#fff" stroke="#3d5a89" stroke-width="0.7"/>
<rect x="431.21" y="281.38" width="2.60" height="2.60" fill="#fff" stroke="#3d5a89" stroke-width="0.7"/>
<rect x="428.75" y="287.44" width="2.60" height="2.60" fill="#fff" stroke="#3d5a89" stroke-width="0.7"/>
<rect x="430.45" y="290.03" width="2.60" height="2.60" fill="#fff" stroke="#3d5a89" stroke-width="0.7"/>
<rect x="427.39" y="295.22" width="2.60" height="2.60" fill="#fff" stroke="#3d5a89" stroke-width="0.7"/>
<rect x="431.81" y="299.55" width="2.60" height="2.60" fill="#fff" stroke="#3d5a89" stroke-width="0.7"/>
<rect x="430.02" y="303.87" width="2.60" height="2.60" fill="#fff" stroke="#3d5a89" stroke-width="0.7"/>
<rect x="429.17" y="308.20" width="2.60" height="2.60" fill="#fff" stroke="#3d5a89" stroke-width="0.7"/>
<rect x="430.87" y="312.52" width="2.60" height="2.60" fill="#fff" stroke="#3d5a89" stroke-width="0.7"/>
<rect x="428.32" y="315.98" width="2.60" height="2.60" fill="#fff" stroke="#3d5a89" stroke-width="0.7"/>
<rect x="431.47" y="316.85" width="2.60" height="2.60" fill="#fff" stroke="#3d5a89" stroke-width="0.7"/>
<line x1="430.90" y1="287.87" x2="430.90" y2="317.63" stroke="#000" stroke-width="0.9"/>
<line x1="429.30" y1="287.87" x2="432.50" y2="287.87" stroke="#000" stroke-width="0.9"/>
<line x1="429.30" y1="317.63" x2="432.50" y2="317.63" stroke="#000" stroke-width="0.9"/>
<line x1="428.10" y1="303.44" x2="433.70" y2="303.44" stroke="#000" stroke-width="1.3"/>
<path d="M441.40 283.16L443.00 286.04L439.80 286.04Z" fill="#fff" stroke="#69a84c" stroke-width="0.7"/>
<path d="M439.78 286.62L441.38 289.50L438.18 289.50Z" fill="#fff" stroke="#69a84c" stroke-width="0.7"/>
<path d="M443.01 298.73L444.62 301.61L441.41 301.61Z" fill="#fff" stroke="#69a84c" stroke-width="0.7"/>
<path d="M440.55 299.25L442.15 302.13L438.95 302.13Z" fill="#fff" stroke="#69a84c" stroke-width="0.7"/>
<path d="M442.25 310.49L443.85 313.37L440.65 313.37Z" fill="#fff" stroke="#69a84c" stroke-width="0.7"/>
<path d="M439.19 315.68L440.79 318.56L437.59 318.56Z" fill="#fff" stroke="#69a84c" stroke-width="0.7"/>
<path d="M443.61 316.03L445.21 318.91L442.01 318.91Z" fill="#fff" stroke="#69a84c" stroke-width="0.7"/>
<line x1="441.40" y1="292.20" x2="441.40" y2="317.63" stroke="#000" stroke-width="0.9"/>
<line x1="439.80" y1="292.20" x2="443.00" y2="292.20" stroke="#000" stroke-width="0.9"/>
<line x1="439.80" y1="317.63" x2="443.00" y2="317.63" stroke="#000" stroke-width="0.9"/>
<line x1="438.60" y1="304.31" x2="444.20" y2="304.31" stroke="#000" stroke-width="1.3"/>
<path d="M451.90 292.28L453.55 293.93L451.90 295.58L450.25 293.93Z" fill="#fff" stroke="#683b6b" stroke-width="0.7"/>
<path d="M450.28 298.68L451.93 300.33L450.28 301.98L448.63 300.33Z" fill="#fff" stroke="#683b6b" stroke-width="0.7"/>
<path d="M453.51 300.06L455.16 301.71L453.51 303.36L451.87 301.71Z" fill="#fff" stroke="#683b6b" stroke-width="0.7"/>
<path d="M451.05 313.90L452.70 315.55L451.05 317.20L449.40 315.55Z" fill="#fff" stroke="#683b6b" stroke-width="0.7"/>
<line x1="451.90" y1="296.52" x2="451.90" y2="315.21" stroke="#000" stroke-width="0.9"/>
<line x1="450.30" y1="296.52" x2="453.50" y2="296.52" stroke="#000" stroke-width="0.9"/>
<line x1="450.30" y1="315.21" x2="453.50" y2="315.21" stroke="#000" stroke-width="0.9"/>
<line x1="449.10" y1="305.52" x2="454.70" y2="305.52" stroke="#000" stroke-width="1.3"/>
<circle cx="462.40" cy="301.71" r="1.40" fill="url(#h0)" stroke="#a8243b" stroke-width="0.6"/>
<circle cx="460.78" cy="302.06" r="1.40" fill="url(#h0)" stroke="#a8243b" stroke-width="0.6"/>
<circle cx="464.01" cy="314.69" r="1.40" fill="url(#h0)" stroke="#a8243b" stroke-width="0.6"/>
<circle cx="461.55" cy="318.15" r="1.40" fill="url(#h0)" stroke="#a8243b" stroke-width="0.6"/>
<circle cx="463.25" cy="318.67" r="1.40" fill="url(#h0)" stroke="#a8243b" stroke-width="0.6"/>
<line x1="462.40" y1="304.31" x2="462.40" y2="318.15" stroke="#000" stroke-width="0.9"/>
<line x1="460.80" y1="304.31" x2="464.00" y2="304.31" stroke="#000" stroke-width="0.9"/>
<line x1="460.80" y1="318.15" x2="464.00" y2="318.15" stroke="#000" stroke-width="0.9"/>
<line x1="459.60" y1="311.23" x2="465.20" y2="311.23" stroke="#000" stroke-width="1.3"/>
<rect x="471.60" y="270.14" width="2.60" height="2.60" fill="url(#h1)" stroke="#3d5a89" stroke-width="0.6"/>
<rect x="469.98" y="284.50" width="2.60" height="2.60" fill="url(#h1)" stroke="#3d5a89" stroke-width="0.6"/>
<rect x="473.21" y="289.69" width="2.60" height="2.60" fill="url(#h1)" stroke="#3d5a89" stroke-width="0.6"/>
<rect x="470.75" y="300.76" width="2.60" height="2.60" fill="url(#h1)" stroke="#3d5a89" stroke-width="0.6"/>
<rect x="472.45" y="303.87" width="2.60" height="2.60" fill="url(#h1)" stroke="#3d5a89" stroke-width="0.6"/>
<rect x="469.39" y="308.72" width="2.60" height="2.60" fill="url(#h1)" stroke="#3d5a89" stroke-width="0.6"/>
<line x1="472.90" y1="283.03" x2="472.90" y2="307.25" stroke="#000" stroke-width="0.9"/>
<line x1="471.30" y1="283.03" x2="474.50" y2="283.03" stroke="#000" stroke-width="0.9"/>
<line x1="471.30" y1="307.25" x2="474.50" y2="307.25" stroke="#000" stroke-width="0.9"/>
<line x1="470.10" y1="295.14" x2="475.70" y2="295.14" stroke="#000" stroke-width="1.3"/>
<path d="M483.40 299.77L485.00 302.65L481.80 302.65Z" fill="url(#h2)" stroke="#69a84c" stroke-width="0.6"/>
<path d="M481.78 300.11L483.38 302.99L480.18 302.99Z" fill="url(#h2)" stroke="#69a84c" stroke-width="0.6"/>
<path d="M485.01 312.22L486.62 315.10L483.41 315.10Z" fill="url(#h2)" stroke="#69a84c" stroke-width="0.6"/>
<path d="M482.55 316.55L484.15 319.43L480.95 319.43Z" fill="url(#h2)" stroke="#69a84c" stroke-width="0.6"/>
<line x1="483.40" y1="304.31" x2="483.40" y2="319.01" stroke="#000" stroke-width="0.9"/>
<line x1="481.80" y1="304.31" x2="485.00" y2="304.31" stroke="#000" stroke-width="0.9"/>
<line x1="481.80" y1="319.01" x2="485.00" y2="319.01" stroke="#000" stroke-width="0.9"/>
<line x1="480.60" y1="312.09" x2="486.20" y2="312.09" stroke="#000" stroke-width="1.3"/>
<path d="M493.90 304.91L495.55 306.56L493.90 308.21L492.25 306.56Z" fill="url(#h3)" stroke="#683b6b" stroke-width="0.6"/>
<path d="M492.28 316.50L493.93 318.15L492.28 319.80L490.63 318.15Z" fill="url(#h3)" stroke="#683b6b" stroke-width="0.6"/>
<path d="M495.51 317.02L497.16 318.67L495.51 320.32L493.87 318.67Z" fill="url(#h3)" stroke="#683b6b" stroke-width="0.6"/>
<line x1="493.90" y1="310.71" x2="493.90" y2="319.36" stroke="#000" stroke-width="0.9"/>
<line x1="492.30" y1="310.71" x2="495.50" y2="310.71" stroke="#000" stroke-width="0.9"/>
<line x1="492.30" y1="319.36" x2="495.50" y2="319.36" stroke="#000" stroke-width="0.9"/>
<line x1="491.10" y1="315.90" x2="496.70" y2="315.90" stroke="#000" stroke-width="1.3"/>
<line x1="40.70" y1="357.80" x2="40.70" y2="419.20" stroke="#000" stroke-width="1.0"/>
<line x1="37.90" y1="416.10" x2="40.70" y2="416.10" stroke="#000" stroke-width="0.8"/>
<text transform="translate(34.70 418.45) scale(0.890 1)" font-size="6.72" text-anchor="end" fill="#222" stroke="#222" stroke-width="0.05">0</text>
<line x1="37.90" y1="405.10" x2="40.70" y2="405.10" stroke="#000" stroke-width="0.8"/>
<text transform="translate(34.70 407.45) scale(0.890 1)" font-size="6.72" text-anchor="end" fill="#222" stroke="#222" stroke-width="0.05">500</text>
<line x1="37.90" y1="394.10" x2="40.70" y2="394.10" stroke="#000" stroke-width="0.8"/>
<text transform="translate(34.70 396.45) scale(0.890 1)" font-size="6.72" text-anchor="end" fill="#222" stroke="#222" stroke-width="0.05">1000</text>
<line x1="37.90" y1="383.10" x2="40.70" y2="383.10" stroke="#000" stroke-width="0.8"/>
<text transform="translate(34.70 385.45) scale(0.890 1)" font-size="6.72" text-anchor="end" fill="#222" stroke="#222" stroke-width="0.05">1500</text>
<line x1="37.90" y1="372.10" x2="40.70" y2="372.10" stroke="#000" stroke-width="0.8"/>
<text transform="translate(34.70 374.45) scale(0.890 1)" font-size="6.72" text-anchor="end" fill="#222" stroke="#222" stroke-width="0.05">2000</text>
<line x1="37.90" y1="361.10" x2="40.70" y2="361.10" stroke="#000" stroke-width="0.8"/>
<text transform="translate(34.70 363.45) scale(0.890 1)" font-size="6.72" text-anchor="end" fill="#222" stroke="#222" stroke-width="0.05">2500</text>
<path d="M38.90 413.90H40.70 M38.90 411.70H40.70 M38.90 409.50H40.70 M38.90 407.30H40.70 M38.90 402.90H40.70 M38.90 400.70H40.70 M38.90 398.50H40.70 M38.90 396.30H40.70 M38.90 391.90H40.70 M38.90 389.70H40.70 M38.90 387.50H40.70 M38.90 385.30H40.70 M38.90 380.90H40.70 M38.90 378.70H40.70 M38.90 376.50H40.70 M38.90 374.30H40.70 M38.90 369.90H40.70 M38.90 367.70H40.70 M38.90 365.50H40.70 M38.90 363.30H40.70" stroke="#000" stroke-width="0.7"/>
<line x1="40.70" y1="418.70" x2="167.70" y2="418.70" stroke="#000" stroke-width="1.4"/>
<line x1="42.20" y1="416.30" x2="167.70" y2="416.30" stroke="#111" stroke-width="1.0" stroke-dasharray="0.95 0.95"/>
<line x1="45.70" y1="418.70" x2="45.70" y2="422.10" stroke="#000" stroke-width="0.9"/>
<text transform="translate(45.70 430.99) scale(0.890 1)" font-size="7.39" text-anchor="middle" fill="#333" stroke="#333" stroke-width="0.05">A</text>
<line x1="56.20" y1="418.70" x2="56.20" y2="422.10" stroke="#000" stroke-width="0.9"/>
<text transform="translate(56.20 430.99) scale(0.890 1)" font-size="7.39" text-anchor="middle" fill="#333" stroke="#333" stroke-width="0.05">B</text>
<line x1="66.70" y1="418.70" x2="66.70" y2="422.10" stroke="#000" stroke-width="0.9"/>
<text transform="translate(66.70 430.99) scale(0.890 1)" font-size="7.39" text-anchor="middle" fill="#333" stroke="#333" stroke-width="0.05">C</text>
<line x1="77.20" y1="418.70" x2="77.20" y2="422.10" stroke="#000" stroke-width="0.9"/>
<text transform="translate(77.20 430.99) scale(0.890 1)" font-size="7.39" text-anchor="middle" fill="#333" stroke="#333" stroke-width="0.05">D</text>
<line x1="87.70" y1="418.70" x2="87.70" y2="422.10" stroke="#000" stroke-width="0.9"/>
<text transform="translate(87.70 430.99) scale(0.890 1)" font-size="7.39" text-anchor="middle" fill="#333" stroke="#333" stroke-width="0.05">A</text>
<line x1="98.20" y1="418.70" x2="98.20" y2="422.10" stroke="#000" stroke-width="0.9"/>
<text transform="translate(98.20 430.99) scale(0.890 1)" font-size="7.39" text-anchor="middle" fill="#333" stroke="#333" stroke-width="0.05">B</text>
<line x1="108.70" y1="418.70" x2="108.70" y2="422.10" stroke="#000" stroke-width="0.9"/>
<text transform="translate(108.70 430.99) scale(0.890 1)" font-size="7.39" text-anchor="middle" fill="#333" stroke="#333" stroke-width="0.05">C</text>
<line x1="119.20" y1="418.70" x2="119.20" y2="422.10" stroke="#000" stroke-width="0.9"/>
<text transform="translate(119.20 430.99) scale(0.890 1)" font-size="7.39" text-anchor="middle" fill="#333" stroke="#333" stroke-width="0.05">D</text>
<line x1="129.70" y1="418.70" x2="129.70" y2="422.10" stroke="#000" stroke-width="0.9"/>
<text transform="translate(129.70 430.99) scale(0.890 1)" font-size="7.39" text-anchor="middle" fill="#333" stroke="#333" stroke-width="0.05">A</text>
<line x1="140.20" y1="418.70" x2="140.20" y2="422.10" stroke="#000" stroke-width="0.9"/>
<text transform="translate(140.20 430.99) scale(0.890 1)" font-size="7.39" text-anchor="middle" fill="#333" stroke="#333" stroke-width="0.05">B</text>
<line x1="150.70" y1="418.70" x2="150.70" y2="422.10" stroke="#000" stroke-width="0.9"/>
<text transform="translate(150.70 430.99) scale(0.890 1)" font-size="7.39" text-anchor="middle" fill="#333" stroke="#333" stroke-width="0.05">C</text>
<line x1="161.20" y1="418.70" x2="161.20" y2="422.10" stroke="#000" stroke-width="0.9"/>
<text transform="translate(161.20 430.99) scale(0.890 1)" font-size="7.39" text-anchor="middle" fill="#333" stroke="#333" stroke-width="0.05">D</text>
<line x1="42.50" y1="433.20" x2="81.70" y2="433.20" stroke="#555" stroke-width="1.1"/>
<line x1="83.50" y1="433.20" x2="122.90" y2="433.20" stroke="#555" stroke-width="1.1"/>
<line x1="127.00" y1="433.20" x2="165.80" y2="433.20" stroke="#555" stroke-width="1.1"/>
<text transform="translate(62.10 440.77) scale(0.890 1)" font-size="7.06" text-anchor="middle" fill="#231f20" stroke="#231f20" stroke-width="0.07">control</text>
<text transform="translate(103.00 440.77) scale(0.890 1)" font-size="7.06" text-anchor="middle" fill="#231f20" stroke="#231f20" stroke-width="0.07">Flvcr-deleted</text>
<text transform="translate(146.60 440.77) scale(0.890 1)" font-size="7.06" text-anchor="middle" fill="#231f20" stroke="#231f20" stroke-width="0.07">EPO</text>
<text transform="translate(11.20 388.15) rotate(-90) translate(0 2.98) scale(0.850 1)" font-size="8.51" text-anchor="middle" fill="#231f20" stroke="#231f20" stroke-width="0.07">RPKM</text>
<text transform="translate(104.20 353.85) scale(0.890 1)" font-size="6.72" text-anchor="middle" fill="#231f20" stroke="#231f20" stroke-width="0.07">Rpl5</text>
<circle cx="45.70" cy="396.41" r="1.40" fill="#a8243b" stroke="#a8243b" stroke-width="0.3"/>
<circle cx="44.09" cy="401.15" r="1.40" fill="#a8243b" stroke="#a8243b" stroke-width="0.3"/>
<circle cx="47.32" cy="407.93" r="1.40" fill="#a8243b" stroke="#a8243b" stroke-width="0.3"/>
<circle cx="44.85" cy="410.47" r="1.40" fill="#a8243b" stroke="#a8243b" stroke-width="0.3"/>
<circle cx="46.55" cy="411.32" r="1.40" fill="#a8243b" stroke="#a8243b" stroke-width="0.3"/>
<line x1="45.70" y1="399.46" x2="45.70" y2="410.47" stroke="#000" stroke-width="0.9"/>
<line x1="44.10" y1="399.46" x2="47.30" y2="399.46" stroke="#000" stroke-width="0.9"/>
<line x1="44.10" y1="410.47" x2="47.30" y2="410.47" stroke="#000" stroke-width="0.9"/>
<line x1="42.90" y1="405.39" x2="48.50" y2="405.39" stroke="#000" stroke-width="1.3"/>
<rect x="54.90" y="400.70" width="2.60" height="2.60" fill="#3d5a89" stroke="#3d5a89" stroke-width="0.3"/>
<rect x="53.29" y="403.24" width="2.60" height="2.60" fill="#3d5a89" stroke="#3d5a89" stroke-width="0.3"/>
<rect x="56.52" y="405.78" width="2.60" height="2.60" fill="#3d5a89" stroke="#3d5a89" stroke-width="0.3"/>
<rect x="54.05" y="408.33" width="2.60" height="2.60" fill="#3d5a89" stroke="#3d5a89" stroke-width="0.3"/>
<rect x="55.75" y="410.87" width="2.60" height="2.60" fill="#3d5a89" stroke="#3d5a89" stroke-width="0.3"/>
<rect x="52.69" y="413.41" width="2.60" height="2.60" fill="#3d5a89" stroke="#3d5a89" stroke-width="0.3"/>
<rect x="57.11" y="414.26" width="2.60" height="2.60" fill="#3d5a89" stroke="#3d5a89" stroke-width="0.3"/>
<line x1="56.20" y1="402.85" x2="56.20" y2="413.02" stroke="#000" stroke-width="0.9"/>
<line x1="54.60" y1="402.85" x2="57.80" y2="402.85" stroke="#000" stroke-width="0.9"/>
<line x1="54.60" y1="413.02" x2="57.80" y2="413.02" stroke="#000" stroke-width="0.9"/>
<line x1="53.40" y1="407.93" x2="59.00" y2="407.93" stroke="#000" stroke-width="1.3"/>
<path d="M66.70 395.82L68.30 398.70L65.10 398.70Z" fill="#69a84c" stroke="#69a84c" stroke-width="0.3"/>
<path d="M65.09 401.25L66.69 404.13L63.49 404.13Z" fill="#69a84c" stroke="#69a84c" stroke-width="0.3"/>
<path d="M68.31 406.33L69.91 409.21L66.72 409.21Z" fill="#69a84c" stroke="#69a84c" stroke-width="0.3"/>
<path d="M65.85 409.72L67.45 412.60L64.25 412.60Z" fill="#69a84c" stroke="#69a84c" stroke-width="0.3"/>
<path d="M67.55 413.11L69.15 415.99L65.95 415.99Z" fill="#69a84c" stroke="#69a84c" stroke-width="0.3"/>
<path d="M64.49 414.81L66.09 417.69L62.89 417.69Z" fill="#69a84c" stroke="#69a84c" stroke-width="0.3"/>
<line x1="66.70" y1="405.39" x2="66.70" y2="416.41" stroke="#000" stroke-width="0.9"/>
<line x1="65.10" y1="405.39" x2="68.30" y2="405.39" stroke="#000" stroke-width="0.9"/>
<line x1="65.10" y1="416.41" x2="68.30" y2="416.41" stroke="#000" stroke-width="0.9"/>
<line x1="63.90" y1="411.32" x2="69.50" y2="411.32" stroke="#000" stroke-width="1.3"/>
<path d="M77.20 405.43L78.85 407.08L77.20 408.73L75.55 407.08Z" fill="#683b6b" stroke="#683b6b" stroke-width="0.3"/>
<path d="M75.59 407.13L77.24 408.78L75.59 410.43L73.94 408.78Z" fill="#683b6b" stroke="#683b6b" stroke-width="0.3"/>
<path d="M78.81 409.67L80.47 411.32L78.81 412.97L77.16 411.32Z" fill="#683b6b" stroke="#683b6b" stroke-width="0.3"/>
<path d="M76.35 412.21L78.00 413.86L76.35 415.51L74.70 413.86Z" fill="#683b6b" stroke="#683b6b" stroke-width="0.3"/>
<path d="M78.05 413.91L79.70 415.56L78.05 417.21L76.40 415.56Z" fill="#683b6b" stroke="#683b6b" stroke-width="0.3"/>
<line x1="77.20" y1="409.63" x2="77.20" y2="414.71" stroke="#000" stroke-width="0.9"/>
<line x1="75.60" y1="409.63" x2="78.80" y2="409.63" stroke="#000" stroke-width="0.9"/>
<line x1="75.60" y1="414.71" x2="78.80" y2="414.71" stroke="#000" stroke-width="0.9"/>
<line x1="74.40" y1="412.17" x2="80.00" y2="412.17" stroke="#000" stroke-width="1.3"/>
<circle cx="87.70" cy="361.32" r="1.40" fill="#fff" stroke="#a8243b" stroke-width="0.7"/>
<circle cx="86.09" cy="372.34" r="1.40" fill="#fff" stroke="#a8243b" stroke-width="0.7"/>
<circle cx="89.31" cy="382.51" r="1.40" fill="#fff" stroke="#a8243b" stroke-width="0.7"/>
<circle cx="86.85" cy="385.05" r="1.40" fill="#fff" stroke="#a8243b" stroke-width="0.7"/>
<circle cx="88.55" cy="395.22" r="1.40" fill="#fff" stroke="#a8243b" stroke-width="0.7"/>
<circle cx="85.49" cy="402.85" r="1.40" fill="#fff" stroke="#a8243b" stroke-width="0.7"/>
<circle cx="89.91" cy="410.47" r="1.40" fill="#fff" stroke="#a8243b" stroke-width="0.7"/>
<circle cx="88.12" cy="415.56" r="1.40" fill="#fff" stroke="#a8243b" stroke-width="0.7"/>
<circle cx="87.28" cy="416.41" r="1.40" fill="#fff" stroke="#a8243b" stroke-width="0.7"/>
<line x1="87.70" y1="373.69" x2="87.70" y2="416.41" stroke="#000" stroke-width="0.9"/>
<line x1="86.10" y1="373.69" x2="89.30" y2="373.69" stroke="#000" stroke-width="0.9"/>
<line x1="86.10" y1="416.41" x2="89.30" y2="416.41" stroke="#000" stroke-width="0.9"/>
<line x1="84.90" y1="393.19" x2="90.50" y2="393.19" stroke="#000" stroke-width="1.3"/>
<rect x="96.90" y="382.06" width="2.60" height="2.60" fill="#fff" stroke="#3d5a89" stroke-width="0.7"/>
<rect x="95.29" y="392.23" width="2.60" height="2.60" fill="#fff" stroke="#3d5a89" stroke-width="0.7"/>
<rect x="98.52" y="399.85" width="2.60" height="2.60" fill="#fff" stroke="#3d5a89" stroke-width="0.7"/>
<rect x="96.05" y="401.55" width="2.60" height="2.60" fill="#fff" stroke="#3d5a89" stroke-width="0.7"/>
<rect x="97.75" y="404.09" width="2.60" height="2.60" fill="#fff" stroke="#3d5a89" stroke-width="0.7"/>
<rect x="94.69" y="406.63" width="2.60" height="2.60" fill="#fff" stroke="#3d5a89" stroke-width="0.7"/>
<rect x="99.11" y="409.17" width="2.60" height="2.60" fill="#fff" stroke="#3d5a89" stroke-width="0.7"/>
<rect x="97.33" y="410.87" width="2.60" height="2.60" fill="#fff" stroke="#3d5a89" stroke-width="0.7"/>
<rect x="96.48" y="414.26" width="2.60" height="2.60" fill="#fff" stroke="#3d5a89" stroke-width="0.7"/>
<rect x="98.18" y="415.11" width="2.60" height="2.60" fill="#fff" stroke="#3d5a89" stroke-width="0.7"/>
<line x1="98.20" y1="397.42" x2="98.20" y2="416.41" stroke="#000" stroke-width="0.9"/>
<line x1="96.60" y1="397.42" x2="99.80" y2="397.42" stroke="#000" stroke-width="0.9"/>
<line x1="96.60" y1="416.41" x2="99.80" y2="416.41" stroke="#000" stroke-width="0.9"/>
<line x1="95.40" y1="407.08" x2="101.00" y2="407.08" stroke="#000" stroke-width="1.3"/>
<path d="M108.70 402.94L110.30 405.82L107.10 405.82Z" fill="#fff" stroke="#69a84c" stroke-width="0.7"/>
<path d="M107.09 404.64L108.69 407.52L105.49 407.52Z" fill="#fff" stroke="#69a84c" stroke-width="0.7"/>
<path d="M110.31 408.03L111.91 410.91L108.72 410.91Z" fill="#fff" stroke="#69a84c" stroke-width="0.7"/>
<path d="M107.85 410.57L109.45 413.45L106.25 413.45Z" fill="#fff" stroke="#69a84c" stroke-width="0.7"/>
<path d="M109.55 413.11L111.15 415.99L107.95 415.99Z" fill="#fff" stroke="#69a84c" stroke-width="0.7"/>
<path d="M106.49 414.81L108.09 417.69L104.89 417.69Z" fill="#fff" stroke="#69a84c" stroke-width="0.7"/>
<line x1="108.70" y1="407.93" x2="108.70" y2="416.41" stroke="#000" stroke-width="0.9"/>
<line x1="107.10" y1="407.93" x2="110.30" y2="407.93" stroke="#000" stroke-width="0.9"/>
<line x1="107.10" y1="416.41" x2="110.30" y2="416.41" stroke="#000" stroke-width="0.9"/>
<line x1="105.90" y1="412.17" x2="111.50" y2="412.17" stroke="#000" stroke-width="1.3"/>
<path d="M119.20 407.23L120.85 408.88L119.20 410.52L117.55 408.88Z" fill="#fff" stroke="#683b6b" stroke-width="0.7"/>
<path d="M117.59 407.85L119.24 409.50L117.59 411.15L115.94 409.50Z" fill="#fff" stroke="#683b6b" stroke-width="0.7"/>
<path d="M120.81 411.35L122.47 413.00L120.81 414.65L119.16 413.00Z" fill="#fff" stroke="#683b6b" stroke-width="0.7"/>
<path d="M118.35 412.23L120.00 413.88L118.35 415.52L116.70 413.88Z" fill="#fff" stroke="#683b6b" stroke-width="0.7"/>
<path d="M120.05 413.48L121.70 415.12L120.05 416.77L118.40 415.12Z" fill="#fff" stroke="#683b6b" stroke-width="0.7"/>
<path d="M116.99 414.10L118.64 415.75L116.99 417.40L115.34 415.75Z" fill="#fff" stroke="#683b6b" stroke-width="0.7"/>
<line x1="119.20" y1="409.50" x2="119.20" y2="416.38" stroke="#000" stroke-width="0.9"/>
<line x1="117.60" y1="409.50" x2="120.80" y2="409.50" stroke="#000" stroke-width="0.9"/>
<line x1="117.60" y1="416.38" x2="120.80" y2="416.38" stroke="#000" stroke-width="0.9"/>
<line x1="116.40" y1="413.25" x2="122.00" y2="413.25" stroke="#000" stroke-width="1.3"/>
<circle cx="129.70" cy="377.00" r="1.40" fill="url(#h0)" stroke="#a8243b" stroke-width="0.6"/>
<circle cx="128.08" cy="393.00" r="1.40" fill="url(#h0)" stroke="#a8243b" stroke-width="0.6"/>
<circle cx="131.31" cy="395.75" r="1.40" fill="url(#h0)" stroke="#a8243b" stroke-width="0.6"/>
<circle cx="128.85" cy="401.75" r="1.40" fill="url(#h0)" stroke="#a8243b" stroke-width="0.6"/>
<circle cx="130.55" cy="404.75" r="1.40" fill="url(#h0)" stroke="#a8243b" stroke-width="0.6"/>
<circle cx="127.49" cy="412.62" r="1.40" fill="url(#h0)" stroke="#a8243b" stroke-width="0.6"/>
<circle cx="131.91" cy="413.00" r="1.40" fill="url(#h0)" stroke="#a8243b" stroke-width="0.6"/>
<circle cx="130.12" cy="416.38" r="1.40" fill="url(#h0)" stroke="#a8243b" stroke-width="0.6"/>
<line x1="129.70" y1="388.88" x2="129.70" y2="415.12" stroke="#000" stroke-width="0.9"/>
<line x1="128.10" y1="388.88" x2="131.30" y2="388.88" stroke="#000" stroke-width="0.9"/>
<line x1="128.10" y1="415.12" x2="131.30" y2="415.12" stroke="#000" stroke-width="0.9"/>
<line x1="126.90" y1="401.75" x2="132.50" y2="401.75" stroke="#000" stroke-width="1.3"/>
<rect x="138.90" y="387.57" width="2.60" height="2.60" fill="url(#h1)" stroke="#3d5a89" stroke-width="0.6"/>
<rect x="137.28" y="396.95" width="2.60" height="2.60" fill="url(#h1)" stroke="#3d5a89" stroke-width="0.6"/>
<rect x="140.51" y="400.07" width="2.60" height="2.60" fill="url(#h1)" stroke="#3d5a89" stroke-width="0.6"/>
<rect x="138.05" y="400.70" width="2.60" height="2.60" fill="url(#h1)" stroke="#3d5a89" stroke-width="0.6"/>
<rect x="139.75" y="403.20" width="2.60" height="2.60" fill="url(#h1)" stroke="#3d5a89" stroke-width="0.6"/>
<rect x="136.69" y="406.70" width="2.60" height="2.60" fill="url(#h1)" stroke="#3d5a89" stroke-width="0.6"/>
<rect x="141.11" y="410.70" width="2.60" height="2.60" fill="url(#h1)" stroke="#3d5a89" stroke-width="0.6"/>
<rect x="139.32" y="412.20" width="2.60" height="2.60" fill="url(#h1)" stroke="#3d5a89" stroke-width="0.6"/>
<rect x="138.47" y="415.07" width="2.60" height="2.60" fill="url(#h1)" stroke="#3d5a89" stroke-width="0.6"/>
<line x1="140.20" y1="396.00" x2="140.20" y2="413.25" stroke="#000" stroke-width="0.9"/>
<line x1="138.60" y1="396.00" x2="141.80" y2="396.00" stroke="#000" stroke-width="0.9"/>
<line x1="138.60" y1="413.25" x2="141.80" y2="413.25" stroke="#000" stroke-width="0.9"/>
<line x1="137.40" y1="404.25" x2="143.00" y2="404.25" stroke="#000" stroke-width="1.3"/>
<path d="M150.70 399.15L152.30 402.03L149.10 402.03Z" fill="url(#h2)" stroke="#69a84c" stroke-width="0.6"/>
<path d="M149.08 400.40L150.68 403.28L147.48 403.28Z" fill="url(#h2)" stroke="#69a84c" stroke-width="0.6"/>
<path d="M152.31 414.77L153.91 417.65L150.72 417.65Z" fill="url(#h2)" stroke="#69a84c" stroke-width="0.6"/>
<path d="M149.85 415.15L151.45 418.03L148.25 418.03Z" fill="url(#h2)" stroke="#69a84c" stroke-width="0.6"/>
<line x1="150.70" y1="403.25" x2="150.70" y2="417.00" stroke="#000" stroke-width="0.9"/>
<line x1="149.10" y1="403.25" x2="152.30" y2="403.25" stroke="#000" stroke-width="0.9"/>
<line x1="149.10" y1="417.00" x2="152.30" y2="417.00" stroke="#000" stroke-width="0.9"/>
<line x1="147.90" y1="410.50" x2="153.50" y2="410.50" stroke="#000" stroke-width="1.3"/>
<path d="M161.20 405.98L162.85 407.62L161.20 409.27L159.55 407.62Z" fill="url(#h3)" stroke="#683b6b" stroke-width="0.6"/>
<path d="M159.58 414.10L161.23 415.75L159.58 417.40L157.93 415.75Z" fill="url(#h3)" stroke="#683b6b" stroke-width="0.6"/>
<path d="M162.81 414.73L164.47 416.38L162.81 418.02L161.16 416.38Z" fill="url(#h3)" stroke="#683b6b" stroke-width="0.6"/>
<line x1="161.20" y1="412.00" x2="161.20" y2="417.00" stroke="#000" stroke-width="0.9"/>
<line x1="159.60" y1="412.00" x2="162.80" y2="412.00" stroke="#000" stroke-width="0.9"/>
<line x1="159.60" y1="417.00" x2="162.80" y2="417.00" stroke="#000" stroke-width="0.9"/>
<line x1="158.40" y1="414.50" x2="164.00" y2="414.50" stroke="#000" stroke-width="1.3"/>
<line x1="207.90" y1="358.90" x2="207.90" y2="418.90" stroke="#000" stroke-width="1.0"/>
<line x1="205.10" y1="415.80" x2="207.90" y2="415.80" stroke="#000" stroke-width="0.8"/>
<text transform="translate(201.90 418.15) scale(0.890 1)" font-size="6.72" text-anchor="end" fill="#222" stroke="#222" stroke-width="0.05">0</text>
<line x1="205.10" y1="397.60" x2="207.90" y2="397.60" stroke="#000" stroke-width="0.8"/>
<text transform="translate(201.90 399.95) scale(0.890 1)" font-size="6.72" text-anchor="end" fill="#222" stroke="#222" stroke-width="0.05">500</text>
<line x1="205.10" y1="379.40" x2="207.90" y2="379.40" stroke="#000" stroke-width="0.8"/>
<text transform="translate(201.90 381.75) scale(0.890 1)" font-size="6.72" text-anchor="end" fill="#222" stroke="#222" stroke-width="0.05">1000</text>
<line x1="205.10" y1="361.20" x2="207.90" y2="361.20" stroke="#000" stroke-width="0.8"/>
<text transform="translate(201.90 363.55) scale(0.890 1)" font-size="6.72" text-anchor="end" fill="#222" stroke="#222" stroke-width="0.05">1500</text>
<path d="M206.10 412.16H207.90 M206.10 408.52H207.90 M206.10 404.88H207.90 M206.10 401.24H207.90 M206.10 393.96H207.90 M206.10 390.32H207.90 M206.10 386.68H207.90 M206.10 383.04H207.90 M206.10 375.76H207.90 M206.10 372.12H207.90 M206.10 368.48H207.90 M206.10 364.84H207.90" stroke="#000" stroke-width="0.7"/>
<line x1="207.90" y1="418.40" x2="334.90" y2="418.40" stroke="#000" stroke-width="1.4"/>
<line x1="209.40" y1="416.00" x2="334.90" y2="416.00" stroke="#111" stroke-width="1.0" stroke-dasharray="0.95 0.95"/>
<line x1="212.90" y1="418.40" x2="212.90" y2="421.80" stroke="#000" stroke-width="0.9"/>
<text transform="translate(212.90 430.69) scale(0.890 1)" font-size="7.39" text-anchor="middle" fill="#333" stroke="#333" stroke-width="0.05">A</text>
<line x1="223.40" y1="418.40" x2="223.40" y2="421.80" stroke="#000" stroke-width="0.9"/>
<text transform="translate(223.40 430.69) scale(0.890 1)" font-size="7.39" text-anchor="middle" fill="#333" stroke="#333" stroke-width="0.05">B</text>
<line x1="233.90" y1="418.40" x2="233.90" y2="421.80" stroke="#000" stroke-width="0.9"/>
<text transform="translate(233.90 430.69) scale(0.890 1)" font-size="7.39" text-anchor="middle" fill="#333" stroke="#333" stroke-width="0.05">C</text>
<line x1="244.40" y1="418.40" x2="244.40" y2="421.80" stroke="#000" stroke-width="0.9"/>
<text transform="translate(244.40 430.69) scale(0.890 1)" font-size="7.39" text-anchor="middle" fill="#333" stroke="#333" stroke-width="0.05">D</text>
<line x1="254.90" y1="418.40" x2="254.90" y2="421.80" stroke="#000" stroke-width="0.9"/>
<text transform="translate(254.90 430.69) scale(0.890 1)" font-size="7.39" text-anchor="middle" fill="#333" stroke="#333" stroke-width="0.05">A</text>
<line x1="265.40" y1="418.40" x2="265.40" y2="421.80" stroke="#000" stroke-width="0.9"/>
<text transform="translate(265.40 430.69) scale(0.890 1)" font-size="7.39" text-anchor="middle" fill="#333" stroke="#333" stroke-width="0.05">B</text>
<line x1="275.90" y1="418.40" x2="275.90" y2="421.80" stroke="#000" stroke-width="0.9"/>
<text transform="translate(275.90 430.69) scale(0.890 1)" font-size="7.39" text-anchor="middle" fill="#333" stroke="#333" stroke-width="0.05">C</text>
<line x1="286.40" y1="418.40" x2="286.40" y2="421.80" stroke="#000" stroke-width="0.9"/>
<text transform="translate(286.40 430.69) scale(0.890 1)" font-size="7.39" text-anchor="middle" fill="#333" stroke="#333" stroke-width="0.05">D</text>
<line x1="296.90" y1="418.40" x2="296.90" y2="421.80" stroke="#000" stroke-width="0.9"/>
<text transform="translate(296.90 430.69) scale(0.890 1)" font-size="7.39" text-anchor="middle" fill="#333" stroke="#333" stroke-width="0.05">A</text>
<line x1="307.40" y1="418.40" x2="307.40" y2="421.80" stroke="#000" stroke-width="0.9"/>
<text transform="translate(307.40 430.69) scale(0.890 1)" font-size="7.39" text-anchor="middle" fill="#333" stroke="#333" stroke-width="0.05">B</text>
<line x1="317.90" y1="418.40" x2="317.90" y2="421.80" stroke="#000" stroke-width="0.9"/>
<text transform="translate(317.90 430.69) scale(0.890 1)" font-size="7.39" text-anchor="middle" fill="#333" stroke="#333" stroke-width="0.05">C</text>
<line x1="328.40" y1="418.40" x2="328.40" y2="421.80" stroke="#000" stroke-width="0.9"/>
<text transform="translate(328.40 430.69) scale(0.890 1)" font-size="7.39" text-anchor="middle" fill="#333" stroke="#333" stroke-width="0.05">D</text>
<line x1="209.70" y1="432.90" x2="248.90" y2="432.90" stroke="#555" stroke-width="1.1"/>
<line x1="250.70" y1="432.90" x2="290.10" y2="432.90" stroke="#555" stroke-width="1.1"/>
<line x1="294.20" y1="432.90" x2="333.00" y2="432.90" stroke="#555" stroke-width="1.1"/>
<text transform="translate(229.30 440.47) scale(0.890 1)" font-size="7.06" text-anchor="middle" fill="#231f20" stroke="#231f20" stroke-width="0.07">control</text>
<text transform="translate(270.20 440.47) scale(0.890 1)" font-size="7.06" text-anchor="middle" fill="#231f20" stroke="#231f20" stroke-width="0.07">Flvcr-deleted</text>
<text transform="translate(313.80 440.47) scale(0.890 1)" font-size="7.06" text-anchor="middle" fill="#231f20" stroke="#231f20" stroke-width="0.07">EPO</text>
<text transform="translate(179.00 388.55) rotate(-90) translate(0 2.98) scale(0.850 1)" font-size="8.51" text-anchor="middle" fill="#231f20" stroke="#231f20" stroke-width="0.07">RPKM</text>
<text transform="translate(271.30 353.85) scale(0.890 1)" font-size="6.72" text-anchor="middle" fill="#231f20" stroke="#231f20" stroke-width="0.07">Rps3</text>
<circle cx="212.90" cy="393.52" r="1.40" fill="#a8243b" stroke="#a8243b" stroke-width="0.3"/>
<circle cx="211.28" cy="397.33" r="1.40" fill="#a8243b" stroke="#a8243b" stroke-width="0.3"/>
<circle cx="214.52" cy="398.71" r="1.40" fill="#a8243b" stroke="#a8243b" stroke-width="0.3"/>
<circle cx="212.05" cy="401.31" r="1.40" fill="#a8243b" stroke="#a8243b" stroke-width="0.3"/>
<circle cx="213.75" cy="403.90" r="1.40" fill="#a8243b" stroke="#a8243b" stroke-width="0.3"/>
<circle cx="210.69" cy="405.98" r="1.40" fill="#a8243b" stroke="#a8243b" stroke-width="0.3"/>
<line x1="212.90" y1="396.64" x2="212.90" y2="404.25" stroke="#000" stroke-width="0.9"/>
<line x1="211.30" y1="396.64" x2="214.50" y2="396.64" stroke="#000" stroke-width="0.9"/>
<line x1="211.30" y1="404.25" x2="214.50" y2="404.25" stroke="#000" stroke-width="0.9"/>
<line x1="210.10" y1="400.44" x2="215.70" y2="400.44" stroke="#000" stroke-width="1.3"/>
<rect x="222.10" y="390.84" width="2.60" height="2.60" fill="#3d5a89" stroke="#3d5a89" stroke-width="0.3"/>
<rect x="220.48" y="393.09" width="2.60" height="2.60" fill="#3d5a89" stroke="#3d5a89" stroke-width="0.3"/>
<rect x="223.72" y="396.03" width="2.60" height="2.60" fill="#3d5a89" stroke="#3d5a89" stroke-width="0.3"/>
<rect x="221.25" y="400.87" width="2.60" height="2.60" fill="#3d5a89" stroke="#3d5a89" stroke-width="0.3"/>
<rect x="222.95" y="403.47" width="2.60" height="2.60" fill="#3d5a89" stroke="#3d5a89" stroke-width="0.3"/>
<rect x="219.89" y="406.06" width="2.60" height="2.60" fill="#3d5a89" stroke="#3d5a89" stroke-width="0.3"/>
<rect x="224.31" y="410.39" width="2.60" height="2.60" fill="#3d5a89" stroke="#3d5a89" stroke-width="0.3"/>
<rect x="222.53" y="411.25" width="2.60" height="2.60" fill="#3d5a89" stroke="#3d5a89" stroke-width="0.3"/>
<line x1="223.40" y1="395.25" x2="223.40" y2="409.09" stroke="#000" stroke-width="0.9"/>
<line x1="221.80" y1="395.25" x2="225.00" y2="395.25" stroke="#000" stroke-width="0.9"/>
<line x1="221.80" y1="409.09" x2="225.00" y2="409.09" stroke="#000" stroke-width="0.9"/>
<line x1="220.60" y1="402.17" x2="226.20" y2="402.17" stroke="#000" stroke-width="1.3"/>
<path d="M233.90 381.54L235.50 384.42L232.30 384.42Z" fill="#69a84c" stroke="#69a84c" stroke-width="0.3"/>
<path d="M232.28 386.73L233.88 389.61L230.69 389.61Z" fill="#69a84c" stroke="#69a84c" stroke-width="0.3"/>
<path d="M235.52 387.60L237.12 390.48L233.92 390.48Z" fill="#69a84c" stroke="#69a84c" stroke-width="0.3"/>
<path d="M233.05 393.65L234.65 396.53L231.45 396.53Z" fill="#69a84c" stroke="#69a84c" stroke-width="0.3"/>
<path d="M234.75 398.84L236.35 401.72L233.15 401.72Z" fill="#69a84c" stroke="#69a84c" stroke-width="0.3"/>
<path d="M231.69 402.30L233.29 405.18L230.09 405.18Z" fill="#69a84c" stroke="#69a84c" stroke-width="0.3"/>
<path d="M236.11 405.76L237.71 408.64L234.51 408.64Z" fill="#69a84c" stroke="#69a84c" stroke-width="0.3"/>
<path d="M234.33 409.22L235.93 412.10L232.73 412.10Z" fill="#69a84c" stroke="#69a84c" stroke-width="0.3"/>
<path d="M233.47 411.82L235.07 414.70L231.88 414.70Z" fill="#69a84c" stroke="#69a84c" stroke-width="0.3"/>
<line x1="233.90" y1="395.25" x2="233.90" y2="414.28" stroke="#000" stroke-width="0.9"/>
<line x1="232.30" y1="395.25" x2="235.50" y2="395.25" stroke="#000" stroke-width="0.9"/>
<line x1="232.30" y1="414.28" x2="235.50" y2="414.28" stroke="#000" stroke-width="0.9"/>
<line x1="231.10" y1="404.25" x2="236.70" y2="404.25" stroke="#000" stroke-width="1.3"/>
<path d="M244.40 391.87L246.05 393.52L244.40 395.17L242.75 393.52Z" fill="#683b6b" stroke="#683b6b" stroke-width="0.3"/>
<path d="M242.78 393.60L244.44 395.25L242.78 396.90L241.13 395.25Z" fill="#683b6b" stroke="#683b6b" stroke-width="0.3"/>
<path d="M246.02 400.52L247.67 402.17L246.02 403.82L244.37 402.17Z" fill="#683b6b" stroke="#683b6b" stroke-width="0.3"/>
<path d="M243.55 403.98L245.20 405.63L243.55 407.28L241.90 405.63Z" fill="#683b6b" stroke="#683b6b" stroke-width="0.3"/>
<path d="M245.25 405.71L246.90 407.36L245.25 409.01L243.60 407.36Z" fill="#683b6b" stroke="#683b6b" stroke-width="0.3"/>
<path d="M242.19 409.17L243.84 410.82L242.19 412.47L240.54 410.82Z" fill="#683b6b" stroke="#683b6b" stroke-width="0.3"/>
<path d="M246.61 411.77L248.26 413.42L246.61 415.07L244.96 413.42Z" fill="#683b6b" stroke="#683b6b" stroke-width="0.3"/>
<path d="M244.83 412.63L246.48 414.28L244.83 415.93L243.18 414.28Z" fill="#683b6b" stroke="#683b6b" stroke-width="0.3"/>
<line x1="244.40" y1="398.71" x2="244.40" y2="414.28" stroke="#000" stroke-width="0.9"/>
<line x1="242.80" y1="398.71" x2="246.00" y2="398.71" stroke="#000" stroke-width="0.9"/>
<line x1="242.80" y1="414.28" x2="246.00" y2="414.28" stroke="#000" stroke-width="0.9"/>
<line x1="241.60" y1="405.98" x2="247.20" y2="405.98" stroke="#000" stroke-width="1.3"/>
<circle cx="254.90" cy="369.30" r="1.40" fill="#fff" stroke="#a8243b" stroke-width="0.7"/>
<circle cx="253.28" cy="374.49" r="1.40" fill="#fff" stroke="#a8243b" stroke-width="0.7"/>
<circle cx="256.51" cy="383.49" r="1.40" fill="#fff" stroke="#a8243b" stroke-width="0.7"/>
<circle cx="254.05" cy="386.26" r="1.40" fill="#fff" stroke="#a8243b" stroke-width="0.7"/>
<circle cx="255.75" cy="390.93" r="1.40" fill="#fff" stroke="#a8243b" stroke-width="0.7"/>
<circle cx="252.69" cy="396.64" r="1.40" fill="#fff" stroke="#a8243b" stroke-width="0.7"/>
<circle cx="257.11" cy="411.69" r="1.40" fill="#fff" stroke="#a8243b" stroke-width="0.7"/>
<circle cx="255.33" cy="413.94" r="1.40" fill="#fff" stroke="#a8243b" stroke-width="0.7"/>
<line x1="254.90" y1="374.84" x2="254.90" y2="406.50" stroke="#000" stroke-width="0.9"/>
<line x1="253.30" y1="374.84" x2="256.50" y2="374.84" stroke="#000" stroke-width="0.9"/>
<line x1="253.30" y1="406.50" x2="256.50" y2="406.50" stroke="#000" stroke-width="0.9"/>
<line x1="252.10" y1="390.93" x2="257.70" y2="390.93" stroke="#000" stroke-width="1.3"/>
<rect x="264.10" y="374.92" width="2.60" height="2.60" fill="#fff" stroke="#3d5a89" stroke-width="0.7"/>
<rect x="262.48" y="375.79" width="2.60" height="2.60" fill="#fff" stroke="#3d5a89" stroke-width="0.7"/>
<rect x="265.71" y="378.38" width="2.60" height="2.60" fill="#fff" stroke="#3d5a89" stroke-width="0.7"/>
<rect x="263.25" y="387.03" width="2.60" height="2.60" fill="#fff" stroke="#3d5a89" stroke-width="0.7"/>
<rect x="264.95" y="396.03" width="2.60" height="2.60" fill="#fff" stroke="#3d5a89" stroke-width="0.7"/>
<rect x="261.89" y="404.33" width="2.60" height="2.60" fill="#fff" stroke="#3d5a89" stroke-width="0.7"/>
<rect x="266.31" y="406.06" width="2.60" height="2.60" fill="#fff" stroke="#3d5a89" stroke-width="0.7"/>
<rect x="264.52" y="407.45" width="2.60" height="2.60" fill="#fff" stroke="#3d5a89" stroke-width="0.7"/>
<rect x="263.67" y="412.12" width="2.60" height="2.60" fill="#fff" stroke="#3d5a89" stroke-width="0.7"/>
<line x1="265.40" y1="386.26" x2="265.40" y2="413.94" stroke="#000" stroke-width="0.9"/>
<line x1="263.80" y1="386.26" x2="267.00" y2="386.26" stroke="#000" stroke-width="0.9"/>
<line x1="263.80" y1="413.94" x2="267.00" y2="413.94" stroke="#000" stroke-width="0.9"/>
<line x1="262.60" y1="399.06" x2="268.20" y2="399.06" stroke="#000" stroke-width="1.3"/>
<path d="M275.90 387.08L277.50 389.96L274.30 389.96Z" fill="#fff" stroke="#69a84c" stroke-width="0.7"/>
<path d="M274.28 400.57L275.88 403.45L272.68 403.45Z" fill="#fff" stroke="#69a84c" stroke-width="0.7"/>
<path d="M277.51 405.76L279.12 408.64L275.91 408.64Z" fill="#fff" stroke="#69a84c" stroke-width="0.7"/>
<path d="M275.05 408.36L276.65 411.24L273.45 411.24Z" fill="#fff" stroke="#69a84c" stroke-width="0.7"/>
<path d="M276.75 412.68L278.35 415.56L275.15 415.56Z" fill="#fff" stroke="#69a84c" stroke-width="0.7"/>
<path d="M273.69 413.55L275.29 416.43L272.09 416.43Z" fill="#fff" stroke="#69a84c" stroke-width="0.7"/>
<line x1="275.90" y1="398.37" x2="275.90" y2="415.15" stroke="#000" stroke-width="0.9"/>
<line x1="274.30" y1="398.37" x2="277.50" y2="398.37" stroke="#000" stroke-width="0.9"/>
<line x1="274.30" y1="415.15" x2="277.50" y2="415.15" stroke="#000" stroke-width="0.9"/>
<line x1="273.10" y1="406.50" x2="278.70" y2="406.50" stroke="#000" stroke-width="1.3"/>
<path d="M286.40 391.01L288.05 392.66L286.40 394.31L284.75 392.66Z" fill="#fff" stroke="#683b6b" stroke-width="0.7"/>
<path d="M284.78 408.31L286.43 409.96L284.78 411.61L283.13 409.96Z" fill="#fff" stroke="#683b6b" stroke-width="0.7"/>
<path d="M288.01 410.04L289.66 411.69L288.01 413.34L286.37 411.69Z" fill="#fff" stroke="#683b6b" stroke-width="0.7"/>
<path d="M285.55 411.77L287.20 413.42L285.55 415.07L283.90 413.42Z" fill="#fff" stroke="#683b6b" stroke-width="0.7"/>
<line x1="286.40" y1="399.06" x2="286.40" y2="416.88" stroke="#000" stroke-width="0.9"/>
<line x1="284.80" y1="399.06" x2="288.00" y2="399.06" stroke="#000" stroke-width="0.9"/>
<line x1="284.80" y1="416.88" x2="288.00" y2="416.88" stroke="#000" stroke-width="0.9"/>
<line x1="283.60" y1="408.23" x2="289.20" y2="408.23" stroke="#000" stroke-width="1.3"/>
<circle cx="296.90" cy="386.26" r="1.40" fill="url(#h0)" stroke="#a8243b" stroke-width="0.6"/>
<circle cx="295.28" cy="397.33" r="1.40" fill="url(#h0)" stroke="#a8243b" stroke-width="0.6"/>
<circle cx="298.51" cy="400.10" r="1.40" fill="url(#h0)" stroke="#a8243b" stroke-width="0.6"/>
<circle cx="296.05" cy="400.44" r="1.40" fill="url(#h0)" stroke="#a8243b" stroke-width="0.6"/>
<circle cx="297.75" cy="412.21" r="1.40" fill="url(#h0)" stroke="#a8243b" stroke-width="0.6"/>
<circle cx="294.69" cy="415.15" r="1.40" fill="url(#h0)" stroke="#a8243b" stroke-width="0.6"/>
<line x1="296.90" y1="393.18" x2="296.90" y2="414.63" stroke="#000" stroke-width="0.9"/>
<line x1="295.30" y1="393.18" x2="298.50" y2="393.18" stroke="#000" stroke-width="0.9"/>
<line x1="295.30" y1="414.63" x2="298.50" y2="414.63" stroke="#000" stroke-width="0.9"/>
<line x1="294.10" y1="403.56" x2="299.70" y2="403.56" stroke="#000" stroke-width="1.3"/>
<rect x="306.10" y="380.46" width="2.60" height="2.60" fill="url(#h1)" stroke="#3d5a89" stroke-width="0.6"/>
<rect x="304.48" y="383.57" width="2.60" height="2.60" fill="url(#h1)" stroke="#3d5a89" stroke-width="0.6"/>
<rect x="307.71" y="393.09" width="2.60" height="2.60" fill="url(#h1)" stroke="#3d5a89" stroke-width="0.6"/>
<rect x="305.25" y="395.34" width="2.60" height="2.60" fill="url(#h1)" stroke="#3d5a89" stroke-width="0.6"/>
<rect x="306.95" y="400.01" width="2.60" height="2.60" fill="url(#h1)" stroke="#3d5a89" stroke-width="0.6"/>
<rect x="303.89" y="412.12" width="2.60" height="2.60" fill="url(#h1)" stroke="#3d5a89" stroke-width="0.6"/>
<rect x="308.31" y="413.85" width="2.60" height="2.60" fill="url(#h1)" stroke="#3d5a89" stroke-width="0.6"/>
<line x1="307.40" y1="384.87" x2="307.40" y2="411.69" stroke="#000" stroke-width="0.9"/>
<line x1="305.80" y1="384.87" x2="309.00" y2="384.87" stroke="#000" stroke-width="0.9"/>
<line x1="305.80" y1="411.69" x2="309.00" y2="411.69" stroke="#000" stroke-width="0.9"/>
<line x1="304.60" y1="397.85" x2="310.20" y2="397.85" stroke="#000" stroke-width="1.3"/>
<path d="M317.90 385.87L319.50 388.75L316.30 388.75Z" fill="url(#h2)" stroke="#69a84c" stroke-width="0.6"/>
<path d="M316.28 410.09L317.88 412.97L314.68 412.97Z" fill="url(#h2)" stroke="#69a84c" stroke-width="0.6"/>
<path d="M319.51 411.82L321.12 414.70L317.91 414.70Z" fill="url(#h2)" stroke="#69a84c" stroke-width="0.6"/>
<path d="M317.05 414.41L318.65 417.29L315.45 417.29Z" fill="url(#h2)" stroke="#69a84c" stroke-width="0.6"/>
<line x1="317.90" y1="399.06" x2="317.90" y2="416.88" stroke="#000" stroke-width="0.9"/>
<line x1="316.30" y1="399.06" x2="319.50" y2="399.06" stroke="#000" stroke-width="0.9"/>
<line x1="316.30" y1="416.88" x2="319.50" y2="416.88" stroke="#000" stroke-width="0.9"/>
<line x1="315.10" y1="409.96" x2="320.70" y2="409.96" stroke="#000" stroke-width="1.3"/>
<path d="M328.40 380.63L330.05 382.28L328.40 383.93L326.75 382.28Z" fill="url(#h3)" stroke="#683b6b" stroke-width="0.6"/>
<path d="M326.78 410.04L328.43 411.69L326.78 413.34L325.13 411.69Z" fill="url(#h3)" stroke="#683b6b" stroke-width="0.6"/>
<path d="M330.01 411.77L331.66 413.42L330.01 415.07L328.37 413.42Z" fill="url(#h3)" stroke="#683b6b" stroke-width="0.6"/>
<path d="M327.55 413.50L329.20 415.15L327.55 416.80L325.90 415.15Z" fill="url(#h3)" stroke="#683b6b" stroke-width="0.6"/>
<line x1="328.40" y1="393.18" x2="328.40" y2="416.88" stroke="#000" stroke-width="0.9"/>
<line x1="326.80" y1="393.18" x2="330.00" y2="393.18" stroke="#000" stroke-width="0.9"/>
<line x1="326.80" y1="416.88" x2="330.00" y2="416.88" stroke="#000" stroke-width="0.9"/>
<line x1="325.60" y1="407.71" x2="331.20" y2="407.71" stroke="#000" stroke-width="1.3"/>
<line x1="373.20" y1="358.60" x2="373.20" y2="419.60" stroke="#000" stroke-width="1.0"/>
<line x1="370.40" y1="416.50" x2="373.20" y2="416.50" stroke="#000" stroke-width="0.8"/>
<text transform="translate(367.20 418.85) scale(0.890 1)" font-size="6.72" text-anchor="end" fill="#222" stroke="#222" stroke-width="0.05">0</text>
<line x1="370.40" y1="402.75" x2="373.20" y2="402.75" stroke="#000" stroke-width="0.8"/>
<text transform="translate(367.20 405.10) scale(0.890 1)" font-size="6.72" text-anchor="end" fill="#222" stroke="#222" stroke-width="0.05">1000</text>
<line x1="370.40" y1="389.00" x2="373.20" y2="389.00" stroke="#000" stroke-width="0.8"/>
<text transform="translate(367.20 391.35) scale(0.890 1)" font-size="6.72" text-anchor="end" fill="#222" stroke="#222" stroke-width="0.05">2000</text>
<line x1="370.40" y1="375.25" x2="373.20" y2="375.25" stroke="#000" stroke-width="0.8"/>
<text transform="translate(367.20 377.60) scale(0.890 1)" font-size="6.72" text-anchor="end" fill="#222" stroke="#222" stroke-width="0.05">3000</text>
<line x1="370.40" y1="361.50" x2="373.20" y2="361.50" stroke="#000" stroke-width="0.8"/>
<text transform="translate(367.20 363.85) scale(0.890 1)" font-size="6.72" text-anchor="end" fill="#222" stroke="#222" stroke-width="0.05">4000</text>
<path d="M371.40 413.06H373.20 M371.40 409.62H373.20 M371.40 406.19H373.20 M371.40 399.31H373.20 M371.40 395.88H373.20 M371.40 392.44H373.20 M371.40 385.56H373.20 M371.40 382.12H373.20 M371.40 378.69H373.20 M371.40 371.81H373.20 M371.40 368.38H373.20 M371.40 364.94H373.20" stroke="#000" stroke-width="0.7"/>
<line x1="373.20" y1="419.10" x2="500.20" y2="419.10" stroke="#000" stroke-width="1.4"/>
<line x1="374.70" y1="416.70" x2="500.20" y2="416.70" stroke="#111" stroke-width="1.0" stroke-dasharray="0.95 0.95"/>
<line x1="378.20" y1="419.10" x2="378.20" y2="422.50" stroke="#000" stroke-width="0.9"/>
<text transform="translate(378.20 431.39) scale(0.890 1)" font-size="7.39" text-anchor="middle" fill="#333" stroke="#333" stroke-width="0.05">A</text>
<line x1="388.70" y1="419.10" x2="388.70" y2="422.50" stroke="#000" stroke-width="0.9"/>
<text transform="translate(388.70 431.39) scale(0.890 1)" font-size="7.39" text-anchor="middle" fill="#333" stroke="#333" stroke-width="0.05">B</text>
<line x1="399.20" y1="419.10" x2="399.20" y2="422.50" stroke="#000" stroke-width="0.9"/>
<text transform="translate(399.20 431.39) scale(0.890 1)" font-size="7.39" text-anchor="middle" fill="#333" stroke="#333" stroke-width="0.05">C</text>
<line x1="409.70" y1="419.10" x2="409.70" y2="422.50" stroke="#000" stroke-width="0.9"/>
<text transform="translate(409.70 431.39) scale(0.890 1)" font-size="7.39" text-anchor="middle" fill="#333" stroke="#333" stroke-width="0.05">D</text>
<line x1="420.20" y1="419.10" x2="420.20" y2="422.50" stroke="#000" stroke-width="0.9"/>
<text transform="translate(420.20 431.39) scale(0.890 1)" font-size="7.39" text-anchor="middle" fill="#333" stroke="#333" stroke-width="0.05">A</text>
<line x1="430.70" y1="419.10" x2="430.70" y2="422.50" stroke="#000" stroke-width="0.9"/>
<text transform="translate(430.70 431.39) scale(0.890 1)" font-size="7.39" text-anchor="middle" fill="#333" stroke="#333" stroke-width="0.05">B</text>
<line x1="441.20" y1="419.10" x2="441.20" y2="422.50" stroke="#000" stroke-width="0.9"/>
<text transform="translate(441.20 431.39) scale(0.890 1)" font-size="7.39" text-anchor="middle" fill="#333" stroke="#333" stroke-width="0.05">C</text>
<line x1="451.70" y1="419.10" x2="451.70" y2="422.50" stroke="#000" stroke-width="0.9"/>
<text transform="translate(451.70 431.39) scale(0.890 1)" font-size="7.39" text-anchor="middle" fill="#333" stroke="#333" stroke-width="0.05">D</text>
<line x1="462.20" y1="419.10" x2="462.20" y2="422.50" stroke="#000" stroke-width="0.9"/>
<text transform="translate(462.20 431.39) scale(0.890 1)" font-size="7.39" text-anchor="middle" fill="#333" stroke="#333" stroke-width="0.05">A</text>
<line x1="472.70" y1="419.10" x2="472.70" y2="422.50" stroke="#000" stroke-width="0.9"/>
<text transform="translate(472.70 431.39) scale(0.890 1)" font-size="7.39" text-anchor="middle" fill="#333" stroke="#333" stroke-width="0.05">B</text>
<line x1="483.20" y1="419.10" x2="483.20" y2="422.50" stroke="#000" stroke-width="0.9"/>
<text transform="translate(483.20 431.39) scale(0.890 1)" font-size="7.39" text-anchor="middle" fill="#333" stroke="#333" stroke-width="0.05">C</text>
<line x1="493.70" y1="419.10" x2="493.70" y2="422.50" stroke="#000" stroke-width="0.9"/>
<text transform="translate(493.70 431.39) scale(0.890 1)" font-size="7.39" text-anchor="middle" fill="#333" stroke="#333" stroke-width="0.05">D</text>
<line x1="375.00" y1="433.60" x2="414.20" y2="433.60" stroke="#555" stroke-width="1.1"/>
<line x1="416.00" y1="433.60" x2="455.40" y2="433.60" stroke="#555" stroke-width="1.1"/>
<line x1="459.50" y1="433.60" x2="498.30" y2="433.60" stroke="#555" stroke-width="1.1"/>
<text transform="translate(394.60 441.17) scale(0.890 1)" font-size="7.06" text-anchor="middle" fill="#231f20" stroke="#231f20" stroke-width="0.07">control</text>
<text transform="translate(435.50 441.17) scale(0.890 1)" font-size="7.06" text-anchor="middle" fill="#231f20" stroke="#231f20" stroke-width="0.07">Flvcr-deleted</text>
<text transform="translate(479.10 441.17) scale(0.890 1)" font-size="7.06" text-anchor="middle" fill="#231f20" stroke="#231f20" stroke-width="0.07">EPO</text>
<text transform="translate(344.70 388.75) rotate(-90) translate(0 2.98) scale(0.850 1)" font-size="8.51" text-anchor="middle" fill="#231f20" stroke="#231f20" stroke-width="0.07">RPKM</text>
<text transform="translate(437.50 353.85) scale(0.890 1)" font-size="6.72" text-anchor="middle" fill="#231f20" stroke="#231f20" stroke-width="0.07">Rpl4</text>
<circle cx="378.20" cy="390.93" r="1.40" fill="#a8243b" stroke="#a8243b" stroke-width="0.3"/>
<circle cx="376.58" cy="399.58" r="1.40" fill="#a8243b" stroke="#a8243b" stroke-width="0.3"/>
<circle cx="379.81" cy="404.77" r="1.40" fill="#a8243b" stroke="#a8243b" stroke-width="0.3"/>
<circle cx="377.35" cy="409.09" r="1.40" fill="#a8243b" stroke="#a8243b" stroke-width="0.3"/>
<circle cx="379.05" cy="409.96" r="1.40" fill="#a8243b" stroke="#a8243b" stroke-width="0.3"/>
<circle cx="375.99" cy="413.94" r="1.40" fill="#a8243b" stroke="#a8243b" stroke-width="0.3"/>
<line x1="378.20" y1="396.12" x2="378.20" y2="412.55" stroke="#000" stroke-width="0.9"/>
<line x1="376.60" y1="396.12" x2="379.80" y2="396.12" stroke="#000" stroke-width="0.9"/>
<line x1="376.60" y1="412.55" x2="379.80" y2="412.55" stroke="#000" stroke-width="0.9"/>
<line x1="375.40" y1="404.25" x2="381.00" y2="404.25" stroke="#000" stroke-width="1.3"/>
<rect x="387.40" y="381.84" width="2.60" height="2.60" fill="#3d5a89" stroke="#3d5a89" stroke-width="0.3"/>
<rect x="385.78" y="387.90" width="2.60" height="2.60" fill="#3d5a89" stroke="#3d5a89" stroke-width="0.3"/>
<rect x="389.01" y="396.03" width="2.60" height="2.60" fill="#3d5a89" stroke="#3d5a89" stroke-width="0.3"/>
<rect x="386.55" y="397.07" width="2.60" height="2.60" fill="#3d5a89" stroke="#3d5a89" stroke-width="0.3"/>
<rect x="388.25" y="399.14" width="2.60" height="2.60" fill="#3d5a89" stroke="#3d5a89" stroke-width="0.3"/>
<rect x="385.19" y="402.60" width="2.60" height="2.60" fill="#3d5a89" stroke="#3d5a89" stroke-width="0.3"/>
<rect x="389.61" y="410.39" width="2.60" height="2.60" fill="#3d5a89" stroke="#3d5a89" stroke-width="0.3"/>
<rect x="387.82" y="412.98" width="2.60" height="2.60" fill="#3d5a89" stroke="#3d5a89" stroke-width="0.3"/>
<line x1="388.70" y1="390.06" x2="388.70" y2="408.23" stroke="#000" stroke-width="0.9"/>
<line x1="387.10" y1="390.06" x2="390.30" y2="390.06" stroke="#000" stroke-width="0.9"/>
<line x1="387.10" y1="408.23" x2="390.30" y2="408.23" stroke="#000" stroke-width="0.9"/>
<line x1="385.90" y1="399.06" x2="391.50" y2="399.06" stroke="#000" stroke-width="1.3"/>
<path d="M399.20 385.87L400.80 388.75L397.60 388.75Z" fill="#69a84c" stroke="#69a84c" stroke-width="0.3"/>
<path d="M397.58 390.54L399.19 393.42L395.98 393.42Z" fill="#69a84c" stroke="#69a84c" stroke-width="0.3"/>
<path d="M400.81 392.79L402.42 395.67L399.21 395.67Z" fill="#69a84c" stroke="#69a84c" stroke-width="0.3"/>
<path d="M398.35 405.76L399.95 408.64L396.75 408.64Z" fill="#69a84c" stroke="#69a84c" stroke-width="0.3"/>
<path d="M400.05 407.49L401.65 410.37L398.45 410.37Z" fill="#69a84c" stroke="#69a84c" stroke-width="0.3"/>
<path d="M396.99 411.82L398.59 414.70L395.39 414.70Z" fill="#69a84c" stroke="#69a84c" stroke-width="0.3"/>
<path d="M401.41 414.41L403.01 417.29L399.81 417.29Z" fill="#69a84c" stroke="#69a84c" stroke-width="0.3"/>
<line x1="399.20" y1="399.06" x2="399.20" y2="416.88" stroke="#000" stroke-width="0.9"/>
<line x1="397.60" y1="399.06" x2="400.80" y2="399.06" stroke="#000" stroke-width="0.9"/>
<line x1="397.60" y1="416.88" x2="400.80" y2="416.88" stroke="#000" stroke-width="0.9"/>
<line x1="396.40" y1="408.23" x2="402.00" y2="408.23" stroke="#000" stroke-width="1.3"/>
<path d="M409.70 392.22L411.35 393.87L409.70 395.52L408.05 393.87Z" fill="#683b6b" stroke="#683b6b" stroke-width="0.3"/>
<path d="M408.08 394.99L409.73 396.64L408.08 398.29L406.44 396.64Z" fill="#683b6b" stroke="#683b6b" stroke-width="0.3"/>
<path d="M411.31 399.66L412.96 401.31L411.31 402.96L409.67 401.31Z" fill="#683b6b" stroke="#683b6b" stroke-width="0.3"/>
<path d="M408.85 402.25L410.50 403.90L408.85 405.55L407.20 403.90Z" fill="#683b6b" stroke="#683b6b" stroke-width="0.3"/>
<path d="M410.55 405.71L412.20 407.36L410.55 409.01L408.90 407.36Z" fill="#683b6b" stroke="#683b6b" stroke-width="0.3"/>
<path d="M407.49 408.83L409.14 410.48L407.49 412.13L405.84 410.48Z" fill="#683b6b" stroke="#683b6b" stroke-width="0.3"/>
<path d="M411.91 412.29L413.56 413.94L411.91 415.59L410.26 413.94Z" fill="#683b6b" stroke="#683b6b" stroke-width="0.3"/>
<path d="M410.12 414.36L411.77 416.01L410.12 417.66L408.48 416.01Z" fill="#683b6b" stroke="#683b6b" stroke-width="0.3"/>
<line x1="409.70" y1="400.79" x2="409.70" y2="415.15" stroke="#000" stroke-width="0.9"/>
<line x1="408.10" y1="400.79" x2="411.30" y2="400.79" stroke="#000" stroke-width="0.9"/>
<line x1="408.10" y1="415.15" x2="411.30" y2="415.15" stroke="#000" stroke-width="0.9"/>
<line x1="406.90" y1="407.36" x2="412.50" y2="407.36" stroke="#000" stroke-width="1.3"/>
<circle cx="420.20" cy="379.34" r="1.40" fill="#fff" stroke="#a8243b" stroke-width="0.7"/>
<circle cx="418.58" cy="388.68" r="1.40" fill="#fff" stroke="#a8243b" stroke-width="0.7"/>
<circle cx="421.81" cy="396.12" r="1.40" fill="#fff" stroke="#a8243b" stroke-width="0.7"/>
<circle cx="419.35" cy="408.23" r="1.40" fill="#fff" stroke="#a8243b" stroke-width="0.7"/>
<circle cx="421.05" cy="409.96" r="1.40" fill="#fff" stroke="#a8243b" stroke-width="0.7"/>
<circle cx="417.99" cy="413.42" r="1.40" fill="#fff" stroke="#a8243b" stroke-width="0.7"/>
<circle cx="422.41" cy="416.36" r="1.40" fill="#fff" stroke="#a8243b" stroke-width="0.7"/>
<line x1="420.20" y1="390.41" x2="420.20" y2="416.88" stroke="#000" stroke-width="0.9"/>
<line x1="418.60" y1="390.41" x2="421.80" y2="390.41" stroke="#000" stroke-width="0.9"/>
<line x1="418.60" y1="416.88" x2="421.80" y2="416.88" stroke="#000" stroke-width="0.9"/>
<line x1="417.40" y1="403.56" x2="423.00" y2="403.56" stroke="#000" stroke-width="1.3"/>
<rect x="429.40" y="383.92" width="2.60" height="2.60" fill="#fff" stroke="#3d5a89" stroke-width="0.7"/>
<rect x="427.78" y="390.15" width="2.60" height="2.60" fill="#fff" stroke="#3d5a89" stroke-width="0.7"/>
<rect x="431.01" y="390.84" width="2.60" height="2.60" fill="#fff" stroke="#3d5a89" stroke-width="0.7"/>
<rect x="428.55" y="394.82" width="2.60" height="2.60" fill="#fff" stroke="#3d5a89" stroke-width="0.7"/>
<rect x="430.25" y="399.14" width="2.60" height="2.60" fill="#fff" stroke="#3d5a89" stroke-width="0.7"/>
<rect x="427.19" y="402.26" width="2.60" height="2.60" fill="#fff" stroke="#3d5a89" stroke-width="0.7"/>
<rect x="431.61" y="412.98" width="2.60" height="2.60" fill="#fff" stroke="#3d5a89" stroke-width="0.7"/>
<rect x="429.82" y="415.06" width="2.60" height="2.60" fill="#fff" stroke="#3d5a89" stroke-width="0.7"/>
<line x1="430.70" y1="393.52" x2="430.70" y2="416.88" stroke="#000" stroke-width="0.9"/>
<line x1="429.10" y1="393.52" x2="432.30" y2="393.52" stroke="#000" stroke-width="0.9"/>
<line x1="429.10" y1="416.88" x2="432.30" y2="416.88" stroke="#000" stroke-width="0.9"/>
<line x1="427.90" y1="405.29" x2="433.50" y2="405.29" stroke="#000" stroke-width="1.3"/>
<path d="M441.20 396.25L442.80 399.13L439.60 399.13Z" fill="#fff" stroke="#69a84c" stroke-width="0.7"/>
<path d="M439.58 398.84L441.19 401.72L437.98 401.72Z" fill="#fff" stroke="#69a84c" stroke-width="0.7"/>
<path d="M442.81 409.22L444.42 412.10L441.21 412.10Z" fill="#fff" stroke="#69a84c" stroke-width="0.7"/>
<path d="M440.35 410.95L441.95 413.83L438.75 413.83Z" fill="#fff" stroke="#69a84c" stroke-width="0.7"/>
<path d="M442.05 412.68L443.65 415.56L440.45 415.56Z" fill="#fff" stroke="#69a84c" stroke-width="0.7"/>
<path d="M438.99 414.76L440.59 417.64L437.39 417.64Z" fill="#fff" stroke="#69a84c" stroke-width="0.7"/>
<line x1="441.20" y1="404.25" x2="441.20" y2="416.88" stroke="#000" stroke-width="0.9"/>
<line x1="439.60" y1="404.25" x2="442.80" y2="404.25" stroke="#000" stroke-width="0.9"/>
<line x1="439.60" y1="416.88" x2="442.80" y2="416.88" stroke="#000" stroke-width="0.9"/>
<line x1="438.40" y1="410.82" x2="444.00" y2="410.82" stroke="#000" stroke-width="1.3"/>
<path d="M451.70 408.83L453.35 410.48L451.70 412.13L450.05 410.48Z" fill="#fff" stroke="#683b6b" stroke-width="0.7"/>
<path d="M450.08 410.90L451.73 412.55L450.08 414.20L448.44 412.55Z" fill="#fff" stroke="#683b6b" stroke-width="0.7"/>
<path d="M453.31 413.50L454.96 415.15L453.31 416.80L451.67 415.15Z" fill="#fff" stroke="#683b6b" stroke-width="0.7"/>
<path d="M450.85 415.23L452.50 416.88L450.85 418.53L449.20 416.88Z" fill="#fff" stroke="#683b6b" stroke-width="0.7"/>
<line x1="451.70" y1="411.69" x2="451.70" y2="416.88" stroke="#000" stroke-width="0.9"/>
<line x1="450.10" y1="411.69" x2="453.30" y2="411.69" stroke="#000" stroke-width="0.9"/>
<line x1="450.10" y1="416.88" x2="453.30" y2="416.88" stroke="#000" stroke-width="0.9"/>
<line x1="448.90" y1="413.94" x2="454.50" y2="413.94" stroke="#000" stroke-width="1.3"/>
<circle cx="462.20" cy="398.71" r="1.40" fill="url(#h0)" stroke="#a8243b" stroke-width="0.6"/>
<circle cx="460.58" cy="399.06" r="1.40" fill="url(#h0)" stroke="#a8243b" stroke-width="0.6"/>
<circle cx="463.81" cy="410.82" r="1.40" fill="url(#h0)" stroke="#a8243b" stroke-width="0.6"/>
<circle cx="461.35" cy="416.01" r="1.40" fill="url(#h0)" stroke="#a8243b" stroke-width="0.6"/>
<circle cx="463.05" cy="416.36" r="1.40" fill="url(#h0)" stroke="#a8243b" stroke-width="0.6"/>
<line x1="462.20" y1="402.17" x2="462.20" y2="416.88" stroke="#000" stroke-width="0.9"/>
<line x1="460.60" y1="402.17" x2="463.80" y2="402.17" stroke="#000" stroke-width="0.9"/>
<line x1="460.60" y1="416.88" x2="463.80" y2="416.88" stroke="#000" stroke-width="0.9"/>
<line x1="459.40" y1="409.44" x2="465.00" y2="409.44" stroke="#000" stroke-width="1.3"/>
<rect x="471.40" y="361.08" width="2.60" height="2.60" fill="url(#h1)" stroke="#3d5a89" stroke-width="0.6"/>
<rect x="469.78" y="383.23" width="2.60" height="2.60" fill="url(#h1)" stroke="#3d5a89" stroke-width="0.6"/>
<rect x="473.01" y="390.84" width="2.60" height="2.60" fill="url(#h1)" stroke="#3d5a89" stroke-width="0.6"/>
<rect x="470.55" y="393.95" width="2.60" height="2.60" fill="url(#h1)" stroke="#3d5a89" stroke-width="0.6"/>
<rect x="472.25" y="394.82" width="2.60" height="2.60" fill="url(#h1)" stroke="#3d5a89" stroke-width="0.6"/>
<rect x="469.19" y="406.93" width="2.60" height="2.60" fill="url(#h1)" stroke="#3d5a89" stroke-width="0.6"/>
<rect x="473.61" y="414.37" width="2.60" height="2.60" fill="url(#h1)" stroke="#3d5a89" stroke-width="0.6"/>
<rect x="471.82" y="415.06" width="2.60" height="2.60" fill="url(#h1)" stroke="#3d5a89" stroke-width="0.6"/>
<line x1="472.70" y1="381.76" x2="472.70" y2="416.88" stroke="#000" stroke-width="0.9"/>
<line x1="471.10" y1="381.76" x2="474.30" y2="381.76" stroke="#000" stroke-width="0.9"/>
<line x1="471.10" y1="416.88" x2="474.30" y2="416.88" stroke="#000" stroke-width="0.9"/>
<line x1="469.90" y1="398.37" x2="475.50" y2="398.37" stroke="#000" stroke-width="1.3"/>
<path d="M483.20 393.65L484.80 396.53L481.60 396.53Z" fill="url(#h2)" stroke="#69a84c" stroke-width="0.6"/>
<path d="M481.58 404.90L483.19 407.78L479.98 407.78Z" fill="url(#h2)" stroke="#69a84c" stroke-width="0.6"/>
<path d="M484.81 414.76L486.42 417.64L483.21 417.64Z" fill="url(#h2)" stroke="#69a84c" stroke-width="0.6"/>
<path d="M482.35 415.28L483.95 418.16L480.75 418.16Z" fill="url(#h2)" stroke="#69a84c" stroke-width="0.6"/>
<line x1="483.20" y1="402.52" x2="483.20" y2="416.88" stroke="#000" stroke-width="0.9"/>
<line x1="481.60" y1="402.52" x2="484.80" y2="402.52" stroke="#000" stroke-width="0.9"/>
<line x1="481.60" y1="416.88" x2="484.80" y2="416.88" stroke="#000" stroke-width="0.9"/>
<line x1="480.40" y1="411.17" x2="486.00" y2="411.17" stroke="#000" stroke-width="1.3"/>
<path d="M493.70 408.31L495.35 409.96L493.70 411.61L492.05 409.96Z" fill="url(#h3)" stroke="#683b6b" stroke-width="0.6"/>
<path d="M492.08 410.90L493.73 412.55L492.08 414.20L490.44 412.55Z" fill="url(#h3)" stroke="#683b6b" stroke-width="0.6"/>
<path d="M495.31 413.50L496.96 415.15L495.31 416.80L493.67 415.15Z" fill="url(#h3)" stroke="#683b6b" stroke-width="0.6"/>
<line x1="493.70" y1="409.96" x2="493.70" y2="416.88" stroke="#000" stroke-width="0.9"/>
<line x1="492.10" y1="409.96" x2="495.30" y2="409.96" stroke="#000" stroke-width="0.9"/>
<line x1="492.10" y1="416.88" x2="495.30" y2="416.88" stroke="#000" stroke-width="0.9"/>
<line x1="490.90" y1="413.94" x2="496.50" y2="413.94" stroke="#000" stroke-width="1.3"/>
<text transform="translate(11.40 152.22) scale(0.800 1)" font-size="11.76" text-anchor="middle" fill="#231f20" stroke="#231f20" stroke-width="0.22">B</text>
<text transform="translate(38.9 453.8) scale(0.86 1)" font-size="6.7" fill="#231f20" stroke="#231f20" stroke-width="0.1">CD36<tspan font-size="4.2" dy="-2.6">+</tspan><tspan dy="2.6">GLYA</tspan><tspan font-size="4.2" dy="-2.6">-</tspan></text>
<text transform="translate(18.50 476.12) scale(0.800 1)" font-size="11.76" text-anchor="middle" fill="#231f20" stroke="#231f20" stroke-width="0.22">C</text>
<text transform="translate(67.50 474.85) scale(0.890 1)" font-size="6.72" text-anchor="middle" fill="#231f20" stroke="#231f20" stroke-width="0.07">Heme</text>
<line x1="40.50" y1="482.50" x2="40.50" y2="560.90" stroke="#222" stroke-width="1.3"/>
<line x1="37.70" y1="560.30" x2="40.50" y2="560.30" stroke="#222" stroke-width="0.9"/>
<text transform="translate(35.10 562.65) scale(0.890 1)" font-size="6.72" text-anchor="end" fill="#222" stroke="#222" stroke-width="0.05">0.0</text>
<line x1="37.70" y1="535.30" x2="40.50" y2="535.30" stroke="#222" stroke-width="0.9"/>
<text transform="translate(35.10 537.65) scale(0.890 1)" font-size="6.72" text-anchor="end" fill="#222" stroke="#222" stroke-width="0.05">0.5</text>
<line x1="37.70" y1="510.40" x2="40.50" y2="510.40" stroke="#222" stroke-width="0.9"/>
<text transform="translate(35.10 512.75) scale(0.890 1)" font-size="6.72" text-anchor="end" fill="#222" stroke="#222" stroke-width="0.05">1.0</text>
<line x1="37.70" y1="485.30" x2="40.50" y2="485.30" stroke="#222" stroke-width="0.9"/>
<text transform="translate(35.10 487.65) scale(0.890 1)" font-size="6.72" text-anchor="end" fill="#222" stroke="#222" stroke-width="0.05">1.5</text>
<line x1="39.90" y1="560.30" x2="93.70" y2="560.30" stroke="#222" stroke-width="1.3"/>
<line x1="40.50" y1="560.30" x2="40.50" y2="562.90" stroke="#000" stroke-width="0.8"/>
<text transform="translate(40.50 571.85) scale(0.890 1)" font-size="6.72" text-anchor="middle" fill="#222" stroke="#222" stroke-width="0.05">0</text>
<line x1="55.90" y1="560.30" x2="55.90" y2="562.90" stroke="#000" stroke-width="0.8"/>
<text transform="translate(55.90 571.85) scale(0.890 1)" font-size="6.72" text-anchor="middle" fill="#222" stroke="#222" stroke-width="0.05">10</text>
<line x1="71.60" y1="560.30" x2="71.60" y2="562.90" stroke="#000" stroke-width="0.8"/>
<text transform="translate(71.60 571.85) scale(0.890 1)" font-size="6.72" text-anchor="middle" fill="#222" stroke="#222" stroke-width="0.05">20</text>
<line x1="87.10" y1="560.30" x2="87.10" y2="562.90" stroke="#000" stroke-width="0.8"/>
<text transform="translate(87.10 571.85) scale(0.890 1)" font-size="6.72" text-anchor="middle" fill="#222" stroke="#222" stroke-width="0.05">30</text>
<line x1="48.20" y1="560.30" x2="48.20" y2="561.90" stroke="#000" stroke-width="0.7"/>
<line x1="63.75" y1="560.30" x2="63.75" y2="561.90" stroke="#000" stroke-width="0.7"/>
<line x1="79.35" y1="560.30" x2="79.35" y2="561.90" stroke="#000" stroke-width="0.7"/>
<line x1="41.50" y1="510.60" x2="91.00" y2="510.60" stroke="#000" stroke-width="1.1" stroke-dasharray="2.7 1.8"/>
<text transform="translate(17.00 521.20) rotate(-90) translate(0 3.18) scale(0.890 1)" font-size="9.07" text-anchor="middle" fill="#231f20" stroke="#231f20" stroke-width="0.07">Relative heme content</text>
<text transform="translate(67.00 584.65) scale(0.890 1)" font-size="9.86" text-anchor="middle" fill="#231f20" stroke="#231f20" stroke-width="0.07">min</text>
<polyline points="40.5,510.4 63.6,503.8 87.1,497.1" fill="none" stroke="#a8243b" stroke-width="1.0"/>
<line x1="63.60" y1="501.30" x2="63.60" y2="506.30" stroke="#333" stroke-width="0.9"/>
<line x1="61.35" y1="501.30" x2="65.85" y2="501.30" stroke="#333" stroke-width="0.9"/>
<line x1="61.35" y1="506.30" x2="65.85" y2="506.30" stroke="#333" stroke-width="0.9"/>
<line x1="87.10" y1="493.30" x2="87.10" y2="500.70" stroke="#333" stroke-width="0.9"/>
<line x1="84.85" y1="493.30" x2="89.35" y2="493.30" stroke="#333" stroke-width="0.9"/>
<line x1="84.85" y1="500.70" x2="89.35" y2="500.70" stroke="#333" stroke-width="0.9"/>
<circle cx="40.5" cy="510.4" r="2.2" fill="#a8243b"/>
<circle cx="63.6" cy="503.8" r="2.2" fill="#a8243b"/>
<circle cx="87.1" cy="497.1" r="2.2" fill="#a8243b"/>
<circle cx="63.60" cy="498.30" r="0.8" fill="#222"/>
<circle cx="87.10" cy="489.90" r="0.8" fill="#222"/>
<text transform="translate(18.50 599.12) scale(0.800 1)" font-size="11.76" text-anchor="middle" fill="#231f20" stroke="#231f20" stroke-width="0.22">D</text>
<text transform="translate(68.00 597.85) scale(0.890 1)" font-size="6.72" text-anchor="middle" fill="#231f20" stroke="#231f20" stroke-width="0.07">ROS</text>
<line x1="40.60" y1="606.40" x2="40.60" y2="683.70" stroke="#222" stroke-width="1.3"/>
<line x1="37.80" y1="683.10" x2="40.60" y2="683.10" stroke="#222" stroke-width="0.9"/>
<text transform="translate(35.20 685.45) scale(0.890 1)" font-size="6.72" text-anchor="end" fill="#222" stroke="#222" stroke-width="0.05">0.0</text>
<line x1="37.80" y1="664.70" x2="40.60" y2="664.70" stroke="#222" stroke-width="0.9"/>
<text transform="translate(35.20 667.05) scale(0.890 1)" font-size="6.72" text-anchor="end" fill="#222" stroke="#222" stroke-width="0.05">0.5</text>
<line x1="37.80" y1="646.00" x2="40.60" y2="646.00" stroke="#222" stroke-width="0.9"/>
<text transform="translate(35.20 648.35) scale(0.890 1)" font-size="6.72" text-anchor="end" fill="#222" stroke="#222" stroke-width="0.05">1.0</text>
<line x1="37.80" y1="627.20" x2="40.60" y2="627.20" stroke="#222" stroke-width="0.9"/>
<text transform="translate(35.20 629.55) scale(0.890 1)" font-size="6.72" text-anchor="end" fill="#222" stroke="#222" stroke-width="0.05">1.5</text>
<line x1="37.80" y1="608.00" x2="40.60" y2="608.00" stroke="#222" stroke-width="0.9"/>
<text transform="translate(35.20 610.35) scale(0.890 1)" font-size="6.72" text-anchor="end" fill="#222" stroke="#222" stroke-width="0.05">2.0</text>
<line x1="40.00" y1="683.10" x2="93.70" y2="683.10" stroke="#222" stroke-width="1.3"/>
<line x1="40.50" y1="683.10" x2="40.50" y2="685.70" stroke="#000" stroke-width="0.8"/>
<text transform="translate(40.50 694.65) scale(0.890 1)" font-size="6.72" text-anchor="middle" fill="#222" stroke="#222" stroke-width="0.05">0</text>
<line x1="55.90" y1="683.10" x2="55.90" y2="685.70" stroke="#000" stroke-width="0.8"/>
<text transform="translate(55.90 694.65) scale(0.890 1)" font-size="6.72" text-anchor="middle" fill="#222" stroke="#222" stroke-width="0.05">10</text>
<line x1="71.60" y1="683.10" x2="71.60" y2="685.70" stroke="#000" stroke-width="0.8"/>
<text transform="translate(71.60 694.65) scale(0.890 1)" font-size="6.72" text-anchor="middle" fill="#222" stroke="#222" stroke-width="0.05">20</text>
<line x1="87.10" y1="683.10" x2="87.10" y2="685.70" stroke="#000" stroke-width="0.8"/>
<text transform="translate(87.10 694.65) scale(0.890 1)" font-size="6.72" text-anchor="middle" fill="#222" stroke="#222" stroke-width="0.05">30</text>
<line x1="48.20" y1="683.10" x2="48.20" y2="684.70" stroke="#000" stroke-width="0.7"/>
<line x1="63.75" y1="683.10" x2="63.75" y2="684.70" stroke="#000" stroke-width="0.7"/>
<line x1="79.35" y1="683.10" x2="79.35" y2="684.70" stroke="#000" stroke-width="0.7"/>
<line x1="41.50" y1="646.00" x2="90.70" y2="646.00" stroke="#555" stroke-width="1.35" stroke-dasharray="2.7 1.8"/>
<text transform="translate(17.00 644.70) rotate(-90) translate(0 3.02) scale(0.890 1)" font-size="8.62" text-anchor="middle" fill="#231f20" stroke="#231f20" stroke-width="0.07">Relative ROS level</text>
<text transform="translate(66.70 706.85) scale(0.890 1)" font-size="9.86" text-anchor="middle" fill="#231f20" stroke="#231f20" stroke-width="0.07">min</text>
<polyline points="40.6,646 64,624.4 87.5,634" fill="none" stroke="#a8243b" stroke-width="1.0"/>
<line x1="64.00" y1="612.50" x2="64.00" y2="636.00" stroke="#5f5f5f" stroke-width="1.3"/>
<line x1="61.70" y1="612.50" x2="66.30" y2="612.50" stroke="#5f5f5f" stroke-width="1.3"/>
<line x1="61.70" y1="636.00" x2="66.30" y2="636.00" stroke="#5f5f5f" stroke-width="1.3"/>
<line x1="87.50" y1="629.60" x2="87.50" y2="638.30" stroke="#333" stroke-width="1.1"/>
<line x1="85.20" y1="629.60" x2="89.80" y2="629.60" stroke="#333" stroke-width="1.1"/>
<line x1="85.20" y1="638.30" x2="89.80" y2="638.30" stroke="#333" stroke-width="1.1"/>
<circle cx="40.6" cy="646" r="2.2" fill="#a8243b"/>
<circle cx="64" cy="624.4" r="2.2" fill="#a8243b"/>
<circle cx="87.5" cy="634" r="2.2" fill="#a8243b"/>
<text transform="translate(107.40 476.62) scale(0.800 1)" font-size="11.76" text-anchor="middle" fill="#231f20" stroke="#231f20" stroke-width="0.22">E</text>
<text transform="translate(170.60 474.77) scale(0.890 1)" font-size="6.50" text-anchor="middle" fill="#231f20" stroke="#231f20" stroke-width="0.07">RPS19</text>
<line x1="131.50" y1="482.30" x2="131.50" y2="560.00" stroke="#222" stroke-width="1.3"/>
<line x1="128.70" y1="559.40" x2="131.50" y2="559.40" stroke="#222" stroke-width="0.9"/>
<text transform="translate(126.10 561.75) scale(0.890 1)" font-size="6.72" text-anchor="end" fill="#222" stroke="#222" stroke-width="0.05">0.0</text>
<line x1="128.70" y1="544.45" x2="131.50" y2="544.45" stroke="#222" stroke-width="0.9"/>
<text transform="translate(126.10 546.80) scale(0.890 1)" font-size="6.72" text-anchor="end" fill="#222" stroke="#222" stroke-width="0.05">0.5</text>
<line x1="128.70" y1="529.50" x2="131.50" y2="529.50" stroke="#222" stroke-width="0.9"/>
<text transform="translate(126.10 531.85) scale(0.890 1)" font-size="6.72" text-anchor="end" fill="#222" stroke="#222" stroke-width="0.05">1.0</text>
<line x1="128.70" y1="514.55" x2="131.50" y2="514.55" stroke="#222" stroke-width="0.9"/>
<text transform="translate(126.10 516.90) scale(0.890 1)" font-size="6.72" text-anchor="end" fill="#222" stroke="#222" stroke-width="0.05">1.5</text>
<line x1="128.70" y1="499.60" x2="131.50" y2="499.60" stroke="#222" stroke-width="0.9"/>
<text transform="translate(126.10 501.95) scale(0.890 1)" font-size="6.72" text-anchor="end" fill="#222" stroke="#222" stroke-width="0.05">2.0</text>
<line x1="128.70" y1="484.65" x2="131.50" y2="484.65" stroke="#222" stroke-width="0.9"/>
<text transform="translate(126.10 487.00) scale(0.890 1)" font-size="6.72" text-anchor="end" fill="#222" stroke="#222" stroke-width="0.05">2.5</text>
<line x1="130.90" y1="559.40" x2="206.70" y2="559.40" stroke="#222" stroke-width="1.3"/>
<line x1="131.50" y1="559.40" x2="131.50" y2="562.00" stroke="#000" stroke-width="0.8"/>
<text transform="translate(131.50 570.95) scale(0.890 1)" font-size="6.72" text-anchor="middle" fill="#222" stroke="#222" stroke-width="0.05">0</text>
<line x1="155.30" y1="559.40" x2="155.30" y2="562.00" stroke="#000" stroke-width="0.8"/>
<text transform="translate(155.30 570.95) scale(0.890 1)" font-size="6.72" text-anchor="middle" fill="#222" stroke="#222" stroke-width="0.05">10</text>
<line x1="178.70" y1="559.40" x2="178.70" y2="562.00" stroke="#000" stroke-width="0.8"/>
<text transform="translate(178.70 570.95) scale(0.890 1)" font-size="6.72" text-anchor="middle" fill="#222" stroke="#222" stroke-width="0.05">20</text>
<line x1="201.80" y1="559.40" x2="201.80" y2="562.00" stroke="#000" stroke-width="0.8"/>
<text transform="translate(201.80 570.95) scale(0.890 1)" font-size="6.72" text-anchor="middle" fill="#222" stroke="#222" stroke-width="0.05">30</text>
<line x1="143.40" y1="559.40" x2="143.40" y2="561.00" stroke="#000" stroke-width="0.7"/>
<line x1="167.00" y1="559.40" x2="167.00" y2="561.00" stroke="#000" stroke-width="0.7"/>
<line x1="190.25" y1="559.40" x2="190.25" y2="561.00" stroke="#000" stroke-width="0.7"/>
<line x1="206.20" y1="482.30" x2="206.20" y2="560.00" stroke="#222" stroke-width="1.3"/>
<line x1="206.20" y1="559.40" x2="209.00" y2="559.40" stroke="#222" stroke-width="0.9"/>
<text transform="translate(213.00 561.75) scale(0.890 1)" font-size="6.72" text-anchor="start" fill="#222" stroke="#222" stroke-width="0.05">0.0</text>
<line x1="206.20" y1="544.45" x2="209.00" y2="544.45" stroke="#222" stroke-width="0.9"/>
<text transform="translate(213.00 546.80) scale(0.890 1)" font-size="6.72" text-anchor="start" fill="#222" stroke="#222" stroke-width="0.05">0.5</text>
<line x1="206.20" y1="529.50" x2="209.00" y2="529.50" stroke="#222" stroke-width="0.9"/>
<text transform="translate(213.00 531.85) scale(0.890 1)" font-size="6.72" text-anchor="start" fill="#222" stroke="#222" stroke-width="0.05">1.0</text>
<line x1="206.20" y1="514.55" x2="209.00" y2="514.55" stroke="#222" stroke-width="0.9"/>
<text transform="translate(213.00 516.90) scale(0.890 1)" font-size="6.72" text-anchor="start" fill="#222" stroke="#222" stroke-width="0.05">1.5</text>
<line x1="206.20" y1="499.60" x2="209.00" y2="499.60" stroke="#222" stroke-width="0.9"/>
<text transform="translate(213.00 501.95) scale(0.890 1)" font-size="6.72" text-anchor="start" fill="#222" stroke="#222" stroke-width="0.05">2.0</text>
<line x1="206.20" y1="484.65" x2="209.00" y2="484.65" stroke="#222" stroke-width="0.9"/>
<text transform="translate(213.00 487.00) scale(0.890 1)" font-size="6.72" text-anchor="start" fill="#222" stroke="#222" stroke-width="0.05">2.5</text>
<line x1="132.50" y1="529.50" x2="205.20" y2="529.50" stroke="#000" stroke-width="1.1" stroke-dasharray="2.6 1.85"/>
<text transform="translate(108.00 520.85) rotate(-90) translate(0 3.29) scale(0.890 1)" font-size="9.41" text-anchor="middle" fill="#231f20" stroke="#231f20" stroke-width="0.07">Protein</text>
<text transform="translate(229.70 520.85) rotate(90) translate(0 3.21) scale(0.850 1)" font-size="9.18" text-anchor="middle" fill="#231f20" stroke="#231f20" stroke-width="0.07">mRNA</text>
<text transform="translate(170.60 583.75) scale(0.890 1)" font-size="9.86" text-anchor="middle" fill="#231f20" stroke="#231f20" stroke-width="0.07">min</text>
<line x1="166.80" y1="499.40" x2="166.80" y2="505.70" stroke="#222" stroke-width="1.1"/>
<line x1="164.50" y1="499.40" x2="169.10" y2="499.40" stroke="#222" stroke-width="1.1"/>
<line x1="201.80" y1="486.90" x2="201.80" y2="512.30" stroke="#222" stroke-width="1.1"/>
<line x1="199.50" y1="486.90" x2="204.10" y2="486.90" stroke="#222" stroke-width="1.1"/>
<line x1="199.50" y1="512.30" x2="204.10" y2="512.30" stroke="#222" stroke-width="1.1"/>
<polyline points="131.50,529.50 166.80,508.50 201.80,493.80" fill="none" stroke="#a8243b" stroke-width="1.0"/>
<circle cx="166.80" cy="508.50" r="2.4" fill="#fff" stroke="#a8243b" stroke-width="1.05"/>
<circle cx="201.80" cy="493.80" r="2.4" fill="#fff" stroke="#a8243b" stroke-width="1.05"/>
<polyline points="131.50,529.50 166.80,505.70 201.80,500.20" fill="none" stroke="#3d5a89" stroke-width="1.0"/>
<rect x="129.20" y="527.20" width="4.6" height="4.6" fill="#3d5a89"/>
<rect x="164.50" y="503.40" width="4.6" height="4.6" fill="#3d5a89"/>
<rect x="199.50" y="497.90" width="4.6" height="4.6" fill="#3d5a89"/>
<text transform="translate(166.80 495.76) scale(0.890 1)" font-size="6.16" text-anchor="middle" fill="#333" stroke="#333" stroke-width="0.07">†</text>
<circle cx="166.80" cy="516.40" r="0.8" fill="#222"/>
<text transform="translate(201.80 483.16) scale(0.890 1)" font-size="6.16" text-anchor="middle" fill="#333" stroke="#333" stroke-width="0.07">†</text>
<circle cx="200.50" cy="516.40" r="0.8" fill="#222"/>
<circle cx="203.10" cy="516.40" r="0.8" fill="#222"/>
<line x1="134.30" y1="545.00" x2="142.50" y2="545.00" stroke="#3d5a89" stroke-width="1.0"/>
<rect x="136.2" y="542.9" width="4.4" height="4.2" fill="#3d5a89"/>
<text transform="translate(147.00 547.47) scale(0.890 1)" font-size="7.06" text-anchor="start" fill="#231f20" stroke="#231f20" stroke-width="0.07">Protein</text>
<line x1="134.30" y1="554.00" x2="142.50" y2="554.00" stroke="#a8243b" stroke-width="1.0"/>
<circle cx="138.4" cy="554" r="2.3" fill="#fff" stroke="#a8243b" stroke-width="1.0"/>
<text transform="translate(147.00 556.47) scale(0.890 1)" font-size="7.06" text-anchor="start" fill="#231f20" stroke="#231f20" stroke-width="0.07">RNA</text>
<text transform="translate(309.10 474.77) scale(0.890 1)" font-size="6.50" text-anchor="middle" fill="#231f20" stroke="#231f20" stroke-width="0.07">RPS24</text>
<line x1="270.00" y1="482.60" x2="270.00" y2="560.50" stroke="#222" stroke-width="1.3"/>
<line x1="267.20" y1="559.90" x2="270.00" y2="559.90" stroke="#222" stroke-width="0.9"/>
<text transform="translate(264.60 562.25) scale(0.890 1)" font-size="6.72" text-anchor="end" fill="#222" stroke="#222" stroke-width="0.05">0.0</text>
<line x1="267.20" y1="541.15" x2="270.00" y2="541.15" stroke="#222" stroke-width="0.9"/>
<text transform="translate(264.60 543.50) scale(0.890 1)" font-size="6.72" text-anchor="end" fill="#222" stroke="#222" stroke-width="0.05">1.0</text>
<line x1="267.20" y1="522.40" x2="270.00" y2="522.40" stroke="#222" stroke-width="0.9"/>
<text transform="translate(264.60 524.75) scale(0.890 1)" font-size="6.72" text-anchor="end" fill="#222" stroke="#222" stroke-width="0.05">2.0</text>
<line x1="267.20" y1="503.65" x2="270.00" y2="503.65" stroke="#222" stroke-width="0.9"/>
<text transform="translate(264.60 506.00) scale(0.890 1)" font-size="6.72" text-anchor="end" fill="#222" stroke="#222" stroke-width="0.05">3.0</text>
<line x1="267.20" y1="484.90" x2="270.00" y2="484.90" stroke="#222" stroke-width="0.9"/>
<text transform="translate(264.60 487.25) scale(0.890 1)" font-size="6.72" text-anchor="end" fill="#222" stroke="#222" stroke-width="0.05">4.0</text>
<line x1="269.40" y1="559.90" x2="345.80" y2="559.90" stroke="#222" stroke-width="1.3"/>
<line x1="270.00" y1="559.90" x2="270.00" y2="562.50" stroke="#000" stroke-width="0.8"/>
<text transform="translate(270.00 571.45) scale(0.890 1)" font-size="6.72" text-anchor="middle" fill="#222" stroke="#222" stroke-width="0.05">0</text>
<line x1="293.80" y1="559.90" x2="293.80" y2="562.50" stroke="#000" stroke-width="0.8"/>
<text transform="translate(293.80 571.45) scale(0.890 1)" font-size="6.72" text-anchor="middle" fill="#222" stroke="#222" stroke-width="0.05">10</text>
<line x1="317.20" y1="559.90" x2="317.20" y2="562.50" stroke="#000" stroke-width="0.8"/>
<text transform="translate(317.20 571.45) scale(0.890 1)" font-size="6.72" text-anchor="middle" fill="#222" stroke="#222" stroke-width="0.05">20</text>
<line x1="340.40" y1="559.90" x2="340.40" y2="562.50" stroke="#000" stroke-width="0.8"/>
<text transform="translate(340.40 571.45) scale(0.890 1)" font-size="6.72" text-anchor="middle" fill="#222" stroke="#222" stroke-width="0.05">30</text>
<line x1="281.90" y1="559.90" x2="281.90" y2="561.50" stroke="#000" stroke-width="0.7"/>
<line x1="305.50" y1="559.90" x2="305.50" y2="561.50" stroke="#000" stroke-width="0.7"/>
<line x1="328.80" y1="559.90" x2="328.80" y2="561.50" stroke="#000" stroke-width="0.7"/>
<line x1="345.30" y1="482.60" x2="345.30" y2="560.50" stroke="#222" stroke-width="1.3"/>
<line x1="345.30" y1="559.90" x2="348.10" y2="559.90" stroke="#222" stroke-width="0.9"/>
<text transform="translate(352.10 562.25) scale(0.890 1)" font-size="6.72" text-anchor="start" fill="#222" stroke="#222" stroke-width="0.05">0.0</text>
<line x1="345.30" y1="541.15" x2="348.10" y2="541.15" stroke="#222" stroke-width="0.9"/>
<text transform="translate(352.10 543.50) scale(0.890 1)" font-size="6.72" text-anchor="start" fill="#222" stroke="#222" stroke-width="0.05">1.0</text>
<line x1="345.30" y1="522.40" x2="348.10" y2="522.40" stroke="#222" stroke-width="0.9"/>
<text transform="translate(352.10 524.75) scale(0.890 1)" font-size="6.72" text-anchor="start" fill="#222" stroke="#222" stroke-width="0.05">2.0</text>
<line x1="345.30" y1="503.65" x2="348.10" y2="503.65" stroke="#222" stroke-width="0.9"/>
<text transform="translate(352.10 506.00) scale(0.890 1)" font-size="6.72" text-anchor="start" fill="#222" stroke="#222" stroke-width="0.05">3.0</text>
<line x1="345.30" y1="484.90" x2="348.10" y2="484.90" stroke="#222" stroke-width="0.9"/>
<text transform="translate(352.10 487.25) scale(0.890 1)" font-size="6.72" text-anchor="start" fill="#222" stroke="#222" stroke-width="0.05">4.0</text>
<line x1="271.00" y1="541.15" x2="344.30" y2="541.15" stroke="#000" stroke-width="1.1" stroke-dasharray="2.6 1.85"/>
<text transform="translate(246.30 521.25) rotate(-90) translate(0 3.29) scale(0.890 1)" font-size="9.41" text-anchor="middle" fill="#231f20" stroke="#231f20" stroke-width="0.07">Protein</text>
<text transform="translate(366.00 521.25) rotate(90) translate(0 3.21) scale(0.850 1)" font-size="9.18" text-anchor="middle" fill="#231f20" stroke="#231f20" stroke-width="0.07">mRNA</text>
<text transform="translate(308.50 583.75) scale(0.890 1)" font-size="9.86" text-anchor="middle" fill="#231f20" stroke="#231f20" stroke-width="0.07">min</text>
<line x1="305.30" y1="494.20" x2="305.30" y2="507.40" stroke="#555" stroke-width="1.1"/>
<line x1="303.00" y1="494.20" x2="307.60" y2="494.20" stroke="#555" stroke-width="1.1"/>
<line x1="303.00" y1="507.40" x2="307.60" y2="507.40" stroke="#555" stroke-width="1.1"/>
<line x1="305.30" y1="545.40" x2="305.30" y2="551.40" stroke="#222" stroke-width="1.1"/>
<line x1="303.00" y1="545.40" x2="307.60" y2="545.40" stroke="#222" stroke-width="1.1"/>
<line x1="303.00" y1="551.40" x2="307.60" y2="551.40" stroke="#222" stroke-width="1.1"/>
<line x1="340.00" y1="508.30" x2="340.00" y2="514.70" stroke="#222" stroke-width="1.1"/>
<line x1="337.70" y1="508.30" x2="342.30" y2="508.30" stroke="#222" stroke-width="1.1"/>
<polyline points="270.00,541.20 305.30,548.50 340.00,514.70" fill="none" stroke="#a8243b" stroke-width="1.0"/>
<circle cx="305.30" cy="548.50" r="2.4" fill="#fff" stroke="#a8243b" stroke-width="1.05"/>
<circle cx="340.00" cy="514.70" r="2.4" fill="#fff" stroke="#a8243b" stroke-width="1.05"/>
<polyline points="270.00,541.20 305.30,501.10 340.00,520.60" fill="none" stroke="#3d5a89" stroke-width="1.0"/>
<rect x="267.70" y="538.90" width="4.6" height="4.6" fill="#3d5a89"/>
<rect x="303.00" y="498.80" width="4.6" height="4.6" fill="#3d5a89"/>
<rect x="337.70" y="518.30" width="4.6" height="4.6" fill="#3d5a89"/>
<text transform="translate(305.30 491.16) scale(0.890 1)" font-size="6.16" text-anchor="middle" fill="#333" stroke="#333" stroke-width="0.07">††</text>
<circle cx="337.40" cy="506.00" r="0.8" fill="#222"/>
<circle cx="340.00" cy="506.00" r="0.8" fill="#222"/>
<circle cx="342.60" cy="506.00" r="0.8" fill="#222"/>
<text transform="translate(448.90 474.57) scale(0.890 1)" font-size="6.50" text-anchor="middle" fill="#231f20" stroke="#231f20" stroke-width="0.07">RPS26</text>
<line x1="409.90" y1="482.30" x2="409.90" y2="560.20" stroke="#222" stroke-width="1.3"/>
<line x1="407.10" y1="559.60" x2="409.90" y2="559.60" stroke="#222" stroke-width="0.9"/>
<text transform="translate(404.50 561.95) scale(0.890 1)" font-size="6.72" text-anchor="end" fill="#222" stroke="#222" stroke-width="0.05">0.0</text>
<line x1="407.10" y1="540.80" x2="409.90" y2="540.80" stroke="#222" stroke-width="0.9"/>
<text transform="translate(404.50 543.15) scale(0.890 1)" font-size="6.72" text-anchor="end" fill="#222" stroke="#222" stroke-width="0.05">1.0</text>
<line x1="407.10" y1="522.00" x2="409.90" y2="522.00" stroke="#222" stroke-width="0.9"/>
<text transform="translate(404.50 524.35) scale(0.890 1)" font-size="6.72" text-anchor="end" fill="#222" stroke="#222" stroke-width="0.05">2.0</text>
<line x1="407.10" y1="503.20" x2="409.90" y2="503.20" stroke="#222" stroke-width="0.9"/>
<text transform="translate(404.50 505.55) scale(0.890 1)" font-size="6.72" text-anchor="end" fill="#222" stroke="#222" stroke-width="0.05">3.0</text>
<line x1="407.10" y1="484.40" x2="409.90" y2="484.40" stroke="#222" stroke-width="0.9"/>
<text transform="translate(404.50 486.75) scale(0.890 1)" font-size="6.72" text-anchor="end" fill="#222" stroke="#222" stroke-width="0.05">4.0</text>
<line x1="409.30" y1="559.60" x2="485.80" y2="559.60" stroke="#222" stroke-width="1.3"/>
<line x1="409.90" y1="559.60" x2="409.90" y2="562.20" stroke="#000" stroke-width="0.8"/>
<text transform="translate(409.90 571.15) scale(0.890 1)" font-size="6.72" text-anchor="middle" fill="#222" stroke="#222" stroke-width="0.05">0</text>
<line x1="433.60" y1="559.60" x2="433.60" y2="562.20" stroke="#000" stroke-width="0.8"/>
<text transform="translate(433.60 571.15) scale(0.890 1)" font-size="6.72" text-anchor="middle" fill="#222" stroke="#222" stroke-width="0.05">10</text>
<line x1="456.70" y1="559.60" x2="456.70" y2="562.20" stroke="#000" stroke-width="0.8"/>
<text transform="translate(456.70 571.15) scale(0.890 1)" font-size="6.72" text-anchor="middle" fill="#222" stroke="#222" stroke-width="0.05">20</text>
<line x1="479.90" y1="559.60" x2="479.90" y2="562.20" stroke="#000" stroke-width="0.8"/>
<text transform="translate(479.90 571.15) scale(0.890 1)" font-size="6.72" text-anchor="middle" fill="#222" stroke="#222" stroke-width="0.05">30</text>
<line x1="421.75" y1="559.60" x2="421.75" y2="561.20" stroke="#000" stroke-width="0.7"/>
<line x1="445.15" y1="559.60" x2="445.15" y2="561.20" stroke="#000" stroke-width="0.7"/>
<line x1="468.30" y1="559.60" x2="468.30" y2="561.20" stroke="#000" stroke-width="0.7"/>
<line x1="485.30" y1="482.30" x2="485.30" y2="560.20" stroke="#222" stroke-width="1.3"/>
<line x1="485.30" y1="559.60" x2="488.10" y2="559.60" stroke="#222" stroke-width="0.9"/>
<text transform="translate(492.10 561.95) scale(0.890 1)" font-size="6.72" text-anchor="start" fill="#222" stroke="#222" stroke-width="0.05">0.0</text>
<line x1="485.30" y1="540.80" x2="488.10" y2="540.80" stroke="#222" stroke-width="0.9"/>
<text transform="translate(492.10 543.15) scale(0.890 1)" font-size="6.72" text-anchor="start" fill="#222" stroke="#222" stroke-width="0.05">1.0</text>
<line x1="485.30" y1="522.00" x2="488.10" y2="522.00" stroke="#222" stroke-width="0.9"/>
<text transform="translate(492.10 524.35) scale(0.890 1)" font-size="6.72" text-anchor="start" fill="#222" stroke="#222" stroke-width="0.05">2.0</text>
<line x1="485.30" y1="503.20" x2="488.10" y2="503.20" stroke="#222" stroke-width="0.9"/>
<text transform="translate(492.10 505.55) scale(0.890 1)" font-size="6.72" text-anchor="start" fill="#222" stroke="#222" stroke-width="0.05">3.0</text>
<line x1="485.30" y1="484.40" x2="488.10" y2="484.40" stroke="#222" stroke-width="0.9"/>
<text transform="translate(492.10 486.75) scale(0.890 1)" font-size="6.72" text-anchor="start" fill="#222" stroke="#222" stroke-width="0.05">4.0</text>
<line x1="410.90" y1="541.30" x2="484.30" y2="541.30" stroke="#000" stroke-width="1.1" stroke-dasharray="2.6 1.85"/>
<text transform="translate(386.20 520.95) rotate(-90) translate(0 3.29) scale(0.890 1)" font-size="9.41" text-anchor="middle" fill="#231f20" stroke="#231f20" stroke-width="0.07">Protein</text>
<text transform="translate(508.60 520.95) rotate(90) translate(0 3.21) scale(0.850 1)" font-size="9.18" text-anchor="middle" fill="#231f20" stroke="#231f20" stroke-width="0.07">mRNA</text>
<text transform="translate(448.20 584.45) scale(0.890 1)" font-size="9.86" text-anchor="middle" fill="#231f20" stroke="#231f20" stroke-width="0.07">min</text>
<line x1="445.30" y1="543.90" x2="445.30" y2="550.30" stroke="#222" stroke-width="1.1"/>
<line x1="443.00" y1="543.90" x2="447.60" y2="543.90" stroke="#222" stroke-width="1.1"/>
<line x1="443.00" y1="550.30" x2="447.60" y2="550.30" stroke="#222" stroke-width="1.1"/>
<line x1="480.10" y1="499.90" x2="480.10" y2="515.60" stroke="#444" stroke-width="1.1"/>
<line x1="477.80" y1="515.60" x2="482.40" y2="515.60" stroke="#444" stroke-width="1.1"/>
<polyline points="409.90,540.80 445.30,547.00 480.10,499.90" fill="none" stroke="#a8243b" stroke-width="1.0"/>
<circle cx="445.30" cy="547.00" r="2.4" fill="#fff" stroke="#a8243b" stroke-width="1.05"/>
<circle cx="480.10" cy="499.90" r="2.4" fill="#fff" stroke="#a8243b" stroke-width="1.05"/>
<polyline points="409.90,540.80 445.30,531.40 480.10,522.80" fill="none" stroke="#3d5a89" stroke-width="1.0"/>
<rect x="407.60" y="538.50" width="4.6" height="4.6" fill="#3d5a89"/>
<rect x="443.00" y="529.10" width="4.6" height="4.6" fill="#3d5a89"/>
<rect x="477.80" y="520.50" width="4.6" height="4.6" fill="#3d5a89"/>
<text transform="translate(445.30 526.16) scale(0.890 1)" font-size="6.16" text-anchor="middle" fill="#333" stroke="#333" stroke-width="0.07">†</text>
<circle cx="480.10" cy="494.70" r="0.8" fill="#222"/>
<text transform="translate(480.10 532.96) scale(0.890 1)" font-size="6.16" text-anchor="middle" fill="#333" stroke="#333" stroke-width="0.07">††</text>
<text transform="translate(167.30 598.57) scale(0.890 1)" font-size="6.50" text-anchor="middle" fill="#231f20" stroke="#231f20" stroke-width="0.07">RPS14</text>
<line x1="131.50" y1="606.00" x2="131.50" y2="683.90" stroke="#222" stroke-width="1.3"/>
<line x1="128.70" y1="683.30" x2="131.50" y2="683.30" stroke="#222" stroke-width="0.9"/>
<text transform="translate(126.10 685.65) scale(0.890 1)" font-size="6.72" text-anchor="end" fill="#222" stroke="#222" stroke-width="0.05">0.0</text>
<line x1="128.70" y1="668.30" x2="131.50" y2="668.30" stroke="#222" stroke-width="0.9"/>
<text transform="translate(126.10 670.65) scale(0.890 1)" font-size="6.72" text-anchor="end" fill="#222" stroke="#222" stroke-width="0.05">0.5</text>
<line x1="128.70" y1="653.30" x2="131.50" y2="653.30" stroke="#222" stroke-width="0.9"/>
<text transform="translate(126.10 655.65) scale(0.890 1)" font-size="6.72" text-anchor="end" fill="#222" stroke="#222" stroke-width="0.05">1.0</text>
<line x1="128.70" y1="638.30" x2="131.50" y2="638.30" stroke="#222" stroke-width="0.9"/>
<text transform="translate(126.10 640.65) scale(0.890 1)" font-size="6.72" text-anchor="end" fill="#222" stroke="#222" stroke-width="0.05">1.5</text>
<line x1="128.70" y1="623.30" x2="131.50" y2="623.30" stroke="#222" stroke-width="0.9"/>
<text transform="translate(126.10 625.65) scale(0.890 1)" font-size="6.72" text-anchor="end" fill="#222" stroke="#222" stroke-width="0.05">2.0</text>
<line x1="128.70" y1="608.30" x2="131.50" y2="608.30" stroke="#222" stroke-width="0.9"/>
<text transform="translate(126.10 610.65) scale(0.890 1)" font-size="6.72" text-anchor="end" fill="#222" stroke="#222" stroke-width="0.05">2.5</text>
<line x1="130.90" y1="683.30" x2="206.40" y2="683.30" stroke="#222" stroke-width="1.3"/>
<line x1="131.50" y1="683.30" x2="131.50" y2="685.90" stroke="#000" stroke-width="0.8"/>
<text transform="translate(131.50 694.85) scale(0.890 1)" font-size="6.72" text-anchor="middle" fill="#222" stroke="#222" stroke-width="0.05">0</text>
<line x1="155.30" y1="683.30" x2="155.30" y2="685.90" stroke="#000" stroke-width="0.8"/>
<text transform="translate(155.30 694.85) scale(0.890 1)" font-size="6.72" text-anchor="middle" fill="#222" stroke="#222" stroke-width="0.05">10</text>
<line x1="178.70" y1="683.30" x2="178.70" y2="685.90" stroke="#000" stroke-width="0.8"/>
<text transform="translate(178.70 694.85) scale(0.890 1)" font-size="6.72" text-anchor="middle" fill="#222" stroke="#222" stroke-width="0.05">20</text>
<line x1="201.80" y1="683.30" x2="201.80" y2="685.90" stroke="#000" stroke-width="0.8"/>
<text transform="translate(201.80 694.85) scale(0.890 1)" font-size="6.72" text-anchor="middle" fill="#222" stroke="#222" stroke-width="0.05">30</text>
<line x1="143.40" y1="683.30" x2="143.40" y2="684.90" stroke="#000" stroke-width="0.7"/>
<line x1="167.00" y1="683.30" x2="167.00" y2="684.90" stroke="#000" stroke-width="0.7"/>
<line x1="190.25" y1="683.30" x2="190.25" y2="684.90" stroke="#000" stroke-width="0.7"/>
<line x1="205.90" y1="606.00" x2="205.90" y2="683.90" stroke="#222" stroke-width="1.3"/>
<line x1="205.90" y1="683.30" x2="208.70" y2="683.30" stroke="#222" stroke-width="0.9"/>
<text transform="translate(212.70 685.65) scale(0.890 1)" font-size="6.72" text-anchor="start" fill="#222" stroke="#222" stroke-width="0.05">0.0</text>
<line x1="205.90" y1="668.30" x2="208.70" y2="668.30" stroke="#222" stroke-width="0.9"/>
<text transform="translate(212.70 670.65) scale(0.890 1)" font-size="6.72" text-anchor="start" fill="#222" stroke="#222" stroke-width="0.05">0.5</text>
<line x1="205.90" y1="653.30" x2="208.70" y2="653.30" stroke="#222" stroke-width="0.9"/>
<text transform="translate(212.70 655.65) scale(0.890 1)" font-size="6.72" text-anchor="start" fill="#222" stroke="#222" stroke-width="0.05">1.0</text>
<line x1="205.90" y1="638.30" x2="208.70" y2="638.30" stroke="#222" stroke-width="0.9"/>
<text transform="translate(212.70 640.65) scale(0.890 1)" font-size="6.72" text-anchor="start" fill="#222" stroke="#222" stroke-width="0.05">1.5</text>
<line x1="205.90" y1="623.30" x2="208.70" y2="623.30" stroke="#222" stroke-width="0.9"/>
<text transform="translate(212.70 625.65) scale(0.890 1)" font-size="6.72" text-anchor="start" fill="#222" stroke="#222" stroke-width="0.05">2.0</text>
<line x1="205.90" y1="608.30" x2="208.70" y2="608.30" stroke="#222" stroke-width="0.9"/>
<text transform="translate(212.70 610.65) scale(0.890 1)" font-size="6.72" text-anchor="start" fill="#222" stroke="#222" stroke-width="0.05">2.5</text>
<line x1="132.50" y1="653.30" x2="204.90" y2="653.30" stroke="#000" stroke-width="1.1" stroke-dasharray="2.6 1.85"/>
<text transform="translate(108.60 644.65) rotate(-90) translate(0 3.29) scale(0.890 1)" font-size="9.41" text-anchor="middle" fill="#231f20" stroke="#231f20" stroke-width="0.07">Protein</text>
<text transform="translate(229.00 644.65) rotate(90) translate(0 3.21) scale(0.850 1)" font-size="9.18" text-anchor="middle" fill="#231f20" stroke="#231f20" stroke-width="0.07">mRNA</text>
<text transform="translate(170.50 706.95) scale(0.890 1)" font-size="9.86" text-anchor="middle" fill="#231f20" stroke="#231f20" stroke-width="0.07">min</text>
<line x1="166.50" y1="641.50" x2="166.50" y2="660.40" stroke="#222" stroke-width="1.1"/>
<line x1="164.20" y1="641.50" x2="168.80" y2="641.50" stroke="#222" stroke-width="1.1"/>
<line x1="164.20" y1="660.40" x2="168.80" y2="660.40" stroke="#222" stroke-width="1.1"/>
<line x1="201.80" y1="644.20" x2="201.80" y2="652.30" stroke="#222" stroke-width="1.1"/>
<line x1="199.50" y1="652.30" x2="204.10" y2="652.30" stroke="#222" stroke-width="1.1"/>
<line x1="166.50" y1="629.40" x2="166.50" y2="637.50" stroke="#222" stroke-width="1.1"/>
<line x1="164.20" y1="629.40" x2="168.80" y2="629.40" stroke="#222" stroke-width="1.1"/>
<line x1="164.20" y1="637.50" x2="168.80" y2="637.50" stroke="#222" stroke-width="1.1"/>
<line x1="201.80" y1="622.20" x2="201.80" y2="630.80" stroke="#222" stroke-width="1.1"/>
<line x1="199.50" y1="622.20" x2="204.10" y2="622.20" stroke="#222" stroke-width="1.1"/>
<polyline points="131.50,653.30 166.50,634.00 201.80,630.80" fill="none" stroke="#a8243b" stroke-width="1.0"/>
<circle cx="166.50" cy="634.00" r="2.4" fill="#fff" stroke="#a8243b" stroke-width="1.05"/>
<circle cx="201.80" cy="630.80" r="2.4" fill="#fff" stroke="#a8243b" stroke-width="1.05"/>
<polyline points="131.50,653.30 166.50,651.00 201.80,644.20" fill="none" stroke="#3d5a89" stroke-width="1.0"/>
<rect x="129.20" y="651.00" width="4.6" height="4.6" fill="#3d5a89"/>
<rect x="164.20" y="648.70" width="4.6" height="4.6" fill="#3d5a89"/>
<rect x="199.50" y="641.90" width="4.6" height="4.6" fill="#3d5a89"/>
<circle cx="166.50" cy="626.80" r="0.8" fill="#222"/>
<circle cx="201.80" cy="618.80" r="0.8" fill="#222"/>
<text transform="translate(308.20 598.57) scale(0.890 1)" font-size="6.50" text-anchor="middle" fill="#231f20" stroke="#231f20" stroke-width="0.07">RPL35</text>
<line x1="270.00" y1="606.00" x2="270.00" y2="683.90" stroke="#222" stroke-width="1.3"/>
<line x1="267.20" y1="683.30" x2="270.00" y2="683.30" stroke="#222" stroke-width="0.9"/>
<text transform="translate(264.60 685.65) scale(0.890 1)" font-size="6.72" text-anchor="end" fill="#222" stroke="#222" stroke-width="0.05">0.0</text>
<line x1="267.20" y1="668.30" x2="270.00" y2="668.30" stroke="#222" stroke-width="0.9"/>
<text transform="translate(264.60 670.65) scale(0.890 1)" font-size="6.72" text-anchor="end" fill="#222" stroke="#222" stroke-width="0.05">0.5</text>
<line x1="267.20" y1="653.30" x2="270.00" y2="653.30" stroke="#222" stroke-width="0.9"/>
<text transform="translate(264.60 655.65) scale(0.890 1)" font-size="6.72" text-anchor="end" fill="#222" stroke="#222" stroke-width="0.05">1.0</text>
<line x1="267.20" y1="638.30" x2="270.00" y2="638.30" stroke="#222" stroke-width="0.9"/>
<text transform="translate(264.60 640.65) scale(0.890 1)" font-size="6.72" text-anchor="end" fill="#222" stroke="#222" stroke-width="0.05">1.5</text>
<line x1="267.20" y1="623.30" x2="270.00" y2="623.30" stroke="#222" stroke-width="0.9"/>
<text transform="translate(264.60 625.65) scale(0.890 1)" font-size="6.72" text-anchor="end" fill="#222" stroke="#222" stroke-width="0.05">2.0</text>
<line x1="267.20" y1="608.30" x2="270.00" y2="608.30" stroke="#222" stroke-width="0.9"/>
<text transform="translate(264.60 610.65) scale(0.890 1)" font-size="6.72" text-anchor="end" fill="#222" stroke="#222" stroke-width="0.05">2.5</text>
<line x1="269.40" y1="683.30" x2="345.00" y2="683.30" stroke="#222" stroke-width="1.3"/>
<line x1="270.00" y1="683.30" x2="270.00" y2="685.90" stroke="#000" stroke-width="0.8"/>
<text transform="translate(270.00 694.85) scale(0.890 1)" font-size="6.72" text-anchor="middle" fill="#222" stroke="#222" stroke-width="0.05">0</text>
<line x1="293.70" y1="683.30" x2="293.70" y2="685.90" stroke="#000" stroke-width="0.8"/>
<text transform="translate(293.70 694.85) scale(0.890 1)" font-size="6.72" text-anchor="middle" fill="#222" stroke="#222" stroke-width="0.05">10</text>
<line x1="317.10" y1="683.30" x2="317.10" y2="685.90" stroke="#000" stroke-width="0.8"/>
<text transform="translate(317.10 694.85) scale(0.890 1)" font-size="6.72" text-anchor="middle" fill="#222" stroke="#222" stroke-width="0.05">20</text>
<line x1="340.50" y1="683.30" x2="340.50" y2="685.90" stroke="#000" stroke-width="0.8"/>
<text transform="translate(340.50 694.85) scale(0.890 1)" font-size="6.72" text-anchor="middle" fill="#222" stroke="#222" stroke-width="0.05">30</text>
<line x1="281.85" y1="683.30" x2="281.85" y2="684.90" stroke="#000" stroke-width="0.7"/>
<line x1="305.40" y1="683.30" x2="305.40" y2="684.90" stroke="#000" stroke-width="0.7"/>
<line x1="328.80" y1="683.30" x2="328.80" y2="684.90" stroke="#000" stroke-width="0.7"/>
<line x1="344.50" y1="606.00" x2="344.50" y2="683.90" stroke="#222" stroke-width="1.3"/>
<line x1="344.50" y1="683.30" x2="347.30" y2="683.30" stroke="#222" stroke-width="0.9"/>
<text transform="translate(351.30 685.65) scale(0.890 1)" font-size="6.72" text-anchor="start" fill="#222" stroke="#222" stroke-width="0.05">0.0</text>
<line x1="344.50" y1="668.30" x2="347.30" y2="668.30" stroke="#222" stroke-width="0.9"/>
<text transform="translate(351.30 670.65) scale(0.890 1)" font-size="6.72" text-anchor="start" fill="#222" stroke="#222" stroke-width="0.05">0.5</text>
<line x1="344.50" y1="653.30" x2="347.30" y2="653.30" stroke="#222" stroke-width="0.9"/>
<text transform="translate(351.30 655.65) scale(0.890 1)" font-size="6.72" text-anchor="start" fill="#222" stroke="#222" stroke-width="0.05">1.0</text>
<line x1="344.50" y1="638.30" x2="347.30" y2="638.30" stroke="#222" stroke-width="0.9"/>
<text transform="translate(351.30 640.65) scale(0.890 1)" font-size="6.72" text-anchor="start" fill="#222" stroke="#222" stroke-width="0.05">1.5</text>
<line x1="344.50" y1="623.30" x2="347.30" y2="623.30" stroke="#222" stroke-width="0.9"/>
<text transform="translate(351.30 625.65) scale(0.890 1)" font-size="6.72" text-anchor="start" fill="#222" stroke="#222" stroke-width="0.05">2.0</text>
<line x1="344.50" y1="608.30" x2="347.30" y2="608.30" stroke="#222" stroke-width="0.9"/>
<text transform="translate(351.30 610.65) scale(0.890 1)" font-size="6.72" text-anchor="start" fill="#222" stroke="#222" stroke-width="0.05">2.5</text>
<line x1="271.00" y1="653.30" x2="343.50" y2="653.30" stroke="#000" stroke-width="1.1" stroke-dasharray="2.6 1.85"/>
<text transform="translate(246.30 644.65) rotate(-90) translate(0 3.29) scale(0.890 1)" font-size="9.41" text-anchor="middle" fill="#231f20" stroke="#231f20" stroke-width="0.07">Protein</text>
<text transform="translate(366.00 644.65) rotate(90) translate(0 3.21) scale(0.850 1)" font-size="9.18" text-anchor="middle" fill="#231f20" stroke="#231f20" stroke-width="0.07">mRNA</text>
<text transform="translate(308.20 706.95) scale(0.890 1)" font-size="9.86" text-anchor="middle" fill="#231f20" stroke="#231f20" stroke-width="0.07">min</text>
<line x1="305.50" y1="649.60" x2="305.50" y2="659.90" stroke="#222" stroke-width="1.1"/>
<line x1="303.20" y1="649.60" x2="307.80" y2="649.60" stroke="#222" stroke-width="1.1"/>
<line x1="303.20" y1="659.90" x2="307.80" y2="659.90" stroke="#222" stroke-width="1.1"/>
<line x1="340.50" y1="643.70" x2="340.50" y2="656.40" stroke="#222" stroke-width="1.1"/>
<line x1="338.20" y1="643.70" x2="342.80" y2="643.70" stroke="#222" stroke-width="1.1"/>
<line x1="338.20" y1="656.40" x2="342.80" y2="656.40" stroke="#222" stroke-width="1.1"/>
<line x1="305.50" y1="622.20" x2="305.50" y2="635.60" stroke="#222" stroke-width="1.1"/>
<line x1="303.20" y1="622.20" x2="307.80" y2="622.20" stroke="#222" stroke-width="1.1"/>
<line x1="303.20" y1="635.60" x2="307.80" y2="635.60" stroke="#222" stroke-width="1.1"/>
<line x1="340.50" y1="612.70" x2="340.50" y2="624.00" stroke="#222" stroke-width="1.1"/>
<line x1="338.20" y1="624.00" x2="342.80" y2="624.00" stroke="#222" stroke-width="1.1"/>
<polyline points="270.00,653.30 305.50,628.60 340.50,612.70" fill="none" stroke="#a8243b" stroke-width="1.0"/>
<circle cx="305.50" cy="628.60" r="2.4" fill="#fff" stroke="#a8243b" stroke-width="1.05"/>
<circle cx="340.50" cy="612.70" r="2.4" fill="#fff" stroke="#a8243b" stroke-width="1.05"/>
<polyline points="270.00,653.30 305.50,655.80 340.50,649.60" fill="none" stroke="#3d5a89" stroke-width="1.0"/>
<rect x="267.70" y="651.00" width="4.6" height="4.6" fill="#3d5a89"/>
<rect x="303.20" y="653.50" width="4.6" height="4.6" fill="#3d5a89"/>
<rect x="338.20" y="647.30" width="4.6" height="4.6" fill="#3d5a89"/>
<circle cx="305.50" cy="618.80" r="0.8" fill="#222"/>
<circle cx="340.50" cy="607.20" r="0.8" fill="#222"/>
<text transform="translate(384.80 600.32) scale(0.800 1)" font-size="11.76" text-anchor="middle" fill="#231f20" stroke="#231f20" stroke-width="0.22">F</text>
<text transform="translate(446.10 597.87) scale(0.890 1)" font-size="6.50" text-anchor="middle" fill="#231f20" stroke="#231f20" stroke-width="0.07">rRNA</text>
<line x1="409.90" y1="605.90" x2="409.90" y2="683.20" stroke="#222" stroke-width="1.3"/>
<line x1="407.10" y1="682.60" x2="409.90" y2="682.60" stroke="#222" stroke-width="0.9"/>
<text transform="translate(404.50 684.95) scale(0.890 1)" font-size="6.72" text-anchor="end" fill="#222" stroke="#222" stroke-width="0.05">0</text>
<line x1="407.10" y1="658.10" x2="409.90" y2="658.10" stroke="#222" stroke-width="0.9"/>
<text transform="translate(404.50 660.45) scale(0.890 1)" font-size="6.72" text-anchor="end" fill="#222" stroke="#222" stroke-width="0.05">1</text>
<line x1="407.10" y1="633.20" x2="409.90" y2="633.20" stroke="#222" stroke-width="0.9"/>
<text transform="translate(404.50 635.55) scale(0.890 1)" font-size="6.72" text-anchor="end" fill="#222" stroke="#222" stroke-width="0.05">2</text>
<line x1="407.10" y1="608.70" x2="409.90" y2="608.70" stroke="#222" stroke-width="0.9"/>
<text transform="translate(404.50 611.05) scale(0.890 1)" font-size="6.72" text-anchor="end" fill="#222" stroke="#222" stroke-width="0.05">3</text>
<line x1="409.30" y1="682.60" x2="485.10" y2="682.60" stroke="#222" stroke-width="1.3"/>
<line x1="409.90" y1="682.60" x2="409.90" y2="685.20" stroke="#000" stroke-width="0.8"/>
<text transform="translate(409.90 694.15) scale(0.890 1)" font-size="6.72" text-anchor="middle" fill="#222" stroke="#222" stroke-width="0.05">0</text>
<line x1="433.60" y1="682.60" x2="433.60" y2="685.20" stroke="#000" stroke-width="0.8"/>
<text transform="translate(433.60 694.15) scale(0.890 1)" font-size="6.72" text-anchor="middle" fill="#222" stroke="#222" stroke-width="0.05">10</text>
<line x1="456.70" y1="682.60" x2="456.70" y2="685.20" stroke="#000" stroke-width="0.8"/>
<text transform="translate(456.70 694.15) scale(0.890 1)" font-size="6.72" text-anchor="middle" fill="#222" stroke="#222" stroke-width="0.05">20</text>
<line x1="480.40" y1="682.60" x2="480.40" y2="685.20" stroke="#000" stroke-width="0.8"/>
<text transform="translate(480.40 694.15) scale(0.890 1)" font-size="6.72" text-anchor="middle" fill="#222" stroke="#222" stroke-width="0.05">30</text>
<line x1="421.75" y1="682.60" x2="421.75" y2="684.20" stroke="#000" stroke-width="0.7"/>
<line x1="445.15" y1="682.60" x2="445.15" y2="684.20" stroke="#000" stroke-width="0.7"/>
<line x1="468.55" y1="682.60" x2="468.55" y2="684.20" stroke="#000" stroke-width="0.7"/>
<line x1="408.30" y1="670.30" x2="409.90" y2="670.30" stroke="#000" stroke-width="0.6"/>
<line x1="408.30" y1="645.70" x2="409.90" y2="645.70" stroke="#000" stroke-width="0.6"/>
<line x1="408.30" y1="621.10" x2="409.90" y2="621.10" stroke="#000" stroke-width="0.6"/>
<line x1="411.00" y1="658.10" x2="485.00" y2="658.10" stroke="#000" stroke-width="1.2" stroke-dasharray="2.2 1.9"/>
<text transform="translate(392.30 643.60) rotate(-90) translate(0 2.98) scale(0.890 1)" font-size="8.51" text-anchor="middle" fill="#231f20" stroke="#231f20" stroke-width="0.07">Relative rRNA</text>
<text transform="translate(447.90 707.85) scale(0.890 1)" font-size="9.86" text-anchor="middle" fill="#231f20" stroke="#231f20" stroke-width="0.07">min</text>
<line x1="445.60" y1="651.40" x2="445.60" y2="667.30" stroke="#222" stroke-width="1.0"/>
<line x1="443.40" y1="651.40" x2="447.80" y2="651.40" stroke="#222" stroke-width="1.0"/>
<line x1="443.40" y1="667.30" x2="447.80" y2="667.30" stroke="#222" stroke-width="1.0"/>
<line x1="443.40" y1="653.00" x2="447.80" y2="653.00" stroke="#222" stroke-width="0.9"/>
<line x1="480.40" y1="607.50" x2="480.40" y2="631.00" stroke="#222" stroke-width="1.0"/>
<line x1="478.10" y1="631.00" x2="482.70" y2="631.00" stroke="#222" stroke-width="1.0"/>
<polyline points="409.9,658.1 445.6,658.9 480.4,639.4" fill="none" stroke="#a8243b" stroke-width="1.0"/>
<polyline points="409.9,658.1 445.6,658.5 480.4,613.4" fill="none" stroke="#3d5a89" stroke-width="1.0"/>
<path d="M445.60 656.70L448.50 659.60L445.60 662.50L442.70 659.60Z" fill="#fff" stroke="#a8243b" stroke-width="1.1"/>
<path d="M480.40 636.50L483.30 639.40L480.40 642.30L477.50 639.40Z" fill="#fff" stroke="#a8243b" stroke-width="1.1"/>
<path d="M409.90 655.20L412.80 658.10L409.90 661.00L407.00 658.10Z" fill="#3d5a89" stroke="#3d5a89" stroke-width="0.5"/>
<path d="M445.60 655.40L448.50 658.30L445.60 661.20L442.70 658.30Z" fill="#3d5a89" stroke="#3d5a89" stroke-width="0.5"/>
<path d="M480.40 610.50L483.30 613.40L480.40 616.30L477.50 613.40Z" fill="#3d5a89" stroke="#3d5a89" stroke-width="0.5"/>
<path d="M409.90 655.20L412.80 658.10L409.90 661.00L407.00 658.10Z" fill="none" stroke="#a8243b" stroke-width="0.7"/>
<circle cx="480.40" cy="604.60" r="0.8" fill="#222"/>
<circle cx="480.40" cy="647.20" r="0.8" fill="#222"/>
<line x1="413.70" y1="617.90" x2="423.00" y2="617.90" stroke="#a8243b" stroke-width="1.0"/>
<path d="M418.30 615.10L421.10 617.90L418.30 620.70L415.50 617.90Z" fill="#fff" stroke="#a8243b" stroke-width="1.1"/>
<text transform="translate(426.60 620.33) scale(0.890 1)" font-size="6.94" text-anchor="start" fill="#231f20" stroke="#231f20" stroke-width="0.07">18s</text>
<line x1="413.70" y1="627.40" x2="423.00" y2="627.40" stroke="#3d5a89" stroke-width="1.0"/>
<path d="M418.30 624.60L421.10 627.40L418.30 630.20L415.50 627.40Z" fill="#3d5a89" stroke="#3d5a89" stroke-width="0.5"/>
<text transform="translate(426.60 629.83) scale(0.890 1)" font-size="6.94" text-anchor="start" fill="#231f20" stroke="#231f20" stroke-width="0.07">28s</text>
<rect x="0.5" y="0.5" width="519" height="713" fill="none" stroke="#585858" stroke-width="1.1"/>
</svg>
</body></html>
